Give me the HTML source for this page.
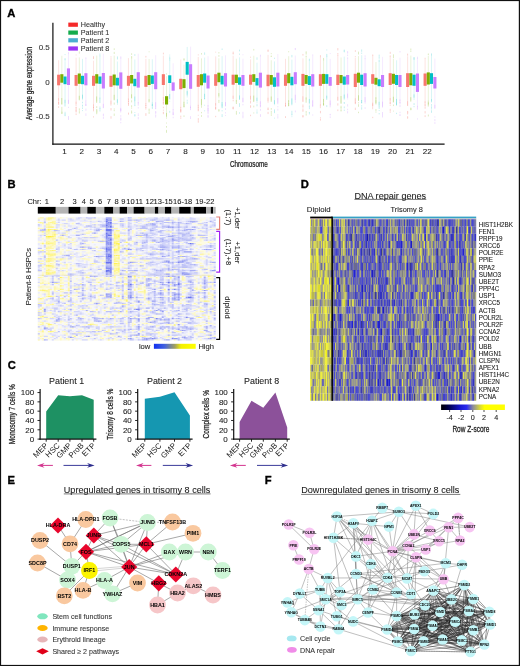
<!DOCTYPE html>
<html><head><meta charset="utf-8"><style>
html,body{margin:0;padding:0;background:#fff;}
body{width:520px;height:666px;overflow:hidden;}
svg{display:block;font-family:"Liberation Sans",sans-serif;will-change:transform;}
</style></head><body>
<svg width="520" height="666" viewBox="0 0 520 666">
<rect x="0" y="0" width="520" height="666" fill="#fff"/>
<text x="7.2" y="16.68" font-size="11.2" text-anchor="start" fill="#000" font-weight="bold" stroke="#000" stroke-width="0.35">A</text>
<rect x="68.3" y="22.6" width="9.6" height="4.2" fill="#f52a2a"/>
<text x="80.8" y="27.26" font-size="7.2" text-anchor="start" fill="#333" stroke="#333" stroke-width="0.08">Healthy</text>
<rect x="68.3" y="30.5" width="9.6" height="4.2" fill="#14ac4c"/>
<text x="80.8" y="35.16" font-size="7.2" text-anchor="start" fill="#333" stroke="#333" stroke-width="0.08">Patient 1</text>
<rect x="68.3" y="38.2" width="9.6" height="4.2" fill="#4aaed0"/>
<text x="80.8" y="42.86" font-size="7.2" text-anchor="start" fill="#333" stroke="#333" stroke-width="0.08">Patient 2</text>
<rect x="68.3" y="46.4" width="9.6" height="4.2" fill="#9a35f5"/>
<text x="80.8" y="51.06" font-size="7.2" text-anchor="start" fill="#333" stroke="#333" stroke-width="0.08">Patient 8</text>
<line x1="52.9" y1="22.8" x2="52.9" y2="144.7" stroke="#111" stroke-width="1.2"/>
<line x1="52.3" y1="144.1" x2="444.6" y2="144.1" stroke="#111" stroke-width="1.3"/>
<text x="49.8" y="49.54" font-size="8" text-anchor="end" fill="#333" stroke="#333" stroke-width="0.08">0.5</text>
<text x="49.8" y="85.04" font-size="8" text-anchor="end" fill="#333" stroke="#333" stroke-width="0.08">0</text>
<text x="49.8" y="119.24" font-size="8" text-anchor="end" fill="#333" stroke="#333" stroke-width="0.08">-0.5</text>
<text x="64.5" y="154.38" font-size="8.1" text-anchor="middle" fill="#222" stroke="#222" stroke-width="0.08">1</text>
<text x="81.77" y="154.38" font-size="8.1" text-anchor="middle" fill="#222" stroke="#222" stroke-width="0.08">2</text>
<text x="99.04" y="154.38" font-size="8.1" text-anchor="middle" fill="#222" stroke="#222" stroke-width="0.08">3</text>
<text x="116.31" y="154.38" font-size="8.1" text-anchor="middle" fill="#222" stroke="#222" stroke-width="0.08">4</text>
<text x="133.58" y="154.38" font-size="8.1" text-anchor="middle" fill="#222" stroke="#222" stroke-width="0.08">5</text>
<text x="150.85" y="154.38" font-size="8.1" text-anchor="middle" fill="#222" stroke="#222" stroke-width="0.08">6</text>
<text x="168.12" y="154.38" font-size="8.1" text-anchor="middle" fill="#222" stroke="#222" stroke-width="0.08">7</text>
<text x="185.39" y="154.38" font-size="8.1" text-anchor="middle" fill="#222" stroke="#222" stroke-width="0.08">8</text>
<text x="202.66" y="154.38" font-size="8.1" text-anchor="middle" fill="#222" stroke="#222" stroke-width="0.08">9</text>
<text x="219.93" y="154.38" font-size="8.1" text-anchor="middle" fill="#222" stroke="#222" stroke-width="0.08">10</text>
<text x="237.2" y="154.38" font-size="8.1" text-anchor="middle" fill="#222" stroke="#222" stroke-width="0.08">11</text>
<text x="254.47" y="154.38" font-size="8.1" text-anchor="middle" fill="#222" stroke="#222" stroke-width="0.08">12</text>
<text x="271.74" y="154.38" font-size="8.1" text-anchor="middle" fill="#222" stroke="#222" stroke-width="0.08">13</text>
<text x="289.01" y="154.38" font-size="8.1" text-anchor="middle" fill="#222" stroke="#222" stroke-width="0.08">14</text>
<text x="306.28" y="154.38" font-size="8.1" text-anchor="middle" fill="#222" stroke="#222" stroke-width="0.08">15</text>
<text x="323.55" y="154.38" font-size="8.1" text-anchor="middle" fill="#222" stroke="#222" stroke-width="0.08">16</text>
<text x="340.82" y="154.38" font-size="8.1" text-anchor="middle" fill="#222" stroke="#222" stroke-width="0.08">17</text>
<text x="358.09" y="154.38" font-size="8.1" text-anchor="middle" fill="#222" stroke="#222" stroke-width="0.08">18</text>
<text x="375.36" y="154.38" font-size="8.1" text-anchor="middle" fill="#222" stroke="#222" stroke-width="0.08">19</text>
<text x="392.63" y="154.38" font-size="8.1" text-anchor="middle" fill="#222" stroke="#222" stroke-width="0.08">20</text>
<text x="409.9" y="154.38" font-size="8.1" text-anchor="middle" fill="#222" stroke="#222" stroke-width="0.08">21</text>
<text x="427.17" y="154.38" font-size="8.1" text-anchor="middle" fill="#222" stroke="#222" stroke-width="0.08">22</text>
<text x="0" y="2.91" font-size="8.2" text-anchor="middle" fill="#222" transform="translate(248.8 163.8) scale(0.77 1)" stroke="#222" stroke-width="0.25">Chromosome</text>
<text x="0" y="2.91" font-size="8.2" text-anchor="middle" fill="#222" transform="translate(28.6 83.4) rotate(-90) scale(0.79 1)" stroke="#222" stroke-width="0.25">Average gene expression</text>
<g><line x1="58.65" y1="60.19" x2="58.65" y2="100.72" stroke="#fbd0cc" stroke-width="0.6"/><rect x="58.2" y="102.04" width="0.9" height="1.54" fill="#fbd0cc"/><rect x="58.2" y="102.96" width="0.9" height="2.05" fill="#fbd0cc"/><rect x="58.2" y="106.2" width="0.9" height="1.68" fill="#fbd0cc"/><rect x="58.15" y="98.14" width="0.9" height="5.35" fill="#f8766d" opacity="0.3"/><line x1="61.85" y1="55.77" x2="61.85" y2="102.44" stroke="#dcebbf" stroke-width="0.6"/><rect x="61.4" y="111.52" width="0.9" height="1.98" fill="#dcebbf"/><rect x="61.4" y="102.46" width="0.9" height="2.45" fill="#dcebbf"/><rect x="61.4" y="106.83" width="0.9" height="2.32" fill="#dcebbf"/><rect x="61.4" y="109.04" width="0.9" height="2.11" fill="#dcebbf"/><rect x="61.4" y="112.34" width="0.9" height="1.44" fill="#dcebbf"/><rect x="61.4" y="111.68" width="0.9" height="2.38" fill="#dcebbf"/><rect x="61.4" y="111.26" width="0.9" height="1.31" fill="#dcebbf"/><rect x="61.35" y="97.99" width="0.9" height="5.89" fill="#7cae00" opacity="0.3"/><line x1="65.05" y1="61.19" x2="65.05" y2="103.18" stroke="#c0eef0" stroke-width="0.6"/><rect x="64.6" y="114.66" width="0.9" height="1.53" fill="#c0eef0"/><rect x="64.6" y="54.16" width="0.9" height="0.97" fill="#c0eef0"/><rect x="64.6" y="58.04" width="0.9" height="1.62" fill="#c0eef0"/><rect x="64.6" y="112.96" width="0.9" height="1.3" fill="#c0eef0"/><rect x="64.6" y="58.98" width="0.9" height="1.76" fill="#c0eef0"/><rect x="64.6" y="111.76" width="0.9" height="1.13" fill="#c0eef0"/><rect x="64.6" y="113.64" width="0.9" height="2.08" fill="#c0eef0"/><rect x="64.55" y="99.78" width="0.9" height="6.68" fill="#00bfc4" opacity="0.3"/><line x1="68.45" y1="53.17" x2="68.45" y2="104.11" stroke="#eedcff" stroke-width="0.6"/><rect x="68" y="117.61" width="0.9" height="1.86" fill="#eedcff"/><rect x="68" y="117.69" width="0.9" height="2.14" fill="#eedcff"/><rect x="68" y="52.73" width="0.9" height="1.43" fill="#eedcff"/><rect x="68" y="106.81" width="0.9" height="1.16" fill="#eedcff"/><rect x="68" y="52.15" width="0.9" height="1.3" fill="#eedcff"/><rect x="68" y="116" width="0.9" height="2.44" fill="#eedcff"/><rect x="67.95" y="99.86" width="0.9" height="3.85" fill="#c77cff" opacity="0.3"/><line x1="76.1" y1="57.73" x2="76.1" y2="104.04" stroke="#fbd0cc" stroke-width="0.6"/><rect x="75.65" y="109.19" width="0.9" height="1.8" fill="#fbd0cc"/><rect x="75.65" y="113.4" width="0.9" height="1.69" fill="#fbd0cc"/><rect x="75.65" y="106.81" width="0.9" height="1.64" fill="#fbd0cc"/><rect x="75.65" y="110.77" width="0.9" height="1.71" fill="#fbd0cc"/><rect x="75.65" y="54.58" width="0.9" height="0.83" fill="#fbd0cc"/><rect x="75.65" y="106.91" width="0.9" height="2.06" fill="#fbd0cc"/><rect x="75.65" y="109.36" width="0.9" height="2.35" fill="#fbd0cc"/><rect x="75.6" y="101.68" width="0.9" height="4.4" fill="#f8766d" opacity="0.3"/><line x1="79.3" y1="57.41" x2="79.3" y2="100.68" stroke="#dcebbf" stroke-width="0.6"/><rect x="78.85" y="108.34" width="0.9" height="2.37" fill="#dcebbf"/><rect x="78.85" y="111.1" width="0.9" height="2.41" fill="#dcebbf"/><rect x="78.85" y="51.46" width="0.9" height="2.18" fill="#dcebbf"/><rect x="78.8" y="95.76" width="0.9" height="4.02" fill="#7cae00" opacity="0.3"/><line x1="82.5" y1="58.91" x2="82.5" y2="100.26" stroke="#c0eef0" stroke-width="0.6"/><rect x="82.05" y="104.71" width="0.9" height="1.85" fill="#c0eef0"/><rect x="82.05" y="101.72" width="0.9" height="1.55" fill="#c0eef0"/><rect x="82.05" y="110.15" width="0.9" height="0.95" fill="#c0eef0"/><rect x="82.05" y="107.43" width="0.9" height="1.49" fill="#c0eef0"/><rect x="82.05" y="104.92" width="0.9" height="1.14" fill="#c0eef0"/><rect x="82" y="94.67" width="0.9" height="3.98" fill="#00bfc4" opacity="0.3"/><line x1="85.9" y1="58.32" x2="85.9" y2="100.98" stroke="#eedcff" stroke-width="0.6"/><rect x="85.45" y="104.13" width="0.9" height="1.71" fill="#eedcff"/><rect x="85.45" y="57.31" width="0.9" height="1.51" fill="#eedcff"/><rect x="85.45" y="113.37" width="0.9" height="2.5" fill="#eedcff"/><rect x="85.45" y="108.5" width="0.9" height="2.3" fill="#eedcff"/><rect x="85.4" y="100.66" width="0.9" height="5.35" fill="#c77cff" opacity="0.3"/><line x1="93.55" y1="60.76" x2="93.55" y2="104.41" stroke="#fbd0cc" stroke-width="0.6"/><rect x="93.1" y="104.53" width="0.9" height="0.91" fill="#fbd0cc"/><rect x="93.1" y="116.27" width="0.9" height="1.2" fill="#fbd0cc"/><rect x="93.1" y="110.08" width="0.9" height="1.25" fill="#fbd0cc"/><rect x="93.1" y="108.72" width="0.9" height="1.43" fill="#fbd0cc"/><rect x="93.1" y="56.79" width="0.9" height="2.13" fill="#fbd0cc"/><rect x="93.1" y="106.65" width="0.9" height="1.55" fill="#fbd0cc"/><rect x="93.1" y="56.24" width="0.9" height="2.44" fill="#fbd0cc"/><rect x="93.05" y="104.4" width="0.9" height="4.36" fill="#f8766d" opacity="0.3"/><line x1="96.75" y1="55.59" x2="96.75" y2="101.62" stroke="#dcebbf" stroke-width="0.6"/><rect x="96.3" y="110.91" width="0.9" height="2.29" fill="#dcebbf"/><rect x="96.3" y="109.28" width="0.9" height="1.76" fill="#dcebbf"/><rect x="96.3" y="106.15" width="0.9" height="1.94" fill="#dcebbf"/><rect x="96.3" y="112.62" width="0.9" height="1.62" fill="#dcebbf"/><rect x="96.3" y="109.13" width="0.9" height="2.26" fill="#dcebbf"/><rect x="96.3" y="110.63" width="0.9" height="1.46" fill="#dcebbf"/><rect x="96.3" y="111.68" width="0.9" height="0.93" fill="#dcebbf"/><rect x="96.25" y="96.42" width="0.9" height="6.51" fill="#7cae00" opacity="0.3"/><line x1="99.95" y1="56.73" x2="99.95" y2="98.61" stroke="#c0eef0" stroke-width="0.6"/><rect x="99.5" y="53.52" width="0.9" height="1.26" fill="#c0eef0"/><rect x="99.5" y="107.85" width="0.9" height="1.07" fill="#c0eef0"/><rect x="99.5" y="107.85" width="0.9" height="2.03" fill="#c0eef0"/><rect x="99.5" y="109.97" width="0.9" height="1.54" fill="#c0eef0"/><rect x="99.5" y="106.49" width="0.9" height="1.28" fill="#c0eef0"/><rect x="99.5" y="55.03" width="0.9" height="1.72" fill="#c0eef0"/><rect x="99.45" y="97.61" width="0.9" height="5.46" fill="#00bfc4" opacity="0.3"/><line x1="103.35" y1="53.59" x2="103.35" y2="107.8" stroke="#eedcff" stroke-width="0.6"/><rect x="102.9" y="116.54" width="0.9" height="2.32" fill="#eedcff"/><rect x="102.9" y="113.6" width="0.9" height="2.01" fill="#eedcff"/><rect x="102.9" y="114.11" width="0.9" height="1.89" fill="#eedcff"/><rect x="102.85" y="103.78" width="0.9" height="4.41" fill="#c77cff" opacity="0.3"/><line x1="111" y1="57.89" x2="111" y2="104.26" stroke="#fbd0cc" stroke-width="0.6"/><rect x="110.55" y="108.97" width="0.9" height="1.54" fill="#fbd0cc"/><rect x="110.55" y="56.39" width="0.9" height="1.05" fill="#fbd0cc"/><rect x="110.55" y="116.19" width="0.9" height="2.48" fill="#fbd0cc"/><rect x="110.55" y="107.99" width="0.9" height="1.14" fill="#fbd0cc"/><rect x="110.5" y="100.66" width="0.9" height="4.94" fill="#f8766d" opacity="0.3"/><line x1="114.2" y1="55.58" x2="114.2" y2="100.56" stroke="#dcebbf" stroke-width="0.6"/><rect x="113.75" y="51.86" width="0.9" height="2.17" fill="#dcebbf"/><rect x="113.75" y="48.29" width="0.9" height="1.65" fill="#dcebbf"/><rect x="113.75" y="108.41" width="0.9" height="1.12" fill="#dcebbf"/><rect x="113.75" y="113.53" width="0.9" height="2.35" fill="#dcebbf"/><rect x="113.75" y="109.85" width="0.9" height="1.36" fill="#dcebbf"/><rect x="113.75" y="102.51" width="0.9" height="2.15" fill="#dcebbf"/><rect x="113.7" y="94.8" width="0.9" height="5.08" fill="#7cae00" opacity="0.3"/><line x1="117.4" y1="61.5" x2="117.4" y2="102.56" stroke="#c0eef0" stroke-width="0.6"/><rect x="116.95" y="103.46" width="0.9" height="1.16" fill="#c0eef0"/><rect x="116.95" y="57.55" width="0.9" height="1.92" fill="#c0eef0"/><rect x="116.95" y="56.41" width="0.9" height="2.05" fill="#c0eef0"/><rect x="116.9" y="99.29" width="0.9" height="3.92" fill="#00bfc4" opacity="0.3"/><line x1="120.8" y1="57.28" x2="120.8" y2="108.76" stroke="#eedcff" stroke-width="0.6"/><rect x="120.35" y="118.43" width="0.9" height="2.3" fill="#eedcff"/><rect x="120.35" y="109.44" width="0.9" height="1.48" fill="#eedcff"/><rect x="120.35" y="115.22" width="0.9" height="1.53" fill="#eedcff"/><rect x="120.35" y="56.32" width="0.9" height="2.4" fill="#eedcff"/><rect x="120.35" y="121.9" width="0.9" height="1.37" fill="#eedcff"/><rect x="120.35" y="108.8" width="0.9" height="1.56" fill="#eedcff"/><rect x="120.35" y="117.56" width="0.9" height="2.17" fill="#eedcff"/><rect x="120.3" y="107.84" width="0.9" height="4.6" fill="#c77cff" opacity="0.3"/><line x1="128.45" y1="58.12" x2="128.45" y2="99.97" stroke="#fbd0cc" stroke-width="0.6"/><rect x="128" y="103.42" width="0.9" height="1.18" fill="#fbd0cc"/><rect x="128" y="100.64" width="0.9" height="1.22" fill="#fbd0cc"/><rect x="128" y="103.59" width="0.9" height="2.04" fill="#fbd0cc"/><rect x="128" y="112.63" width="0.9" height="1.99" fill="#fbd0cc"/><rect x="128" y="104.51" width="0.9" height="1.01" fill="#fbd0cc"/><rect x="127.95" y="98.52" width="0.9" height="5.42" fill="#f8766d" opacity="0.3"/><line x1="131.65" y1="56.61" x2="131.65" y2="99.28" stroke="#dcebbf" stroke-width="0.6"/><rect x="131.2" y="110.52" width="0.9" height="2.43" fill="#dcebbf"/><rect x="131.2" y="100.27" width="0.9" height="2.09" fill="#dcebbf"/><rect x="131.2" y="105.23" width="0.9" height="1.88" fill="#dcebbf"/><rect x="131.2" y="56.06" width="0.9" height="2.44" fill="#dcebbf"/><rect x="131.2" y="53.28" width="0.9" height="1.6" fill="#dcebbf"/><rect x="131.2" y="107.5" width="0.9" height="1.15" fill="#dcebbf"/><rect x="131.2" y="111.94" width="0.9" height="1.66" fill="#dcebbf"/><rect x="131.15" y="94.31" width="0.9" height="3.72" fill="#7cae00" opacity="0.3"/><line x1="134.85" y1="59.5" x2="134.85" y2="100.94" stroke="#c0eef0" stroke-width="0.6"/><rect x="134.4" y="105.17" width="0.9" height="1" fill="#c0eef0"/><rect x="134.4" y="112.05" width="0.9" height="0.83" fill="#c0eef0"/><rect x="134.4" y="114.18" width="0.9" height="2.13" fill="#c0eef0"/><rect x="134.4" y="103.63" width="0.9" height="2.27" fill="#c0eef0"/><rect x="134.4" y="54.15" width="0.9" height="1.7" fill="#c0eef0"/><rect x="134.4" y="114.63" width="0.9" height="1.69" fill="#c0eef0"/><rect x="134.4" y="101.99" width="0.9" height="1.81" fill="#c0eef0"/><rect x="134.35" y="96.54" width="0.9" height="5.51" fill="#00bfc4" opacity="0.3"/><line x1="138.25" y1="53.74" x2="138.25" y2="103.37" stroke="#eedcff" stroke-width="0.6"/><rect x="137.8" y="107.08" width="0.9" height="1.43" fill="#eedcff"/><rect x="137.8" y="115.04" width="0.9" height="1.05" fill="#eedcff"/><rect x="137.8" y="113.36" width="0.9" height="1.48" fill="#eedcff"/><rect x="137.8" y="117.01" width="0.9" height="2.32" fill="#eedcff"/><rect x="137.75" y="102.05" width="0.9" height="3.62" fill="#c77cff" opacity="0.3"/><line x1="145.9" y1="58.85" x2="145.9" y2="104.24" stroke="#fbd0cc" stroke-width="0.6"/><rect x="145.45" y="113.74" width="0.9" height="2.18" fill="#fbd0cc"/><rect x="145.45" y="113.28" width="0.9" height="0.9" fill="#fbd0cc"/><rect x="145.45" y="105.02" width="0.9" height="1" fill="#fbd0cc"/><rect x="145.45" y="55.88" width="0.9" height="1.64" fill="#fbd0cc"/><rect x="145.45" y="107.14" width="0.9" height="0.88" fill="#fbd0cc"/><rect x="145.4" y="103.15" width="0.9" height="6.43" fill="#f8766d" opacity="0.3"/><line x1="149.1" y1="58.97" x2="149.1" y2="101.52" stroke="#dcebbf" stroke-width="0.6"/><rect x="148.65" y="111.9" width="0.9" height="1.99" fill="#dcebbf"/><rect x="148.65" y="108.61" width="0.9" height="1.47" fill="#dcebbf"/><rect x="148.65" y="109.83" width="0.9" height="1.78" fill="#dcebbf"/><rect x="148.65" y="51.37" width="0.9" height="0.89" fill="#dcebbf"/><rect x="148.6" y="99.24" width="0.9" height="3.16" fill="#7cae00" opacity="0.3"/><line x1="152.3" y1="59.25" x2="152.3" y2="102.72" stroke="#c0eef0" stroke-width="0.6"/><rect x="151.85" y="103.93" width="0.9" height="2.18" fill="#c0eef0"/><rect x="151.85" y="106.96" width="0.9" height="2.14" fill="#c0eef0"/><rect x="151.85" y="105.34" width="0.9" height="2.14" fill="#c0eef0"/><rect x="151.8" y="102.44" width="0.9" height="3.53" fill="#00bfc4" opacity="0.3"/><line x1="155.7" y1="55.19" x2="155.7" y2="107.46" stroke="#eedcff" stroke-width="0.6"/><rect x="155.25" y="107.98" width="0.9" height="1.27" fill="#eedcff"/><rect x="155.25" y="112.34" width="0.9" height="1.13" fill="#eedcff"/><rect x="155.25" y="111.14" width="0.9" height="2.38" fill="#eedcff"/><rect x="155.25" y="115.2" width="0.9" height="2.35" fill="#eedcff"/><rect x="155.25" y="111.39" width="0.9" height="1.9" fill="#eedcff"/><rect x="155.25" y="114.45" width="0.9" height="1.25" fill="#eedcff"/><rect x="155.2" y="102.21" width="0.9" height="6.46" fill="#c77cff" opacity="0.3"/><line x1="163.35" y1="55.63" x2="163.35" y2="101.25" stroke="#fbd0cc" stroke-width="0.6"/><rect x="162.9" y="52.67" width="0.9" height="1.69" fill="#fbd0cc"/><rect x="162.9" y="102.77" width="0.9" height="2.02" fill="#fbd0cc"/><rect x="162.9" y="109.67" width="0.9" height="0.99" fill="#fbd0cc"/><rect x="162.9" y="111.8" width="0.9" height="2.4" fill="#fbd0cc"/><rect x="162.9" y="106.71" width="0.9" height="1.48" fill="#fbd0cc"/><rect x="162.9" y="112.28" width="0.9" height="1" fill="#fbd0cc"/><rect x="162.9" y="102.03" width="0.9" height="1.2" fill="#fbd0cc"/><rect x="162.85" y="96.85" width="0.9" height="6.75" fill="#f8766d" opacity="0.3"/><line x1="166.55" y1="76.32" x2="166.55" y2="118.91" stroke="#dcebbf" stroke-width="0.6"/><rect x="166.1" y="131.12" width="0.9" height="1.66" fill="#dcebbf"/><rect x="166.1" y="129.86" width="0.9" height="2.27" fill="#dcebbf"/><rect x="166.1" y="126.15" width="0.9" height="1.05" fill="#dcebbf"/><rect x="166.1" y="126.34" width="0.9" height="1.23" fill="#dcebbf"/><rect x="166.1" y="73.39" width="0.9" height="1.11" fill="#dcebbf"/><rect x="166.1" y="122.58" width="0.9" height="0.91" fill="#dcebbf"/><rect x="166.05" y="112.91" width="0.9" height="3.74" fill="#7cae00" opacity="0.3"/><line x1="169.75" y1="60.51" x2="169.75" y2="99.88" stroke="#c0eef0" stroke-width="0.6"/><rect x="169.3" y="59.91" width="0.9" height="0.87" fill="#c0eef0"/><rect x="169.3" y="56.38" width="0.9" height="2.38" fill="#c0eef0"/><rect x="169.3" y="54.64" width="0.9" height="0.85" fill="#c0eef0"/><rect x="169.3" y="100.79" width="0.9" height="0.82" fill="#c0eef0"/><rect x="169.3" y="58.06" width="0.9" height="2.07" fill="#c0eef0"/><rect x="169.3" y="110.86" width="0.9" height="1.89" fill="#c0eef0"/><rect x="169.25" y="94.05" width="0.9" height="4.9" fill="#00bfc4" opacity="0.3"/><line x1="173.15" y1="63.28" x2="173.15" y2="109.63" stroke="#eedcff" stroke-width="0.6"/><rect x="172.7" y="116.72" width="0.9" height="1.53" fill="#eedcff"/><rect x="172.7" y="112.37" width="0.9" height="1.55" fill="#eedcff"/><rect x="172.7" y="113.93" width="0.9" height="1.17" fill="#eedcff"/><rect x="172.65" y="108.99" width="0.9" height="6.22" fill="#c77cff" opacity="0.3"/><line x1="180.8" y1="59.55" x2="180.8" y2="108.2" stroke="#fbd0cc" stroke-width="0.6"/><rect x="180.35" y="109.01" width="0.9" height="2.3" fill="#fbd0cc"/><rect x="180.35" y="117.82" width="0.9" height="1.01" fill="#fbd0cc"/><rect x="180.35" y="110.26" width="0.9" height="2.43" fill="#fbd0cc"/><rect x="180.35" y="115.63" width="0.9" height="1.91" fill="#fbd0cc"/><rect x="180.3" y="106.83" width="0.9" height="5" fill="#f8766d" opacity="0.3"/><line x1="184" y1="64.68" x2="184" y2="103.78" stroke="#dcebbf" stroke-width="0.6"/><rect x="183.55" y="106.09" width="0.9" height="1.51" fill="#dcebbf"/><rect x="183.55" y="104.14" width="0.9" height="1.37" fill="#dcebbf"/><rect x="183.55" y="58.87" width="0.9" height="1.53" fill="#dcebbf"/><rect x="183.55" y="105.48" width="0.9" height="1.51" fill="#dcebbf"/><rect x="183.55" y="115.34" width="0.9" height="1.59" fill="#dcebbf"/><rect x="183.55" y="58.19" width="0.9" height="2.24" fill="#dcebbf"/><rect x="183.5" y="101.79" width="0.9" height="4.87" fill="#7cae00" opacity="0.3"/><line x1="187.2" y1="46.94" x2="187.2" y2="92.21" stroke="#c0eef0" stroke-width="0.6"/><rect x="186.75" y="94.5" width="0.9" height="1.61" fill="#c0eef0"/><rect x="186.75" y="92.23" width="0.9" height="1.52" fill="#c0eef0"/><rect x="186.75" y="99.78" width="0.9" height="1.01" fill="#c0eef0"/><rect x="186.75" y="96.4" width="0.9" height="0.94" fill="#c0eef0"/><rect x="186.75" y="101.54" width="0.9" height="1.31" fill="#c0eef0"/><rect x="186.75" y="103.25" width="0.9" height="0.82" fill="#c0eef0"/><rect x="186.7" y="90.91" width="0.9" height="4.13" fill="#00bfc4" opacity="0.3"/><line x1="190.6" y1="46.65" x2="190.6" y2="105.72" stroke="#eedcff" stroke-width="0.6"/><rect x="190.15" y="106.75" width="0.9" height="1.29" fill="#eedcff"/><rect x="190.15" y="116.17" width="0.9" height="1.96" fill="#eedcff"/><rect x="190.15" y="117.99" width="0.9" height="1.03" fill="#eedcff"/><rect x="190.1" y="105.61" width="0.9" height="4.49" fill="#c77cff" opacity="0.3"/><line x1="198.25" y1="56.99" x2="198.25" y2="106.48" stroke="#fbd0cc" stroke-width="0.6"/><rect x="197.8" y="114.84" width="0.9" height="0.83" fill="#fbd0cc"/><rect x="197.8" y="54.41" width="0.9" height="0.97" fill="#fbd0cc"/><rect x="197.8" y="118.08" width="0.9" height="2.34" fill="#fbd0cc"/><rect x="197.8" y="120.45" width="0.9" height="2.26" fill="#fbd0cc"/><rect x="197.8" y="107.19" width="0.9" height="1.06" fill="#fbd0cc"/><rect x="197.8" y="109.35" width="0.9" height="1.11" fill="#fbd0cc"/><rect x="197.75" y="104.84" width="0.9" height="6.51" fill="#f8766d" opacity="0.3"/><line x1="201.45" y1="59.98" x2="201.45" y2="104.83" stroke="#dcebbf" stroke-width="0.6"/><rect x="201" y="115.17" width="0.9" height="1.67" fill="#dcebbf"/><rect x="201" y="58.53" width="0.9" height="1.23" fill="#dcebbf"/><rect x="201" y="111.94" width="0.9" height="1.36" fill="#dcebbf"/><rect x="201" y="106.08" width="0.9" height="1.65" fill="#dcebbf"/><rect x="201" y="53.05" width="0.9" height="1.5" fill="#dcebbf"/><rect x="200.95" y="98.96" width="0.9" height="6.87" fill="#7cae00" opacity="0.3"/><line x1="204.65" y1="57.58" x2="204.65" y2="97.4" stroke="#c0eef0" stroke-width="0.6"/><rect x="204.2" y="52.39" width="0.9" height="2.44" fill="#c0eef0"/><rect x="204.2" y="104.73" width="0.9" height="0.93" fill="#c0eef0"/><rect x="204.2" y="110.34" width="0.9" height="0.98" fill="#c0eef0"/><rect x="204.2" y="97.86" width="0.9" height="1.64" fill="#c0eef0"/><rect x="204.15" y="93.78" width="0.9" height="5.13" fill="#00bfc4" opacity="0.3"/><line x1="208.05" y1="56.23" x2="208.05" y2="106.58" stroke="#eedcff" stroke-width="0.6"/><rect x="207.6" y="115.02" width="0.9" height="1.66" fill="#eedcff"/><rect x="207.6" y="107.95" width="0.9" height="1.89" fill="#eedcff"/><rect x="207.6" y="112.4" width="0.9" height="1.9" fill="#eedcff"/><rect x="207.6" y="110" width="0.9" height="1.25" fill="#eedcff"/><rect x="207.6" y="115.86" width="0.9" height="2.02" fill="#eedcff"/><rect x="207.6" y="110.37" width="0.9" height="1.05" fill="#eedcff"/><rect x="207.6" y="110.73" width="0.9" height="2.28" fill="#eedcff"/><rect x="207.55" y="104.99" width="0.9" height="5.58" fill="#c77cff" opacity="0.3"/><line x1="215.7" y1="56.38" x2="215.7" y2="105.45" stroke="#fbd0cc" stroke-width="0.6"/><rect x="215.25" y="51.71" width="0.9" height="0.81" fill="#fbd0cc"/><rect x="215.25" y="115.82" width="0.9" height="1.38" fill="#fbd0cc"/><rect x="215.25" y="107.1" width="0.9" height="1.9" fill="#fbd0cc"/><rect x="215.2" y="103.14" width="0.9" height="6.78" fill="#f8766d" opacity="0.3"/><line x1="218.9" y1="58.27" x2="218.9" y2="98.36" stroke="#dcebbf" stroke-width="0.6"/><rect x="218.45" y="55.13" width="0.9" height="1.59" fill="#dcebbf"/><rect x="218.45" y="99.73" width="0.9" height="1.34" fill="#dcebbf"/><rect x="218.45" y="52.13" width="0.9" height="1.33" fill="#dcebbf"/><rect x="218.45" y="109.48" width="0.9" height="2.15" fill="#dcebbf"/><rect x="218.45" y="100.66" width="0.9" height="2.43" fill="#dcebbf"/><rect x="218.45" y="109.26" width="0.9" height="1.87" fill="#dcebbf"/><rect x="218.4" y="93.13" width="0.9" height="3.31" fill="#7cae00" opacity="0.3"/><line x1="222.1" y1="56.2" x2="222.1" y2="103.76" stroke="#c0eef0" stroke-width="0.6"/><rect x="221.65" y="103.84" width="0.9" height="2.27" fill="#c0eef0"/><rect x="221.65" y="114.12" width="0.9" height="2.15" fill="#c0eef0"/><rect x="221.65" y="116.11" width="0.9" height="0.98" fill="#c0eef0"/><rect x="221.65" y="110.14" width="0.9" height="1.23" fill="#c0eef0"/><rect x="221.65" y="106.42" width="0.9" height="1.86" fill="#c0eef0"/><rect x="221.65" y="48.49" width="0.9" height="1.48" fill="#c0eef0"/><rect x="221.6" y="102.04" width="0.9" height="5.31" fill="#00bfc4" opacity="0.3"/><line x1="225.5" y1="55.29" x2="225.5" y2="106.04" stroke="#eedcff" stroke-width="0.6"/><rect x="225.05" y="112.18" width="0.9" height="1.31" fill="#eedcff"/><rect x="225.05" y="114.96" width="0.9" height="0.92" fill="#eedcff"/><rect x="225.05" y="108.38" width="0.9" height="1.64" fill="#eedcff"/><rect x="225.05" y="108.26" width="0.9" height="1.7" fill="#eedcff"/><rect x="225" y="102.08" width="0.9" height="4.36" fill="#c77cff" opacity="0.3"/><line x1="233.15" y1="55.69" x2="233.15" y2="99.31" stroke="#fbd0cc" stroke-width="0.6"/><rect x="232.7" y="107.19" width="0.9" height="2.08" fill="#fbd0cc"/><rect x="232.7" y="51.61" width="0.9" height="2.19" fill="#fbd0cc"/><rect x="232.7" y="106.51" width="0.9" height="1.66" fill="#fbd0cc"/><rect x="232.7" y="52.93" width="0.9" height="1.52" fill="#fbd0cc"/><rect x="232.7" y="108.27" width="0.9" height="0.9" fill="#fbd0cc"/><rect x="232.7" y="99.85" width="0.9" height="1.45" fill="#fbd0cc"/><rect x="232.7" y="107.23" width="0.9" height="1.77" fill="#fbd0cc"/><rect x="232.65" y="95.69" width="0.9" height="3.1" fill="#f8766d" opacity="0.3"/><line x1="236.35" y1="58.73" x2="236.35" y2="101.43" stroke="#dcebbf" stroke-width="0.6"/><rect x="235.9" y="113" width="0.9" height="1.72" fill="#dcebbf"/><rect x="235.9" y="110.9" width="0.9" height="2.47" fill="#dcebbf"/><rect x="235.9" y="103.09" width="0.9" height="0.95" fill="#dcebbf"/><rect x="235.85" y="100.19" width="0.9" height="3.08" fill="#7cae00" opacity="0.3"/><line x1="239.55" y1="57.37" x2="239.55" y2="99.6" stroke="#c0eef0" stroke-width="0.6"/><rect x="239.1" y="53.58" width="0.9" height="1.22" fill="#c0eef0"/><rect x="239.1" y="105.51" width="0.9" height="1.32" fill="#c0eef0"/><rect x="239.1" y="105.39" width="0.9" height="0.94" fill="#c0eef0"/><rect x="239.1" y="49.62" width="0.9" height="1.76" fill="#c0eef0"/><rect x="239.1" y="112.32" width="0.9" height="1.42" fill="#c0eef0"/><rect x="239.1" y="103.18" width="0.9" height="2.38" fill="#c0eef0"/><rect x="239.05" y="95.45" width="0.9" height="4.2" fill="#00bfc4" opacity="0.3"/><line x1="242.95" y1="58.78" x2="242.95" y2="102.34" stroke="#eedcff" stroke-width="0.6"/><rect x="242.5" y="111.75" width="0.9" height="2.41" fill="#eedcff"/><rect x="242.5" y="114.21" width="0.9" height="2.24" fill="#eedcff"/><rect x="242.5" y="116.03" width="0.9" height="2.29" fill="#eedcff"/><rect x="242.5" y="103.83" width="0.9" height="1.56" fill="#eedcff"/><rect x="242.5" y="54.35" width="0.9" height="0.9" fill="#eedcff"/><rect x="242.45" y="97.75" width="0.9" height="4.64" fill="#c77cff" opacity="0.3"/><line x1="250.6" y1="59.38" x2="250.6" y2="100.79" stroke="#fbd0cc" stroke-width="0.6"/><rect x="250.15" y="101" width="0.9" height="2.5" fill="#fbd0cc"/><rect x="250.15" y="105.53" width="0.9" height="1.31" fill="#fbd0cc"/><rect x="250.15" y="105.53" width="0.9" height="2.31" fill="#fbd0cc"/><rect x="250.15" y="114.74" width="0.9" height="1.47" fill="#fbd0cc"/><rect x="250.15" y="56.7" width="0.9" height="0.94" fill="#fbd0cc"/><rect x="250.1" y="95.79" width="0.9" height="3.63" fill="#f8766d" opacity="0.3"/><line x1="253.8" y1="55.74" x2="253.8" y2="101.18" stroke="#dcebbf" stroke-width="0.6"/><rect x="253.35" y="105.63" width="0.9" height="1.76" fill="#dcebbf"/><rect x="253.35" y="48.9" width="0.9" height="1.63" fill="#dcebbf"/><rect x="253.35" y="112.43" width="0.9" height="1.06" fill="#dcebbf"/><rect x="253.3" y="95.59" width="0.9" height="6.46" fill="#7cae00" opacity="0.3"/><line x1="257" y1="62.7" x2="257" y2="103.27" stroke="#c0eef0" stroke-width="0.6"/><rect x="256.55" y="104.28" width="0.9" height="0.91" fill="#c0eef0"/><rect x="256.55" y="104.74" width="0.9" height="1.62" fill="#c0eef0"/><rect x="256.55" y="111.34" width="0.9" height="2.34" fill="#c0eef0"/><rect x="256.55" y="109.56" width="0.9" height="1.02" fill="#c0eef0"/><rect x="256.55" y="57.32" width="0.9" height="2.47" fill="#c0eef0"/><rect x="256.5" y="97.67" width="0.9" height="3.34" fill="#00bfc4" opacity="0.3"/><line x1="260.4" y1="55.08" x2="260.4" y2="104.52" stroke="#eedcff" stroke-width="0.6"/><rect x="259.95" y="54.72" width="0.9" height="1.92" fill="#eedcff"/><rect x="259.95" y="109.75" width="0.9" height="1.01" fill="#eedcff"/><rect x="259.95" y="105.2" width="0.9" height="1.37" fill="#eedcff"/><rect x="259.95" y="108.83" width="0.9" height="1.22" fill="#eedcff"/><rect x="259.95" y="114.1" width="0.9" height="2" fill="#eedcff"/><rect x="259.95" y="115.08" width="0.9" height="1.92" fill="#eedcff"/><rect x="259.9" y="101.32" width="0.9" height="6.12" fill="#c77cff" opacity="0.3"/><line x1="268.05" y1="54.87" x2="268.05" y2="103.08" stroke="#fbd0cc" stroke-width="0.6"/><rect x="267.6" y="108.5" width="0.9" height="1.61" fill="#fbd0cc"/><rect x="267.6" y="107.5" width="0.9" height="2.37" fill="#fbd0cc"/><rect x="267.6" y="111.83" width="0.9" height="2.26" fill="#fbd0cc"/><rect x="267.6" y="49.48" width="0.9" height="2.01" fill="#fbd0cc"/><rect x="267.6" y="50.17" width="0.9" height="1.54" fill="#fbd0cc"/><rect x="267.55" y="97.69" width="0.9" height="3.64" fill="#f8766d" opacity="0.3"/><line x1="271.25" y1="60.23" x2="271.25" y2="100.58" stroke="#dcebbf" stroke-width="0.6"/><rect x="270.8" y="114.21" width="0.9" height="1.7" fill="#dcebbf"/><rect x="270.8" y="55.81" width="0.9" height="1.17" fill="#dcebbf"/><rect x="270.8" y="53.17" width="0.9" height="1.01" fill="#dcebbf"/><rect x="270.8" y="55.68" width="0.9" height="1.1" fill="#dcebbf"/><rect x="270.8" y="110.85" width="0.9" height="1.12" fill="#dcebbf"/><rect x="270.8" y="108.04" width="0.9" height="1.7" fill="#dcebbf"/><rect x="270.8" y="112.13" width="0.9" height="1.72" fill="#dcebbf"/><rect x="270.75" y="96.44" width="0.9" height="5.51" fill="#7cae00" opacity="0.3"/><line x1="274.45" y1="61.38" x2="274.45" y2="105.22" stroke="#c0eef0" stroke-width="0.6"/><rect x="274" y="57.72" width="0.9" height="1.13" fill="#c0eef0"/><rect x="274" y="110.74" width="0.9" height="2.42" fill="#c0eef0"/><rect x="274" y="117.68" width="0.9" height="0.84" fill="#c0eef0"/><rect x="274" y="109.35" width="0.9" height="2.06" fill="#c0eef0"/><rect x="274" y="111.05" width="0.9" height="1.5" fill="#c0eef0"/><rect x="273.95" y="100.17" width="0.9" height="3.87" fill="#00bfc4" opacity="0.3"/><line x1="277.85" y1="53.97" x2="277.85" y2="102.74" stroke="#eedcff" stroke-width="0.6"/><rect x="277.4" y="114.17" width="0.9" height="1.53" fill="#eedcff"/><rect x="277.4" y="106.11" width="0.9" height="1.22" fill="#eedcff"/><rect x="277.4" y="108.72" width="0.9" height="1.9" fill="#eedcff"/><rect x="277.4" y="116.13" width="0.9" height="2.4" fill="#eedcff"/><rect x="277.35" y="98.08" width="0.9" height="6.17" fill="#c77cff" opacity="0.3"/><line x1="285.5" y1="58.82" x2="285.5" y2="104.35" stroke="#fbd0cc" stroke-width="0.6"/><rect x="285.05" y="105.3" width="0.9" height="1.34" fill="#fbd0cc"/><rect x="285.05" y="104.79" width="0.9" height="1.45" fill="#fbd0cc"/><rect x="285.05" y="116.2" width="0.9" height="1.76" fill="#fbd0cc"/><rect x="285" y="102.88" width="0.9" height="3.35" fill="#f8766d" opacity="0.3"/><line x1="288.7" y1="56.16" x2="288.7" y2="102.04" stroke="#dcebbf" stroke-width="0.6"/><rect x="288.25" y="51.2" width="0.9" height="1.11" fill="#dcebbf"/><rect x="288.25" y="102.71" width="0.9" height="1.26" fill="#dcebbf"/><rect x="288.25" y="104.13" width="0.9" height="1.85" fill="#dcebbf"/><rect x="288.2" y="100.15" width="0.9" height="6.16" fill="#7cae00" opacity="0.3"/><line x1="291.9" y1="59.62" x2="291.9" y2="103.9" stroke="#c0eef0" stroke-width="0.6"/><rect x="291.45" y="116.32" width="0.9" height="0.83" fill="#c0eef0"/><rect x="291.45" y="54.89" width="0.9" height="2.5" fill="#c0eef0"/><rect x="291.45" y="110.76" width="0.9" height="1.96" fill="#c0eef0"/><rect x="291.45" y="112.6" width="0.9" height="2.27" fill="#c0eef0"/><rect x="291.45" y="113.95" width="0.9" height="1.56" fill="#c0eef0"/><rect x="291.4" y="98.43" width="0.9" height="6.79" fill="#00bfc4" opacity="0.3"/><line x1="295.3" y1="55.53" x2="295.3" y2="100.35" stroke="#eedcff" stroke-width="0.6"/><rect x="294.85" y="48" width="0.9" height="2.11" fill="#eedcff"/><rect x="294.85" y="47.95" width="0.9" height="1.62" fill="#eedcff"/><rect x="294.85" y="101.15" width="0.9" height="1.55" fill="#eedcff"/><rect x="294.85" y="110.5" width="0.9" height="1.84" fill="#eedcff"/><rect x="294.8" y="94.73" width="0.9" height="5.76" fill="#c77cff" opacity="0.3"/><line x1="302.95" y1="58.4" x2="302.95" y2="102.05" stroke="#fbd0cc" stroke-width="0.6"/><rect x="302.5" y="115.22" width="0.9" height="1.88" fill="#fbd0cc"/><rect x="302.5" y="105.9" width="0.9" height="1.78" fill="#fbd0cc"/><rect x="302.5" y="108.46" width="0.9" height="2.32" fill="#fbd0cc"/><rect x="302.5" y="53.91" width="0.9" height="1.73" fill="#fbd0cc"/><rect x="302.5" y="110.29" width="0.9" height="1.58" fill="#fbd0cc"/><rect x="302.5" y="115.39" width="0.9" height="2.08" fill="#fbd0cc"/><rect x="302.5" y="104.46" width="0.9" height="1.97" fill="#fbd0cc"/><rect x="302.45" y="96.2" width="0.9" height="5.39" fill="#f8766d" opacity="0.3"/><line x1="306.15" y1="55.97" x2="306.15" y2="99.57" stroke="#dcebbf" stroke-width="0.6"/><rect x="305.7" y="113.33" width="0.9" height="2.29" fill="#dcebbf"/><rect x="305.7" y="111" width="0.9" height="1.89" fill="#dcebbf"/><rect x="305.7" y="51.26" width="0.9" height="1.96" fill="#dcebbf"/><rect x="305.7" y="52.53" width="0.9" height="2.05" fill="#dcebbf"/><rect x="305.7" y="55.65" width="0.9" height="1.23" fill="#dcebbf"/><rect x="305.65" y="97.42" width="0.9" height="5.3" fill="#7cae00" opacity="0.3"/><line x1="309.35" y1="59.37" x2="309.35" y2="104.66" stroke="#c0eef0" stroke-width="0.6"/><rect x="308.9" y="105.73" width="0.9" height="1.1" fill="#c0eef0"/><rect x="308.9" y="105.38" width="0.9" height="2.4" fill="#c0eef0"/><rect x="308.9" y="58.69" width="0.9" height="2.14" fill="#c0eef0"/><rect x="308.9" y="111.89" width="0.9" height="1.16" fill="#c0eef0"/><rect x="308.9" y="112.12" width="0.9" height="2.3" fill="#c0eef0"/><rect x="308.9" y="107.57" width="0.9" height="1.63" fill="#c0eef0"/><rect x="308.85" y="98.92" width="0.9" height="4.45" fill="#00bfc4" opacity="0.3"/><line x1="312.75" y1="54.98" x2="312.75" y2="103.75" stroke="#eedcff" stroke-width="0.6"/><rect x="312.3" y="114.43" width="0.9" height="1.13" fill="#eedcff"/><rect x="312.3" y="104.23" width="0.9" height="1.69" fill="#eedcff"/><rect x="312.3" y="54.41" width="0.9" height="0.97" fill="#eedcff"/><rect x="312.25" y="100.31" width="0.9" height="6.73" fill="#c77cff" opacity="0.3"/><line x1="320.4" y1="56.86" x2="320.4" y2="105.57" stroke="#fbd0cc" stroke-width="0.6"/><rect x="319.95" y="55.17" width="0.9" height="2.11" fill="#fbd0cc"/><rect x="319.95" y="117.26" width="0.9" height="0.86" fill="#fbd0cc"/><rect x="319.95" y="118.51" width="0.9" height="2.11" fill="#fbd0cc"/><rect x="319.95" y="110.86" width="0.9" height="2.41" fill="#fbd0cc"/><rect x="319.9" y="104.4" width="0.9" height="3.76" fill="#f8766d" opacity="0.3"/><line x1="323.6" y1="59.53" x2="323.6" y2="101.92" stroke="#dcebbf" stroke-width="0.6"/><rect x="323.15" y="58.49" width="0.9" height="2.1" fill="#dcebbf"/><rect x="323.15" y="57.9" width="0.9" height="1.68" fill="#dcebbf"/><rect x="323.15" y="102.7" width="0.9" height="2.41" fill="#dcebbf"/><rect x="323.15" y="104.01" width="0.9" height="2" fill="#dcebbf"/><rect x="323.1" y="98.91" width="0.9" height="6.14" fill="#7cae00" opacity="0.3"/><line x1="326.8" y1="56.33" x2="326.8" y2="98.37" stroke="#c0eef0" stroke-width="0.6"/><rect x="326.35" y="53.88" width="0.9" height="1.11" fill="#c0eef0"/><rect x="326.35" y="55.66" width="0.9" height="1.49" fill="#c0eef0"/><rect x="326.35" y="49.45" width="0.9" height="1.03" fill="#c0eef0"/><rect x="326.35" y="105.13" width="0.9" height="1.96" fill="#c0eef0"/><rect x="326.35" y="54.74" width="0.9" height="1.52" fill="#c0eef0"/><rect x="326.3" y="95.66" width="0.9" height="4.22" fill="#00bfc4" opacity="0.3"/><line x1="330.2" y1="58.92" x2="330.2" y2="103.03" stroke="#eedcff" stroke-width="0.6"/><rect x="329.75" y="113.83" width="0.9" height="1.31" fill="#eedcff"/><rect x="329.75" y="113.98" width="0.9" height="1.38" fill="#eedcff"/><rect x="329.75" y="103.06" width="0.9" height="2.14" fill="#eedcff"/><rect x="329.75" y="53.21" width="0.9" height="0.84" fill="#eedcff"/><rect x="329.75" y="116.32" width="0.9" height="1.75" fill="#eedcff"/><rect x="329.7" y="100.45" width="0.9" height="6.89" fill="#c77cff" opacity="0.3"/><line x1="337.85" y1="54.89" x2="337.85" y2="100.5" stroke="#fbd0cc" stroke-width="0.6"/><rect x="337.4" y="48.07" width="0.9" height="2.35" fill="#fbd0cc"/><rect x="337.4" y="54.34" width="0.9" height="1.32" fill="#fbd0cc"/><rect x="337.4" y="109.42" width="0.9" height="1.73" fill="#fbd0cc"/><rect x="337.4" y="52.98" width="0.9" height="1.01" fill="#fbd0cc"/><rect x="337.4" y="103.3" width="0.9" height="2.32" fill="#fbd0cc"/><rect x="337.35" y="96.81" width="0.9" height="3.99" fill="#f8766d" opacity="0.3"/><line x1="341.05" y1="57.54" x2="341.05" y2="101.09" stroke="#dcebbf" stroke-width="0.6"/><rect x="340.6" y="101.36" width="0.9" height="1.99" fill="#dcebbf"/><rect x="340.6" y="102.23" width="0.9" height="1.65" fill="#dcebbf"/><rect x="340.6" y="106.88" width="0.9" height="2.05" fill="#dcebbf"/><rect x="340.6" y="105.72" width="0.9" height="2.1" fill="#dcebbf"/><rect x="340.6" y="110.21" width="0.9" height="1.3" fill="#dcebbf"/><rect x="340.6" y="109.14" width="0.9" height="1.82" fill="#dcebbf"/><rect x="340.55" y="96.02" width="0.9" height="6.25" fill="#7cae00" opacity="0.3"/><line x1="344.25" y1="56.62" x2="344.25" y2="100.06" stroke="#c0eef0" stroke-width="0.6"/><rect x="343.8" y="102.14" width="0.9" height="0.8" fill="#c0eef0"/><rect x="343.8" y="106.4" width="0.9" height="1.88" fill="#c0eef0"/><rect x="343.8" y="49.91" width="0.9" height="2.36" fill="#c0eef0"/><rect x="343.8" y="49.65" width="0.9" height="2.47" fill="#c0eef0"/><rect x="343.8" y="102.2" width="0.9" height="1.78" fill="#c0eef0"/><rect x="343.8" y="109.6" width="0.9" height="1.29" fill="#c0eef0"/><rect x="343.75" y="94.51" width="0.9" height="4.13" fill="#00bfc4" opacity="0.3"/><line x1="347.65" y1="58.25" x2="347.65" y2="99.53" stroke="#eedcff" stroke-width="0.6"/><rect x="347.2" y="51.07" width="0.9" height="2.41" fill="#eedcff"/><rect x="347.2" y="104.2" width="0.9" height="2.35" fill="#eedcff"/><rect x="347.2" y="57.34" width="0.9" height="1.59" fill="#eedcff"/><rect x="347.2" y="111.14" width="0.9" height="2.23" fill="#eedcff"/><rect x="347.2" y="51.75" width="0.9" height="1.52" fill="#eedcff"/><rect x="347.2" y="108.75" width="0.9" height="1.52" fill="#eedcff"/><rect x="347.2" y="54.52" width="0.9" height="1.58" fill="#eedcff"/><rect x="347.15" y="93.68" width="0.9" height="4.04" fill="#c77cff" opacity="0.3"/><line x1="355.3" y1="57.83" x2="355.3" y2="101.46" stroke="#fbd0cc" stroke-width="0.6"/><rect x="354.85" y="107.69" width="0.9" height="2.32" fill="#fbd0cc"/><rect x="354.85" y="56.17" width="0.9" height="1.01" fill="#fbd0cc"/><rect x="354.85" y="50.18" width="0.9" height="1.72" fill="#fbd0cc"/><rect x="354.85" y="101.73" width="0.9" height="1.63" fill="#fbd0cc"/><rect x="354.85" y="103.3" width="0.9" height="0.89" fill="#fbd0cc"/><rect x="354.8" y="98.24" width="0.9" height="5.3" fill="#f8766d" opacity="0.3"/><line x1="358.5" y1="56.12" x2="358.5" y2="100.99" stroke="#dcebbf" stroke-width="0.6"/><rect x="358.05" y="104.25" width="0.9" height="1.1" fill="#dcebbf"/><rect x="358.05" y="112.06" width="0.9" height="1.1" fill="#dcebbf"/><rect x="358.05" y="53.32" width="0.9" height="1.14" fill="#dcebbf"/><rect x="358.05" y="111.74" width="0.9" height="0.81" fill="#dcebbf"/><rect x="358.05" y="105.06" width="0.9" height="1.7" fill="#dcebbf"/><rect x="358.05" y="102.29" width="0.9" height="1.06" fill="#dcebbf"/><rect x="358.05" y="51.61" width="0.9" height="2.36" fill="#dcebbf"/><rect x="358" y="95.27" width="0.9" height="5.41" fill="#7cae00" opacity="0.3"/><line x1="361.7" y1="55.22" x2="361.7" y2="101.52" stroke="#c0eef0" stroke-width="0.6"/><rect x="361.25" y="52.59" width="0.9" height="1.25" fill="#c0eef0"/><rect x="361.25" y="107.2" width="0.9" height="2.43" fill="#c0eef0"/><rect x="361.25" y="49.43" width="0.9" height="2.32" fill="#c0eef0"/><rect x="361.25" y="105.19" width="0.9" height="1.39" fill="#c0eef0"/><rect x="361.25" y="101.86" width="0.9" height="0.97" fill="#c0eef0"/><rect x="361.2" y="100.01" width="0.9" height="3.39" fill="#00bfc4" opacity="0.3"/><line x1="365.1" y1="57.69" x2="365.1" y2="101.11" stroke="#eedcff" stroke-width="0.6"/><rect x="364.65" y="107.21" width="0.9" height="1.73" fill="#eedcff"/><rect x="364.65" y="55.37" width="0.9" height="1.45" fill="#eedcff"/><rect x="364.65" y="57.54" width="0.9" height="1.67" fill="#eedcff"/><rect x="364.65" y="101.3" width="0.9" height="2.31" fill="#eedcff"/><rect x="364.6" y="97.12" width="0.9" height="4.86" fill="#c77cff" opacity="0.3"/><line x1="372.75" y1="55.34" x2="372.75" y2="103.54" stroke="#fbd0cc" stroke-width="0.6"/><rect x="372.3" y="103.55" width="0.9" height="2.41" fill="#fbd0cc"/><rect x="372.3" y="54.49" width="0.9" height="1.56" fill="#fbd0cc"/><rect x="372.3" y="116.8" width="0.9" height="1.32" fill="#fbd0cc"/><rect x="372.25" y="102.68" width="0.9" height="6.59" fill="#f8766d" opacity="0.3"/><line x1="375.95" y1="61.98" x2="375.95" y2="99.48" stroke="#dcebbf" stroke-width="0.6"/><rect x="375.5" y="101.76" width="0.9" height="1.54" fill="#dcebbf"/><rect x="375.5" y="108.94" width="0.9" height="2.31" fill="#dcebbf"/><rect x="375.5" y="100.01" width="0.9" height="2.09" fill="#dcebbf"/><rect x="375.5" y="111.63" width="0.9" height="1" fill="#dcebbf"/><rect x="375.5" y="103.43" width="0.9" height="1.12" fill="#dcebbf"/><rect x="375.45" y="97.2" width="0.9" height="6.4" fill="#7cae00" opacity="0.3"/><line x1="379.15" y1="60.4" x2="379.15" y2="105.24" stroke="#c0eef0" stroke-width="0.6"/><rect x="378.7" y="107.7" width="0.9" height="1.18" fill="#c0eef0"/><rect x="378.7" y="59.54" width="0.9" height="2.36" fill="#c0eef0"/><rect x="378.7" y="56.89" width="0.9" height="1.82" fill="#c0eef0"/><rect x="378.7" y="54.63" width="0.9" height="2.14" fill="#c0eef0"/><rect x="378.7" y="106.02" width="0.9" height="2.13" fill="#c0eef0"/><rect x="378.7" y="109.99" width="0.9" height="0.87" fill="#c0eef0"/><rect x="378.7" y="112.98" width="0.9" height="1.41" fill="#c0eef0"/><rect x="378.65" y="101.75" width="0.9" height="4.59" fill="#00bfc4" opacity="0.3"/><line x1="382.55" y1="56.83" x2="382.55" y2="106.62" stroke="#eedcff" stroke-width="0.6"/><rect x="382.1" y="115.28" width="0.9" height="2.18" fill="#eedcff"/><rect x="382.1" y="113.04" width="0.9" height="2.17" fill="#eedcff"/><rect x="382.1" y="111.98" width="0.9" height="1.38" fill="#eedcff"/><rect x="382.1" y="113.62" width="0.9" height="2.19" fill="#eedcff"/><rect x="382.05" y="101.67" width="0.9" height="5.85" fill="#c77cff" opacity="0.3"/><line x1="390.2" y1="56.23" x2="390.2" y2="100.48" stroke="#fbd0cc" stroke-width="0.6"/><rect x="389.75" y="105.09" width="0.9" height="0.81" fill="#fbd0cc"/><rect x="389.75" y="111.43" width="0.9" height="1.36" fill="#fbd0cc"/><rect x="389.75" y="51.78" width="0.9" height="2.13" fill="#fbd0cc"/><rect x="389.75" y="55.39" width="0.9" height="1.49" fill="#fbd0cc"/><rect x="389.75" y="102.36" width="0.9" height="2.02" fill="#fbd0cc"/><rect x="389.75" y="108.79" width="0.9" height="2.36" fill="#fbd0cc"/><rect x="389.7" y="97.95" width="0.9" height="5.75" fill="#f8766d" opacity="0.3"/><line x1="393.4" y1="59.01" x2="393.4" y2="102.32" stroke="#dcebbf" stroke-width="0.6"/><rect x="392.95" y="54.32" width="0.9" height="2.36" fill="#dcebbf"/><rect x="392.95" y="110.66" width="0.9" height="0.83" fill="#dcebbf"/><rect x="392.95" y="56.26" width="0.9" height="1.98" fill="#dcebbf"/><rect x="392.95" y="104.49" width="0.9" height="1.61" fill="#dcebbf"/><rect x="392.9" y="96.73" width="0.9" height="5.62" fill="#7cae00" opacity="0.3"/><line x1="396.6" y1="60.32" x2="396.6" y2="102.24" stroke="#c0eef0" stroke-width="0.6"/><rect x="396.15" y="102.26" width="0.9" height="2.19" fill="#c0eef0"/><rect x="396.15" y="112.76" width="0.9" height="1.35" fill="#c0eef0"/><rect x="396.15" y="104.33" width="0.9" height="1" fill="#c0eef0"/><rect x="396.1" y="98.92" width="0.9" height="6.4" fill="#00bfc4" opacity="0.3"/><line x1="400" y1="57.74" x2="400" y2="101.1" stroke="#eedcff" stroke-width="0.6"/><rect x="399.55" y="111.75" width="0.9" height="1.42" fill="#eedcff"/><rect x="399.55" y="104.72" width="0.9" height="2.37" fill="#eedcff"/><rect x="399.55" y="103.03" width="0.9" height="1.11" fill="#eedcff"/><rect x="399.55" y="114.36" width="0.9" height="1.58" fill="#eedcff"/><rect x="399.55" y="101.92" width="0.9" height="1.27" fill="#eedcff"/><rect x="399.55" y="50.99" width="0.9" height="1.56" fill="#eedcff"/><rect x="399.55" y="114.51" width="0.9" height="1.35" fill="#eedcff"/><rect x="399.5" y="99.46" width="0.9" height="3.57" fill="#c77cff" opacity="0.3"/><line x1="407.65" y1="56.25" x2="407.65" y2="106.04" stroke="#fbd0cc" stroke-width="0.6"/><rect x="407.2" y="53.66" width="0.9" height="1.97" fill="#fbd0cc"/><rect x="407.2" y="112.46" width="0.9" height="1.32" fill="#fbd0cc"/><rect x="407.2" y="116.67" width="0.9" height="1.17" fill="#fbd0cc"/><rect x="407.2" y="111.13" width="0.9" height="2.3" fill="#fbd0cc"/><rect x="407.2" y="110.92" width="0.9" height="2.01" fill="#fbd0cc"/><rect x="407.2" y="116.3" width="0.9" height="2.47" fill="#fbd0cc"/><rect x="407.2" y="113.56" width="0.9" height="0.84" fill="#fbd0cc"/><rect x="407.15" y="101.24" width="0.9" height="4.5" fill="#f8766d" opacity="0.3"/><line x1="410.85" y1="55.54" x2="410.85" y2="100.53" stroke="#dcebbf" stroke-width="0.6"/><rect x="410.4" y="107.51" width="0.9" height="2.49" fill="#dcebbf"/><rect x="410.4" y="50.98" width="0.9" height="1.09" fill="#dcebbf"/><rect x="410.4" y="108.13" width="0.9" height="2.16" fill="#dcebbf"/><rect x="410.4" y="48.51" width="0.9" height="2.12" fill="#dcebbf"/><rect x="410.4" y="108.54" width="0.9" height="1.24" fill="#dcebbf"/><rect x="410.35" y="97.19" width="0.9" height="4.5" fill="#7cae00" opacity="0.3"/><line x1="414.05" y1="57.39" x2="414.05" y2="100.02" stroke="#c0eef0" stroke-width="0.6"/><rect x="413.6" y="106.02" width="0.9" height="1.18" fill="#c0eef0"/><rect x="413.6" y="57.24" width="0.9" height="2.4" fill="#c0eef0"/><rect x="413.6" y="57.38" width="0.9" height="2.29" fill="#c0eef0"/><rect x="413.6" y="103.1" width="0.9" height="1.97" fill="#c0eef0"/><rect x="413.55" y="94.4" width="0.9" height="3.26" fill="#00bfc4" opacity="0.3"/><line x1="417.45" y1="57.71" x2="417.45" y2="106.67" stroke="#eedcff" stroke-width="0.6"/><rect x="417" y="56.71" width="0.9" height="0.97" fill="#eedcff"/><rect x="417" y="118.38" width="0.9" height="1.14" fill="#eedcff"/><rect x="417" y="57.43" width="0.9" height="1.58" fill="#eedcff"/><rect x="416.95" y="105.88" width="0.9" height="3.73" fill="#c77cff" opacity="0.3"/><line x1="425.1" y1="58.41" x2="425.1" y2="103.16" stroke="#fbd0cc" stroke-width="0.6"/><rect x="424.65" y="115.24" width="0.9" height="1.83" fill="#fbd0cc"/><rect x="424.65" y="106.88" width="0.9" height="1.84" fill="#fbd0cc"/><rect x="424.65" y="104.45" width="0.9" height="0.97" fill="#fbd0cc"/><rect x="424.65" y="111.84" width="0.9" height="1.6" fill="#fbd0cc"/><rect x="424.65" y="105.31" width="0.9" height="1.32" fill="#fbd0cc"/><rect x="424.65" y="57.77" width="0.9" height="0.92" fill="#fbd0cc"/><rect x="424.65" y="110.95" width="0.9" height="0.84" fill="#fbd0cc"/><rect x="424.6" y="101.33" width="0.9" height="4.21" fill="#f8766d" opacity="0.3"/><line x1="428.3" y1="55.86" x2="428.3" y2="101.09" stroke="#dcebbf" stroke-width="0.6"/><rect x="427.85" y="53.45" width="0.9" height="1.08" fill="#dcebbf"/><rect x="427.85" y="54.08" width="0.9" height="1.04" fill="#dcebbf"/><rect x="427.85" y="114.51" width="0.9" height="1.93" fill="#dcebbf"/><rect x="427.85" y="102.35" width="0.9" height="2.22" fill="#dcebbf"/><rect x="427.8" y="100.73" width="0.9" height="5.78" fill="#7cae00" opacity="0.3"/><line x1="431.5" y1="54.22" x2="431.5" y2="100.67" stroke="#c0eef0" stroke-width="0.6"/><rect x="431.05" y="53.87" width="0.9" height="1.26" fill="#c0eef0"/><rect x="431.05" y="109.53" width="0.9" height="1.12" fill="#c0eef0"/><rect x="431.05" y="106.31" width="0.9" height="2.46" fill="#c0eef0"/><rect x="431.05" y="53.42" width="0.9" height="2.25" fill="#c0eef0"/><rect x="431.05" y="104.18" width="0.9" height="1.54" fill="#c0eef0"/><rect x="431.05" y="110.83" width="0.9" height="1.99" fill="#c0eef0"/><rect x="431" y="99.19" width="0.9" height="3.13" fill="#00bfc4" opacity="0.3"/><line x1="434.9" y1="58.54" x2="434.9" y2="108.37" stroke="#eedcff" stroke-width="0.6"/><rect x="434.45" y="122.14" width="0.9" height="1.74" fill="#eedcff"/><rect x="434.45" y="119.08" width="0.9" height="2.1" fill="#eedcff"/><rect x="434.45" y="116.39" width="0.9" height="1.17" fill="#eedcff"/><rect x="434.4" y="104.84" width="0.9" height="3.79" fill="#c77cff" opacity="0.3"/></g>
<g><rect x="57.1" y="74.7" width="3.1" height="10.6" fill="#f8766d"/><rect x="60.3" y="74.2" width="3.1" height="8.5" fill="#7cae00"/><rect x="63.5" y="76.5" width="3.1" height="7.7" fill="#00bfc4"/><rect x="66.9" y="68.4" width="3.1" height="16.6" fill="#c77cff"/><rect x="74.55" y="75" width="3.1" height="10.8" fill="#f8766d"/><rect x="77.75" y="73.5" width="3.1" height="10.3" fill="#7cae00"/><rect x="80.95" y="75.8" width="3.1" height="8.4" fill="#00bfc4"/><rect x="84.35" y="73.2" width="3.1" height="12.1" fill="#c77cff"/><rect x="92" y="75.8" width="3.1" height="10" fill="#f8766d"/><rect x="95.2" y="74.2" width="3.1" height="9.3" fill="#7cae00"/><rect x="98.4" y="76.5" width="3.1" height="7.3" fill="#00bfc4"/><rect x="101.8" y="73" width="3.1" height="15.5" fill="#c77cff"/><rect x="109.45" y="75.8" width="3.1" height="11" fill="#f8766d"/><rect x="112.65" y="74.5" width="3.1" height="10.8" fill="#7cae00"/><rect x="115.85" y="77.8" width="3.1" height="7.7" fill="#00bfc4"/><rect x="119.25" y="72.4" width="3.1" height="16.4" fill="#c77cff"/><rect x="126.9" y="75.8" width="3.1" height="10" fill="#f8766d"/><rect x="130.1" y="75" width="3.1" height="8.5" fill="#7cae00"/><rect x="133.3" y="78.8" width="3.1" height="7.4" fill="#00bfc4"/><rect x="136.7" y="72.2" width="3.1" height="15.4" fill="#c77cff"/><rect x="144.35" y="75.8" width="3.1" height="11" fill="#f8766d"/><rect x="147.55" y="75" width="3.1" height="10" fill="#7cae00"/><rect x="150.75" y="75.5" width="3.1" height="8.4" fill="#00bfc4"/><rect x="154.15" y="72.2" width="3.1" height="17" fill="#c77cff"/><rect x="161.8" y="74.2" width="3.1" height="10.8" fill="#f8766d"/><rect x="165" y="96.2" width="3.1" height="8.3" fill="#7cae00"/><rect x="168.2" y="75.3" width="3.1" height="7.7" fill="#00bfc4"/><rect x="171.6" y="82.4" width="3.1" height="8.3" fill="#c77cff"/><rect x="179.25" y="78.8" width="3.1" height="10.4" fill="#f8766d"/><rect x="182.45" y="79.2" width="3.1" height="8.9" fill="#7cae00"/><rect x="185.65" y="61.9" width="3.1" height="12.8" fill="#00bfc4"/><rect x="189.05" y="64.2" width="3.1" height="24.6" fill="#c77cff"/><rect x="196.7" y="75" width="3.1" height="11.8" fill="#f8766d"/><rect x="199.9" y="74.2" width="3.1" height="11.1" fill="#7cae00"/><rect x="203.1" y="73.5" width="3.1" height="9.2" fill="#00bfc4"/><rect x="206.5" y="75.5" width="3.1" height="13" fill="#c77cff"/><rect x="214.15" y="74.2" width="3.1" height="11.6" fill="#f8766d"/><rect x="217.35" y="72.7" width="3.1" height="9.5" fill="#7cae00"/><rect x="220.55" y="75.8" width="3.1" height="8.7" fill="#00bfc4"/><rect x="223.95" y="73.2" width="3.1" height="13.3" fill="#c77cff"/><rect x="231.6" y="74.7" width="3.1" height="10" fill="#f8766d"/><rect x="234.8" y="74.7" width="3.1" height="8.3" fill="#7cae00"/><rect x="238" y="77.3" width="3.1" height="7.4" fill="#00bfc4"/><rect x="241.4" y="75" width="3.1" height="10.8" fill="#c77cff"/><rect x="249.05" y="74.7" width="3.1" height="10" fill="#f8766d"/><rect x="252.25" y="74.2" width="3.1" height="7.7" fill="#7cae00"/><rect x="255.45" y="78.1" width="3.1" height="7.4" fill="#00bfc4"/><rect x="258.85" y="72.7" width="3.1" height="14.9" fill="#c77cff"/><rect x="266.5" y="74.7" width="3.1" height="11.5" fill="#f8766d"/><rect x="269.7" y="75" width="3.1" height="9.7" fill="#7cae00"/><rect x="272.9" y="77.3" width="3.1" height="9.5" fill="#00bfc4"/><rect x="276.3" y="72.7" width="3.1" height="13.8" fill="#c77cff"/><rect x="283.95" y="74.7" width="3.1" height="11.1" fill="#f8766d"/><rect x="287.15" y="73.2" width="3.1" height="10" fill="#7cae00"/><rect x="290.35" y="76.8" width="3.1" height="8.5" fill="#00bfc4"/><rect x="293.75" y="72.2" width="3.1" height="12" fill="#c77cff"/><rect x="301.4" y="73.9" width="3.1" height="11.9" fill="#f8766d"/><rect x="304.6" y="75" width="3.1" height="8.9" fill="#7cae00"/><rect x="307.8" y="76.1" width="3.1" height="8.9" fill="#00bfc4"/><rect x="311.2" y="74.2" width="3.1" height="12.3" fill="#c77cff"/><rect x="318.85" y="74.2" width="3.1" height="11.6" fill="#f8766d"/><rect x="322.05" y="73.9" width="3.1" height="10" fill="#7cae00"/><rect x="325.25" y="74.2" width="3.1" height="9.6" fill="#00bfc4"/><rect x="328.65" y="77" width="3.1" height="8.8" fill="#c77cff"/><rect x="336.3" y="74.7" width="3.1" height="10.3" fill="#f8766d"/><rect x="339.5" y="75" width="3.1" height="8.2" fill="#7cae00"/><rect x="342.7" y="76.5" width="3.1" height="8.2" fill="#00bfc4"/><rect x="346.1" y="75" width="3.1" height="9.5" fill="#c77cff"/><rect x="353.75" y="73.8" width="3.1" height="13.2" fill="#f8766d"/><rect x="356.95" y="72.7" width="3.1" height="10" fill="#7cae00"/><rect x="360.15" y="74.7" width="3.1" height="10.3" fill="#00bfc4"/><rect x="363.55" y="73.2" width="3.1" height="13.3" fill="#c77cff"/><rect x="371.2" y="74.2" width="3.1" height="9.6" fill="#f8766d"/><rect x="374.4" y="77.8" width="3.1" height="6.9" fill="#7cae00"/><rect x="377.6" y="79.3" width="3.1" height="6.9" fill="#00bfc4"/><rect x="381" y="75" width="3.1" height="12" fill="#c77cff"/><rect x="388.65" y="73.2" width="3.1" height="11.8" fill="#f8766d"/><rect x="391.85" y="73.8" width="3.1" height="10" fill="#7cae00"/><rect x="395.05" y="75" width="3.1" height="10" fill="#00bfc4"/><rect x="398.45" y="75" width="3.1" height="12" fill="#c77cff"/><rect x="406.1" y="73.2" width="3.1" height="13.8" fill="#f8766d"/><rect x="409.3" y="73.2" width="3.1" height="12.1" fill="#7cae00"/><rect x="412.5" y="74.7" width="3.1" height="11.1" fill="#00bfc4"/><rect x="415.9" y="73.5" width="3.1" height="18.4" fill="#c77cff"/><rect x="423.55" y="73.5" width="3.1" height="12.3" fill="#f8766d"/><rect x="426.75" y="72.4" width="3.1" height="12.1" fill="#7cae00"/><rect x="429.95" y="73.2" width="3.1" height="10.7" fill="#00bfc4"/><rect x="433.35" y="77" width="3.1" height="11.5" fill="#c77cff"/></g>
<text x="7.6" y="188.08" font-size="11.2" text-anchor="start" fill="#000" font-weight="bold" stroke="#000" stroke-width="0.35">B</text>
<rect x="37.8" y="206.9" width="18" height="6.7" fill="#000"/>
<rect x="55.8" y="206.9" width="12.7" height="6.7" fill="#b4b4b4"/>
<rect x="68.5" y="206.9" width="12.1" height="6.7" fill="#000"/>
<rect x="80.6" y="206.9" width="6.7" height="6.7" fill="#b4b4b4"/>
<rect x="87.3" y="206.9" width="8.6" height="6.7" fill="#000"/>
<rect x="95.9" y="206.9" width="8.4" height="6.7" fill="#b4b4b4"/>
<rect x="104.3" y="206.9" width="9.1" height="6.7" fill="#000"/>
<rect x="113.4" y="206.9" width="6.2" height="6.7" fill="#b4b4b4"/>
<rect x="119.6" y="206.9" width="7.6" height="6.7" fill="#000"/>
<rect x="127.2" y="206.9" width="6.4" height="6.7" fill="#b4b4b4"/>
<rect x="133.6" y="206.9" width="11" height="6.7" fill="#000"/>
<rect x="144.6" y="206.9" width="10.3" height="6.7" fill="#b4b4b4"/>
<rect x="154.9" y="206.9" width="3.6" height="6.7" fill="#000"/>
<rect x="158.5" y="206.9" width="6.4" height="6.7" fill="#b4b4b4"/>
<rect x="164.9" y="206.9" width="6.6" height="6.7" fill="#000"/>
<rect x="171.5" y="206.9" width="7.7" height="6.7" fill="#b4b4b4"/>
<rect x="179.2" y="206.9" width="11.6" height="6.7" fill="#000"/>
<rect x="190.8" y="206.9" width="3" height="6.7" fill="#b4b4b4"/>
<rect x="193.8" y="206.9" width="12.4" height="6.7" fill="#000"/>
<rect x="206.2" y="206.9" width="4.6" height="6.7" fill="#b4b4b4"/>
<rect x="210.8" y="206.9" width="2.3" height="6.7" fill="#000"/>
<rect x="213.1" y="206.9" width="2.6" height="6.7" fill="#b4b4b4"/>
<text x="27.4" y="204.16" font-size="7.5" text-anchor="start" fill="#222" stroke="#222" stroke-width="0.08">Chr:</text>
<text x="46.8" y="204.16" font-size="7.5" text-anchor="middle" fill="#222" stroke="#222" stroke-width="0.08">1</text>
<text x="62.15" y="204.16" font-size="7.5" text-anchor="middle" fill="#222" stroke="#222" stroke-width="0.08">2</text>
<text x="74.55" y="204.16" font-size="7.5" text-anchor="middle" fill="#222" stroke="#222" stroke-width="0.08">3</text>
<text x="83.95" y="204.16" font-size="7.5" text-anchor="middle" fill="#222" stroke="#222" stroke-width="0.08">4</text>
<text x="91.6" y="204.16" font-size="7.5" text-anchor="middle" fill="#222" stroke="#222" stroke-width="0.08">5</text>
<text x="100.1" y="204.16" font-size="7.5" text-anchor="middle" fill="#222" stroke="#222" stroke-width="0.08">6</text>
<text x="108.85" y="204.16" font-size="7.5" text-anchor="middle" fill="#222" stroke="#222" stroke-width="0.08">7</text>
<text x="116.5" y="204.16" font-size="7.5" text-anchor="middle" fill="#222" stroke="#222" stroke-width="0.08">8</text>
<text x="123.4" y="204.16" font-size="7.5" text-anchor="middle" fill="#222" stroke="#222" stroke-width="0.08">9</text>
<text x="130.4" y="204.16" font-size="7.5" text-anchor="middle" fill="#222" stroke="#222" stroke-width="0.08">10</text>
<text x="139.1" y="204.16" font-size="7.5" text-anchor="middle" fill="#222" stroke="#222" stroke-width="0.08">11</text>
<text x="149.75" y="204.16" font-size="7.5" text-anchor="middle" fill="#222" stroke="#222" stroke-width="0.08">12</text>
<text x="163.2" y="204.16" font-size="7.5" text-anchor="middle" fill="#222" stroke="#222" stroke-width="0.08">13-15</text>
<text x="182.65" y="204.16" font-size="7.5" text-anchor="middle" fill="#222" stroke="#222" stroke-width="0.08">16-18</text>
<text x="204.75" y="204.16" font-size="7.5" text-anchor="middle" fill="#222" stroke="#222" stroke-width="0.08">19-22</text>
<defs><filter id="blB" x="0" y="0" width="1" height="1"><feGaussianBlur stdDeviation="0.55 0.45"/></filter></defs>
<g filter="url(#blB)"><rect x="37.8" y="217.2" width="177.9" height="123.2" fill="#f6f6fb"/><path d="M37.8 217.79h2M61.79 217.79h2M65.78 217.79h2M69.78 217.79h4M97.77 217.79h2M113.76 217.79h2M117.76 217.79h4M141.74 217.79h2M185.72 217.79h4M199.71 217.79h2M203.71 217.79h2M73.78 218.96h2M85.77 218.96h2M111.76 218.96h4M125.75 218.96h2M169.73 218.96h4M201.71 218.96h4M207.7 218.96h2M41.8 220.13h2M51.79 220.13h4M65.78 220.13h2M87.77 220.13h6M95.77 220.13h2M173.72 220.13h4M191.71 220.13h2M197.71 220.13h2M201.71 220.13h2M37.8 221.31h2M45.8 221.31h6M61.79 221.31h2M65.78 221.31h2M111.76 221.31h2M131.75 221.31h2M165.73 221.31h6M199.71 221.31h2M65.78 222.48h2M71.78 222.48h4M81.78 222.48h2M85.77 222.48h4M95.77 222.48h2M113.76 222.48h2M117.76 222.48h9.99M137.74 222.48h4M145.74 222.48h2M149.74 222.48h2M197.71 222.48h4M69.78 223.65h2M81.78 223.65h2M91.77 223.65h6M125.75 223.65h2M133.75 223.65h2M143.74 223.65h2M191.71 223.65h4M207.7 223.65h2M41.8 224.83h2M51.79 224.83h4M63.79 224.83h4M71.78 224.83h4M83.77 224.83h2M87.77 224.83h2M111.76 224.83h2M115.76 224.83h2M157.73 224.83h2M179.72 224.83h4M195.71 224.83h2M201.71 224.83h2M41.8 226h2M45.8 226h2M51.79 226h2M77.78 226h2M97.77 226h2M115.76 226h4M195.71 226h2M37.8 227.17h2M59.79 227.17h4M71.78 227.17h2M79.78 227.17h2M137.74 227.17h2M45.8 228.35h2M49.79 228.35h2M77.78 228.35h4M83.77 228.35h4M101.76 228.35h4M117.76 228.35h2M121.75 228.35h2M157.73 228.35h2M209.7 228.35h6M37.8 229.52h2M57.79 229.52h2M117.76 229.52h4M137.74 229.52h2M141.74 229.52h4M197.71 229.52h6M73.78 230.69h4M87.77 230.69h2M99.77 230.69h2M121.75 230.69h2M133.75 230.69h2M141.74 230.69h2M145.74 230.69h2M211.7 230.69h2M55.79 231.87h2M61.79 231.87h2M71.78 231.87h2M85.77 231.87h2M91.77 231.87h2M133.75 231.87h2M139.74 231.87h6M163.73 231.87h2M171.72 231.87h4M207.7 231.87h2M37.8 233.04h2M71.78 233.04h2M75.78 233.04h8M97.77 233.04h4M133.75 233.04h2M195.71 233.04h2M199.71 233.04h4M207.7 233.04h2M39.8 234.21h2M43.8 234.21h2M57.79 234.21h2M91.77 234.21h6M119.75 234.21h2M131.75 234.21h2M139.74 234.21h2M175.72 234.21h2M203.71 234.21h2M55.79 235.39h2M83.77 235.39h4M95.77 235.39h4M131.75 235.39h2M207.7 235.39h6M37.8 236.56h2M83.77 236.56h6M91.77 236.56h2M97.77 236.56h2M111.76 236.56h2M119.75 236.56h2M125.75 236.56h2M141.74 236.56h2M157.73 236.56h2M195.71 236.56h4M203.71 236.56h2M207.7 236.56h2M41.8 237.73h2M55.79 237.73h2M63.79 237.73h4M73.78 237.73h2M125.75 237.73h2M169.73 237.73h2M197.71 237.73h2M209.7 237.73h4M39.8 238.91h2M55.79 238.91h2M67.78 238.91h4M81.78 238.91h4M87.77 238.91h6M99.77 238.91h4M133.75 238.91h9.99M203.71 238.91h2M207.7 238.91h2M47.79 240.08h2M53.79 240.08h2M61.79 240.08h2M69.78 240.08h2M73.78 240.08h2M193.71 240.08h2M201.71 240.08h2M37.8 241.25h2M41.8 241.25h2M63.79 241.25h2M79.78 241.25h2M91.77 241.25h2M125.75 241.25h2M129.75 241.25h2M135.74 241.25h2M201.71 241.25h2M209.7 241.25h2M213.7 241.25h2M37.8 242.43h4M61.79 242.43h4M75.78 242.43h2M85.77 242.43h4M93.77 242.43h6M103.76 242.43h2M129.75 242.43h4M153.73 242.43h2M173.72 242.43h4M179.72 242.43h4M189.71 242.43h17.99M211.7 242.43h2M59.79 243.6h2M71.78 243.6h4M85.77 243.6h4M119.75 243.6h2M131.75 243.6h2M137.74 243.6h2M147.74 243.6h2M195.71 243.6h9.99M41.8 244.77h2M71.78 244.77h2M75.78 244.77h2M83.77 244.77h2M137.74 244.77h2M179.72 244.77h6M201.71 244.77h2M45.8 245.95h2M57.79 245.95h2M71.78 245.95h4M79.78 245.95h4M111.76 245.95h2M123.75 245.95h2M199.71 245.95h2M93.77 247.12h2M97.77 247.12h2M123.75 247.12h4M189.71 247.12h4M53.79 248.29h2M59.79 248.29h2M79.78 248.29h2M111.76 248.29h2M119.75 248.29h2M133.75 248.29h2M187.72 248.29h2M193.71 248.29h2M37.8 249.47h6M49.79 249.47h4M59.79 249.47h2M65.78 249.47h6M91.77 249.47h2M95.77 249.47h2M99.77 249.47h4M111.76 249.47h2M59.79 250.64h4M69.78 250.64h2M79.78 250.64h9.99M101.76 250.64h2M111.76 250.64h2M123.75 250.64h2M133.75 250.64h2M151.74 250.64h2M155.73 250.64h2M173.72 250.64h2M195.71 250.64h2M199.71 250.64h6M45.8 251.81h2M61.79 251.81h2M75.78 251.81h4M87.77 251.81h6M141.74 251.81h2M149.74 251.81h2M165.73 251.81h2M169.73 251.81h2M203.71 251.81h2M207.7 251.81h6M43.8 252.99h2M67.78 252.99h2M79.78 252.99h2M83.77 252.99h2M95.77 252.99h2M119.75 252.99h2M125.75 252.99h2M193.71 252.99h4M203.71 252.99h6M57.79 254.16h2M63.79 254.16h4M79.78 254.16h2M113.76 254.16h2M117.76 254.16h2M185.72 254.16h2M193.71 254.16h2M205.71 254.16h2M209.7 254.16h2M41.8 255.33h2M45.8 255.33h2M55.79 255.33h4M69.78 255.33h2M79.78 255.33h2M91.77 255.33h2M127.75 255.33h8M141.74 255.33h4M181.72 255.33h2M199.71 255.33h4M207.7 255.33h2M37.8 256.51h2M45.8 256.51h2M53.79 256.51h2M85.77 256.51h2M89.77 256.51h4M173.72 256.51h2M195.71 256.51h2M213.7 256.51h2M39.8 257.68h4M53.79 257.68h2M65.78 257.68h2M73.78 257.68h2M83.77 257.68h2M101.76 257.68h4M129.75 257.68h2M135.74 257.68h4M167.73 257.68h2M195.71 257.68h2M201.71 257.68h2M73.78 258.85h2M89.77 258.85h4M111.76 258.85h2M131.75 258.85h2M199.71 258.85h2M207.7 258.85h2M37.8 260.03h6M55.79 260.03h2M65.78 260.03h2M69.78 260.03h4M83.77 260.03h2M89.77 260.03h2M103.76 260.03h2M131.75 260.03h2M137.74 260.03h2M149.74 260.03h2M153.73 260.03h2M163.73 260.03h4M193.71 260.03h2M43.8 261.2h2M53.79 261.2h2M65.78 261.2h2M71.78 261.2h2M89.77 261.2h4M99.77 261.2h2M123.75 261.2h2M135.74 261.2h2M51.79 262.37h2M59.79 262.37h2M83.77 262.37h2M101.76 262.37h2M115.76 262.37h2M125.75 262.37h2M143.74 262.37h2M193.71 262.37h2M199.71 262.37h2M37.8 263.55h2M45.8 263.55h2M53.79 263.55h2M61.79 263.55h2M65.78 263.55h6M95.77 263.55h2M111.76 263.55h2M119.75 263.55h2M133.75 263.55h4M139.74 263.55h2M163.73 263.55h2M173.72 263.55h2M195.71 263.55h2M201.71 263.55h2M209.7 263.55h4M53.79 264.72h2M61.79 264.72h2M67.78 264.72h2M73.78 264.72h2M97.77 264.72h2M103.76 264.72h2M111.76 264.72h2M119.75 264.72h4M127.75 264.72h2M137.74 264.72h2M41.8 265.89h2M67.78 265.89h4M93.77 265.89h2M207.7 265.89h6M39.8 267.07h2M43.8 267.07h2M57.79 267.07h6M67.78 267.07h2M73.78 267.07h2M87.77 267.07h2M101.76 267.07h2M119.75 267.07h2M125.75 267.07h2M131.75 267.07h4M137.74 267.07h2M143.74 267.07h2M147.74 267.07h8M165.73 267.07h2M207.7 267.07h2M41.8 268.24h2M73.78 268.24h15.99M97.77 268.24h6M147.74 268.24h2M175.72 268.24h2M181.72 268.24h2M197.71 268.24h2M205.71 268.24h2M41.8 269.41h2M53.79 269.41h2M61.79 269.41h2M65.78 269.41h2M77.78 269.41h2M83.77 269.41h2M123.75 269.41h2M147.74 269.41h2M197.71 269.41h2M53.79 270.59h2M65.78 270.59h2M71.78 270.59h2M97.77 270.59h4M111.76 270.59h2M199.71 270.59h2M205.71 270.59h4M41.8 271.76h2M63.79 271.76h2M67.78 271.76h2M83.77 271.76h2M119.75 271.76h2M129.75 271.76h2M137.74 271.76h2M165.73 271.76h4M199.71 271.76h6M207.7 271.76h2M213.7 271.76h2M59.79 272.93h2M63.79 272.93h4M71.78 272.93h4M139.74 272.93h4M173.72 272.93h4M199.71 272.93h2M211.7 272.93h2M117.76 274.11h2M201.71 274.11h4M207.7 274.11h2M59.79 275.28h2M93.77 275.28h2M99.77 275.28h2M115.76 275.28h2M139.74 275.28h2M165.73 275.28h2M177.72 275.28h4M39.8 276.45h4M59.79 276.45h2M73.78 276.45h4M79.78 276.45h2M83.77 276.45h2M123.75 276.45h4M139.74 276.45h2M145.74 276.45h2M195.71 276.45h2M201.71 276.45h2M205.71 276.45h2M43.8 277.63h2M47.79 277.63h2M57.79 277.63h2M71.78 277.63h2M79.78 277.63h2M91.77 277.63h2M97.77 277.63h6M105.76 277.63h2M135.74 277.63h2M139.74 277.63h2M147.74 277.63h2M151.74 277.63h4M157.73 277.63h2M163.73 277.63h2M167.73 277.63h2M171.72 277.63h2M193.71 277.63h2M209.7 277.63h2M39.8 278.8h2M45.8 278.8h2M53.79 278.8h2M61.79 278.8h6M77.78 278.8h2M93.77 278.8h2M117.76 278.8h2M137.74 278.8h2M143.74 278.8h2M155.73 278.8h4M165.73 278.8h2M179.72 278.8h2M193.71 278.8h2M43.8 279.97h2M47.79 279.97h2M53.79 279.97h2M69.78 279.97h4M95.77 279.97h4M103.76 279.97h2M119.75 279.97h2M125.75 279.97h2M155.73 279.97h2M207.7 279.97h4M39.8 281.15h2M45.8 281.15h4M53.79 281.15h4M61.79 281.15h2M67.78 281.15h2M73.78 281.15h4M93.77 281.15h4M99.77 281.15h2M111.76 281.15h2M133.75 281.15h2M137.74 281.15h2M143.74 281.15h2M163.73 281.15h2M169.73 281.15h2M181.72 281.15h4M193.71 281.15h2M199.71 281.15h2M207.7 281.15h2M211.7 281.15h2M43.8 282.32h4M63.79 282.32h4M71.78 282.32h2M101.76 282.32h2M149.74 282.32h2M195.71 282.32h2M37.8 283.49h2M49.79 283.49h2M63.79 283.49h2M77.78 283.49h2M85.77 283.49h4M91.77 283.49h2M97.77 283.49h2M111.76 283.49h2M155.73 283.49h4M181.72 283.49h2M187.72 283.49h2M209.7 283.49h2M39.8 284.67h2M47.79 284.67h2M59.79 284.67h2M71.78 284.67h2M85.77 284.67h2M91.77 284.67h4M117.76 284.67h4M133.75 284.67h2M151.74 284.67h2M181.72 284.67h2M195.71 284.67h2M199.71 284.67h2M207.7 284.67h4M39.8 285.84h2M45.8 285.84h6M53.79 285.84h6M85.77 285.84h4M103.76 285.84h2M109.76 285.84h2M133.75 285.84h2M155.73 285.84h4M195.71 285.84h2M201.71 285.84h2M211.7 285.84h2M51.79 287.01h2M61.79 287.01h2M67.78 287.01h2M85.77 287.01h2M105.76 287.01h2M115.76 287.01h2M123.75 287.01h4M141.74 287.01h2M151.74 287.01h2M171.72 287.01h2M183.72 287.01h6M197.71 287.01h4M211.7 287.01h2M39.8 288.19h8M71.78 288.19h6M103.76 288.19h2M123.75 288.19h2M135.74 288.19h2M141.74 288.19h4M163.73 288.19h2M173.72 288.19h4M197.71 288.19h2M37.8 289.36h2M45.8 289.36h2M51.79 289.36h2M63.79 289.36h2M83.77 289.36h2M111.76 289.36h2M135.74 289.36h2M141.74 289.36h2M157.73 289.36h4M181.72 289.36h2M187.72 289.36h2M193.71 289.36h2M203.71 289.36h2M213.7 289.36h2M49.79 290.53h2M59.79 290.53h6M73.78 290.53h2M77.78 290.53h2M97.77 290.53h6M107.76 290.53h2M111.76 290.53h2M123.75 290.53h2M135.74 290.53h2M141.74 290.53h2M165.73 290.53h2M169.73 290.53h2M183.72 290.53h2M195.71 290.53h2M199.71 290.53h2M37.8 291.71h4M57.79 291.71h2M63.79 291.71h2M73.78 291.71h2M79.78 291.71h2M91.77 291.71h2M95.77 291.71h2M99.77 291.71h4M105.76 291.71h2M109.76 291.71h2M115.76 291.71h2M119.75 291.71h2M145.74 291.71h2M157.73 291.71h2M175.72 291.71h2M181.72 291.71h2M193.71 291.71h4M201.71 291.71h2M207.7 291.71h2M41.8 292.88h6M49.79 292.88h2M59.79 292.88h2M83.77 292.88h4M99.77 292.88h2M107.76 292.88h2M115.76 292.88h2M133.75 292.88h2M145.74 292.88h2M209.7 292.88h2M37.8 294.05h4M53.79 294.05h2M63.79 294.05h2M75.78 294.05h2M85.77 294.05h2M101.76 294.05h2M169.73 294.05h2M199.71 294.05h2M37.8 295.23h4M45.8 295.23h2M49.79 295.23h2M53.79 295.23h2M67.78 295.23h2M77.78 295.23h2M95.77 295.23h2M103.76 295.23h2M119.75 295.23h2M123.75 295.23h2M39.8 296.4h2M71.78 296.4h4M85.77 296.4h2M99.77 296.4h4M111.76 296.4h2M119.75 296.4h2M125.75 296.4h2M145.74 296.4h2M165.73 296.4h2M179.72 296.4h2M195.71 296.4h2M211.7 296.4h2M45.8 297.57h4M67.78 297.57h2M71.78 297.57h2M75.78 297.57h2M97.77 297.57h2M113.76 297.57h2M181.72 297.57h2M209.7 297.57h2M43.8 298.75h2M63.79 298.75h2M67.78 298.75h2M73.78 298.75h4M109.76 298.75h2M119.75 298.75h2M125.75 298.75h2M131.75 298.75h2M157.73 298.75h2M41.8 299.92h2M47.79 299.92h2M59.79 299.92h4M73.78 299.92h2M99.77 299.92h2M105.76 299.92h2M121.75 299.92h2M133.75 299.92h2M137.74 299.92h2M141.74 299.92h2M185.72 299.92h4M193.71 299.92h4M199.71 299.92h4M37.8 301.09h4M45.8 301.09h4M63.79 301.09h2M85.77 301.09h4M91.77 301.09h4M101.76 301.09h2M111.76 301.09h6M119.75 301.09h6M145.74 301.09h2M159.73 301.09h2M195.71 301.09h2M45.8 302.27h2M53.79 302.27h4M65.78 302.27h2M89.77 302.27h8M103.76 302.27h4M109.76 302.27h2M123.75 302.27h2M131.75 302.27h2M165.73 302.27h2M175.72 302.27h2M183.72 302.27h2M207.7 302.27h2M211.7 302.27h2M79.78 303.44h2M87.77 303.44h6M109.76 303.44h2M125.75 303.44h2M157.73 303.44h2M177.72 303.44h2M183.72 303.44h6M195.71 303.44h2M199.71 303.44h2M209.7 303.44h2M53.79 304.61h2M63.79 304.61h2M73.78 304.61h2M79.78 304.61h2M109.76 304.61h2M113.76 304.61h2M117.76 304.61h4M129.75 304.61h6M165.73 304.61h2M191.71 304.61h4M89.77 305.79h8M99.77 305.79h2M109.76 305.79h2M115.76 305.79h4M145.74 305.79h6M177.72 305.79h2M197.71 305.79h2M207.7 305.79h4M39.8 306.96h4M53.79 306.96h4M67.78 306.96h4M107.76 306.96h2M117.76 306.96h2M127.75 306.96h2M139.74 306.96h2M143.74 306.96h2M155.73 306.96h4M161.73 306.96h2M191.71 306.96h4M199.71 306.96h2M209.7 306.96h2M39.8 308.13h2M61.79 308.13h2M67.78 308.13h2M71.78 308.13h6M97.77 308.13h2M203.71 308.13h2M51.79 309.31h2M65.78 309.31h2M73.78 309.31h2M83.77 309.31h4M101.76 309.31h2M107.76 309.31h2M115.76 309.31h2M141.74 309.31h4M169.73 309.31h2M175.72 309.31h2M187.72 309.31h2M191.71 309.31h4M61.79 310.48h2M71.78 310.48h4M93.77 310.48h2M101.76 310.48h2M105.76 310.48h4M123.75 310.48h2M139.74 310.48h2M147.74 310.48h2M211.7 310.48h2M39.8 311.65h2M49.79 311.65h2M103.76 311.65h2M139.74 311.65h2M155.73 311.65h4M169.73 311.65h2M197.71 311.65h2M203.71 311.65h2M213.7 311.65h2M41.8 312.83h4M51.79 312.83h2M55.79 312.83h2M61.79 312.83h2M69.78 312.83h2M91.77 312.83h2M113.76 312.83h4M123.75 312.83h2M157.73 312.83h2M175.72 312.83h2M189.71 312.83h4M207.7 312.83h2M47.79 314h2M55.79 314h2M67.78 314h2M71.78 314h4M115.76 314h2M123.75 314h2M145.74 314h4M163.73 314h6M207.7 314h2M49.79 315.17h4M59.79 315.17h2M71.78 315.17h2M95.77 315.17h6M107.76 315.17h2M121.75 315.17h2M143.74 315.17h2M153.73 315.17h2M157.73 315.17h2M165.73 315.17h2M179.72 315.17h4M197.71 315.17h4M207.7 315.17h2M37.8 316.35h2M47.79 316.35h2M51.79 316.35h2M75.78 316.35h2M83.77 316.35h2M91.77 316.35h2M95.77 316.35h8M105.76 316.35h2M121.75 316.35h2M135.74 316.35h2M145.74 316.35h2M151.74 316.35h4M165.73 316.35h6M209.7 316.35h2M81.78 317.52h4M87.77 317.52h2M99.77 317.52h2M103.76 317.52h2M111.76 317.52h2M117.76 317.52h2M131.75 317.52h2M135.74 317.52h2M139.74 317.52h6M155.73 317.52h2M167.73 317.52h2M43.8 318.69h2M73.78 318.69h2M151.74 318.69h2M187.72 318.69h2M195.71 318.69h2M209.7 318.69h2M39.8 319.87h6M47.79 319.87h2M83.77 319.87h2M99.77 319.87h6M133.75 319.87h2M141.74 319.87h4M173.72 319.87h4M207.7 319.87h4M39.8 321.04h2M49.79 321.04h2M69.78 321.04h2M89.77 321.04h2M113.76 321.04h2M123.75 321.04h4M147.74 321.04h2M183.72 321.04h2M37.8 322.21h2M43.8 322.21h2M53.79 322.21h2M57.79 322.21h2M61.79 322.21h4M91.77 322.21h2M117.76 322.21h2M123.75 322.21h4M131.75 322.21h2M139.74 322.21h2M173.72 322.21h2M205.71 322.21h2M37.8 323.39h4M43.8 323.39h2M59.79 323.39h2M63.79 323.39h2M77.78 323.39h2M107.76 323.39h2M115.76 323.39h2M133.75 323.39h2M147.74 323.39h4M179.72 323.39h6M199.71 323.39h2M211.7 323.39h2M43.8 324.56h4M53.79 324.56h2M63.79 324.56h2M73.78 324.56h2M81.78 324.56h6M113.76 324.56h2M125.75 324.56h2M139.74 324.56h2M143.74 324.56h2M147.74 324.56h6M201.71 324.56h2M207.7 324.56h2M211.7 324.56h4M37.8 325.73h2M45.8 325.73h2M51.79 325.73h4M79.78 325.73h2M99.77 325.73h2M115.76 325.73h2M119.75 325.73h4M169.73 325.73h2M181.72 325.73h2M189.71 325.73h2M201.71 325.73h2M45.8 326.91h2M49.79 326.91h2M55.79 326.91h2M59.79 326.91h2M99.77 326.91h2M131.75 326.91h2M155.73 326.91h2M195.71 326.91h6M37.8 328.08h2M53.79 328.08h4M59.79 328.08h2M63.79 328.08h2M69.78 328.08h2M81.78 328.08h2M113.76 328.08h4M123.75 328.08h2M201.71 328.08h2M53.79 329.25h2M87.77 329.25h2M99.77 329.25h4M141.74 329.25h4M155.73 329.25h4M165.73 329.25h2M197.71 329.25h2M203.71 329.25h2M211.7 329.25h2M51.79 330.43h2M89.77 330.43h2M93.77 330.43h2M99.77 330.43h2M113.76 330.43h2M133.75 330.43h2M163.73 330.43h4M175.72 330.43h2M193.71 330.43h2M199.71 330.43h2M209.7 330.43h4M43.8 331.6h2M55.79 331.6h2M111.76 331.6h4M125.75 331.6h2M131.75 331.6h2M137.74 331.6h2M157.73 331.6h2M163.73 331.6h2M203.71 331.6h2M39.8 332.77h2M43.8 332.77h4M49.79 332.77h2M61.79 332.77h2M75.78 332.77h2M85.77 332.77h4M97.77 332.77h4M111.76 332.77h2M139.74 332.77h2M151.74 332.77h2M163.73 332.77h4M179.72 332.77h2M39.8 333.95h4M45.8 333.95h2M61.79 333.95h2M101.76 333.95h2M117.76 333.95h4M131.75 333.95h4M143.74 333.95h2M159.73 333.95h4M167.73 333.95h2M187.72 333.95h2M211.7 333.95h2M39.8 335.12h2M45.8 335.12h4M67.78 335.12h2M73.78 335.12h2M77.78 335.12h2M89.77 335.12h2M99.77 335.12h4M109.76 335.12h2M117.76 335.12h2M121.75 335.12h2M125.75 335.12h2M183.72 335.12h2M197.71 335.12h2M201.71 335.12h2M37.8 336.29h2M47.79 336.29h4M59.79 336.29h2M71.78 336.29h2M75.78 336.29h2M95.77 336.29h2M103.76 336.29h4M109.76 336.29h4M133.75 336.29h2M147.74 336.29h4M175.72 336.29h2M179.72 336.29h2M195.71 336.29h2M205.71 336.29h4M211.7 336.29h2M39.8 337.47h2M43.8 337.47h6M57.79 337.47h4M75.78 337.47h2M87.77 337.47h6M101.76 337.47h4M113.76 337.47h2M131.75 337.47h2M173.72 337.47h4M49.79 338.64h2M61.79 338.64h2M69.78 338.64h4M83.77 338.64h6M115.76 338.64h6M125.75 338.64h2M135.74 338.64h2M165.73 338.64h2M193.71 338.64h2M197.71 338.64h2M53.79 339.81h6M61.79 339.81h6M79.78 339.81h2M87.77 339.81h2M93.77 339.81h4M105.76 339.81h2M109.76 339.81h2M113.76 339.81h2M125.75 339.81h2M153.73 339.81h2M159.73 339.81h2M197.71 339.81h2M209.7 339.81h6" stroke="#fdfbe1" stroke-width="1.17" fill="none"/><path d="M39.8 217.79h4M37.8 218.96h2M173.72 218.96h2M47.79 220.13h2M113.76 220.13h2M51.79 221.31h4M37.8 222.48h2M41.8 222.48h2M47.79 222.48h2M53.79 222.48h2M41.8 223.65h2M47.79 223.65h2M51.79 223.65h2M199.71 224.83h2M47.79 226h4M37.8 228.35h2M113.76 228.35h4M125.75 228.35h2M45.8 229.52h2M55.79 229.52h2M45.8 230.69h2M143.74 230.69h2M49.79 231.87h4M89.77 231.87h2M113.76 231.87h6M165.73 231.87h4M47.79 233.04h2M51.79 233.04h4M85.77 233.04h4M113.76 233.04h2M41.8 234.21h2M47.79 234.21h2M55.79 234.21h2M61.79 234.21h6M115.76 234.21h2M51.79 235.39h2M123.75 235.39h2M51.79 237.73h2M57.79 237.73h2M45.8 238.91h4M59.79 238.91h4M65.78 238.91h2M117.76 238.91h2M51.79 240.08h2M71.78 240.08h2M101.76 240.08h2M117.76 240.08h2M45.8 241.25h2M131.75 241.25h2M47.79 242.43h8M65.78 242.43h4M123.75 242.43h2M151.74 242.43h2M207.7 242.43h2M53.79 243.6h2M45.8 244.77h4M51.79 244.77h4M113.76 244.77h2M197.71 244.77h4M49.79 245.95h4M115.76 245.95h2M45.8 247.12h2M49.79 247.12h2M95.77 247.12h2M119.75 247.12h2M47.79 248.29h6M113.76 248.29h4M37.8 250.64h2M45.8 250.64h4M47.79 251.81h2M115.76 251.81h2M125.75 251.81h2M157.73 251.81h2M41.8 252.99h2M47.79 252.99h6M59.79 252.99h2M117.76 252.99h2M121.75 252.99h2M97.77 254.16h2M207.7 254.16h2M47.79 255.33h2M53.79 255.33h2M125.75 255.33h2M137.74 255.33h4M179.72 255.33h2M47.79 256.51h4M113.76 256.51h2M117.76 256.51h2M113.76 257.68h4M131.75 257.68h4M53.79 258.85h2M63.79 258.85h2M81.78 258.85h4M51.79 260.03h4M87.77 260.03h2M123.75 260.03h4M141.74 260.03h2M157.73 260.03h2M173.72 260.03h2M211.7 260.03h2M37.8 261.2h6M51.79 261.2h2M103.76 261.2h2M117.76 262.37h2M39.8 263.55h4M49.79 263.55h2M93.77 263.55h2M47.79 264.72h2M63.79 264.72h2M115.76 264.72h2M123.75 264.72h2M199.71 265.89h4M41.8 267.07h2M47.79 267.07h4M53.79 267.07h2M117.76 267.07h2M121.75 267.07h2M61.79 268.24h6M173.72 268.24h2M199.71 268.24h6M113.76 269.41h2M49.79 270.59h2M45.8 271.76h4M51.79 271.76h2M59.79 271.76h2M65.78 271.76h2M131.75 271.76h2M113.76 272.93h2M117.76 272.93h2M125.75 272.93h2M51.79 274.11h2M61.79 274.11h2M113.76 274.11h2M63.79 275.28h4M117.76 275.28h2M133.75 275.28h2M137.74 275.28h2M201.71 275.28h4M207.7 275.28h2M67.78 276.45h2M113.76 276.45h2M181.72 276.45h2M199.71 276.45h2M209.7 276.45h2M37.8 277.63h4M61.79 277.63h2M67.78 277.63h2M87.77 277.63h2M113.76 277.63h2M123.75 277.63h4M133.75 277.63h2M137.74 277.63h2M155.73 277.63h2M181.72 277.63h2M199.71 277.63h2M67.78 278.8h2M95.77 278.8h2M119.75 278.8h2M125.75 278.8h2M133.75 278.8h2M169.73 278.8h2M181.72 278.8h2M207.7 278.8h4M41.8 279.97h2M113.76 279.97h2M183.72 279.97h2M211.7 279.97h2M117.76 281.15h4M139.74 281.15h2M41.8 282.32h2M67.78 282.32h2M39.8 283.49h4M47.79 283.49h2M53.79 283.49h2M59.79 283.49h2M79.78 283.49h2M123.75 283.49h4M67.78 284.67h2M123.75 284.67h2M169.73 284.67h2M61.79 285.84h2M67.78 285.84h2M137.74 285.84h4M199.71 285.84h2M37.8 287.01h2M41.8 287.01h2M45.8 287.01h4M73.78 287.01h2M155.73 287.01h2M53.79 288.19h4M67.78 288.19h2M99.77 288.19h2M139.74 288.19h2M169.73 288.19h2M193.71 288.19h4M207.7 288.19h2M41.8 289.36h2M47.79 289.36h4M53.79 289.36h2M67.78 289.36h2M119.75 289.36h2M133.75 289.36h2M137.74 289.36h2M195.71 289.36h2M201.71 289.36h2M205.71 289.36h4M211.7 289.36h2M47.79 290.53h2M125.75 290.53h2M133.75 290.53h2M43.8 291.71h2M55.79 291.71h2M59.79 291.71h4M113.76 291.71h2M125.75 291.71h2M137.74 291.71h2M47.79 292.88h2M91.77 292.88h4M123.75 292.88h4M181.72 292.88h2M207.7 292.88h2M111.76 294.05h2M123.75 294.05h2M143.74 294.05h2M195.71 294.05h2M207.7 294.05h2M75.78 295.23h2M115.76 295.23h2M45.8 296.4h2M51.79 296.4h2M169.73 296.4h2M125.75 297.57h2M111.76 298.75h2M199.71 298.75h2M207.7 298.75h2M67.78 299.92h2M97.77 299.92h2M119.75 299.92h2M143.74 299.92h2M181.72 299.92h2M117.76 301.09h2M147.74 301.09h2M173.72 301.09h2M199.71 301.09h4M107.76 302.27h2M147.74 302.27h2M37.8 303.44h6M71.78 303.44h2M169.73 303.44h2M179.72 303.44h2M193.71 303.44h2M49.79 304.61h2M65.78 304.61h2M121.75 304.61h6M129.75 305.79h4M85.77 306.96h4M65.78 308.13h2M133.75 308.13h2M81.78 309.31h2M113.76 309.31h2M65.78 310.48h2M103.76 310.48h2M117.76 310.48h2M125.75 310.48h2M149.74 310.48h2M37.8 311.65h2M199.71 311.65h2M211.7 311.65h2M49.79 312.83h2M59.79 312.83h2M37.8 314h2M87.77 314h2M109.76 314h2M191.71 314h2M213.7 314h2M169.73 315.17h2M193.71 315.17h4M39.8 316.35h2M113.76 316.35h2M125.75 316.35h2M207.7 316.35h2M39.8 317.52h2M51.79 317.52h2M113.76 317.52h2M207.7 318.69h2M153.73 319.87h2M59.79 321.04h2M39.8 322.21h4M41.8 323.39h2M45.8 323.39h4M145.74 323.39h2M39.8 324.56h4M93.77 324.56h2M109.76 324.56h2M133.75 324.56h2M95.77 325.73h2M113.76 325.73h2M131.75 325.73h2M155.73 325.73h4M195.71 325.73h2M47.79 326.91h2M201.71 329.25h2M41.8 330.43h2M95.77 330.43h2M141.74 330.43h2M63.79 331.6h2M175.72 331.6h4M81.78 332.77h4M167.73 332.77h2M199.71 332.77h4M65.78 333.95h2M97.77 333.95h2M203.71 333.95h2M79.78 335.12h2M39.8 336.29h2M51.79 336.29h2M139.74 336.29h4M167.73 336.29h2M41.8 338.64h2M65.78 338.64h2M101.76 338.64h2M37.8 339.81h2M111.76 339.81h2M173.72 339.81h2" stroke="#fef7aa" stroke-width="1.17" fill="none"/><path d="M45.8 217.79h2M53.79 217.79h2M59.79 217.79h2M111.76 217.79h2M137.74 217.79h4M143.74 217.79h2M39.8 218.96h2M51.79 218.96h4M81.78 218.96h4M91.77 218.96h4M131.75 218.96h4M175.72 218.96h2M45.8 220.13h2M49.79 220.13h2M115.76 220.13h2M143.74 220.13h2M199.71 220.13h2M125.75 221.31h2M133.75 221.31h2M151.74 221.31h2M83.77 222.48h2M147.74 222.48h2M39.8 223.65h2M45.8 223.65h2M49.79 223.65h2M55.79 223.65h2M71.78 223.65h2M49.79 224.83h2M59.79 224.83h4M113.76 224.83h2M137.74 224.83h2M197.71 224.83h2M93.77 226h4M53.79 227.17h2M65.78 227.17h2M39.8 228.35h4M47.79 228.35h2M59.79 228.35h2M111.76 228.35h2M123.75 228.35h2M59.79 229.52h4M139.74 229.52h2M49.79 230.69h2M101.76 230.69h2M113.76 230.69h2M123.75 230.69h2M131.75 230.69h2M37.8 231.87h4M43.8 231.87h2M63.79 231.87h2M67.78 231.87h2M87.77 231.87h2M131.75 231.87h2M45.8 233.04h2M49.79 233.04h2M73.78 233.04h2M83.77 233.04h2M115.76 233.04h4M131.75 233.04h2M191.71 233.04h4M49.79 234.21h2M59.79 234.21h2M111.76 234.21h2M137.74 234.21h2M173.72 234.21h2M45.8 235.39h6M65.78 235.39h2M119.75 235.39h4M125.75 235.39h2M59.79 236.56h4M93.77 236.56h4M137.74 236.56h2M199.71 236.56h4M53.79 237.73h2M61.79 237.73h2M195.71 237.73h2M41.8 238.91h2M49.79 238.91h2M63.79 238.91h2M71.78 238.91h4M123.75 238.91h4M199.71 238.91h4M45.8 240.08h2M49.79 240.08h2M59.79 240.08h2M103.76 240.08h2M113.76 240.08h4M199.71 240.08h2M49.79 241.25h4M55.79 241.25h2M65.78 241.25h2M133.75 241.25h2M199.71 241.25h2M207.7 241.25h2M211.7 241.25h2M41.8 242.43h2M69.78 242.43h6M83.77 242.43h2M91.77 242.43h2M99.77 242.43h4M117.76 242.43h2M127.75 242.43h2M149.74 242.43h2M209.7 242.43h2M39.8 243.6h2M43.8 243.6h2M65.78 243.6h2M49.79 244.77h2M73.78 244.77h2M139.74 244.77h2M195.71 244.77h2M47.79 245.95h2M53.79 245.95h2M59.79 245.95h2M83.77 245.95h6M135.74 245.95h4M51.79 247.12h4M113.76 247.12h4M121.75 247.12h2M81.78 248.29h4M131.75 248.29h2M195.71 248.29h2M45.8 249.47h4M61.79 249.47h2M173.72 249.47h4M39.8 250.64h2M65.78 250.64h4M97.77 250.64h4M127.75 250.64h2M153.73 250.64h2M211.7 250.64h4M49.79 251.81h2M59.79 251.81h2M117.76 251.81h2M131.75 251.81h4M147.74 251.81h2M159.73 251.81h2M199.71 251.81h4M53.79 252.99h2M57.79 252.99h2M69.78 252.99h4M85.77 252.99h4M123.75 252.99h2M41.8 254.16h2M55.79 254.16h2M59.79 254.16h4M95.77 254.16h2M99.77 254.16h2M191.71 254.16h2M203.71 254.16h2M71.78 255.33h2M123.75 255.33h2M135.74 255.33h2M51.79 256.51h2M87.77 256.51h2M115.76 256.51h2M125.75 256.51h2M157.73 256.51h2M191.71 256.51h4M211.7 256.51h2M47.79 257.68h6M169.73 257.68h2M179.72 257.68h4M197.71 257.68h4M55.79 258.85h4M65.78 258.85h2M79.78 258.85h2M85.77 258.85h4M201.71 258.85h4M211.7 258.85h2M45.8 260.03h2M57.79 260.03h2M61.79 260.03h2M67.78 260.03h2M85.77 260.03h2M97.77 260.03h6M115.76 260.03h2M121.75 260.03h2M139.74 260.03h2M145.74 260.03h4M155.73 260.03h2M175.72 260.03h2M195.71 260.03h2M209.7 260.03h2M101.76 261.2h2M125.75 261.2h2M129.75 261.2h6M137.74 261.2h2M143.74 261.2h6M45.8 262.37h4M53.79 262.37h2M113.76 262.37h2M195.71 262.37h4M47.79 263.55h2M51.79 263.55h2M59.79 263.55h2M89.77 263.55h2M101.76 263.55h4M131.75 263.55h2M137.74 263.55h2M199.71 263.55h2M45.8 264.72h2M49.79 264.72h4M95.77 264.72h2M139.74 264.72h6M43.8 265.89h2M53.79 265.89h2M65.78 265.89h2M71.78 265.89h4M89.77 265.89h4M45.8 267.07h2M55.79 267.07h2M65.78 267.07h2M113.76 267.07h4M123.75 267.07h2M139.74 267.07h4M163.73 267.07h2M45.8 268.24h8M59.79 268.24h2M95.77 268.24h2M183.72 268.24h2M207.7 268.24h6M45.8 269.41h2M49.79 269.41h2M59.79 269.41h2M73.78 269.41h4M103.76 269.41h2M125.75 269.41h2M143.74 269.41h4M51.79 270.59h2M37.8 271.76h2M49.79 271.76h2M61.79 271.76h2M115.76 271.76h2M123.75 271.76h2M133.75 271.76h2M169.73 271.76h2M173.72 271.76h2M195.71 271.76h2M41.8 272.93h4M61.79 272.93h2M87.77 272.93h4M137.74 272.93h2M143.74 272.93h2M165.73 272.93h6M41.8 274.11h2M53.79 274.11h2M59.79 274.11h2M63.79 274.11h2M83.77 274.11h6M115.76 274.11h2M39.8 275.28h2M43.8 275.28h2M61.79 275.28h2M101.76 275.28h2M119.75 275.28h8M131.75 275.28h2M135.74 275.28h2M175.72 275.28h2M191.71 275.28h9.99M205.71 275.28h2M209.7 275.28h4M85.77 276.45h2M119.75 276.45h2M131.75 276.45h2M141.74 276.45h2M211.7 276.45h2M41.8 277.63h2M103.76 277.63h2M107.76 277.63h2M111.76 277.63h2M143.74 277.63h2M149.74 277.63h2M165.73 277.63h2M183.72 277.63h2M207.7 277.63h2M211.7 277.63h2M47.79 278.8h2M75.78 278.8h2M91.77 278.8h2M97.77 278.8h2M103.76 278.8h6M113.76 278.8h2M123.75 278.8h2M131.75 278.8h2M183.72 278.8h2M195.71 278.8h2M211.7 278.8h2M39.8 279.97h2M55.79 279.97h4M61.79 279.97h2M85.77 279.97h2M107.76 279.97h2M123.75 279.97h2M143.74 279.97h2M41.8 281.15h4M59.79 281.15h2M79.78 281.15h2M91.77 281.15h2M101.76 281.15h4M113.76 281.15h2M125.75 281.15h2M141.74 281.15h2M175.72 281.15h2M195.71 281.15h2M39.8 282.32h2M47.79 282.32h2M59.79 282.32h4M95.77 282.32h2M99.77 282.32h2M131.75 282.32h2M43.8 283.49h4M57.79 283.49h2M61.79 283.49h2M113.76 283.49h2M119.75 283.49h2M133.75 283.49h2M183.72 283.49h4M207.7 283.49h2M211.7 283.49h2M95.77 284.67h2M143.74 284.67h2M211.7 284.67h2M41.8 285.84h4M107.76 285.84h2M43.8 287.01h2M49.79 287.01h2M55.79 287.01h2M59.79 287.01h2M71.78 287.01h2M83.77 287.01h2M91.77 287.01h2M107.76 287.01h2M113.76 287.01h2M145.74 287.01h2M153.73 287.01h2M169.73 287.01h2M195.71 287.01h2M57.79 288.19h4M85.77 288.19h4M97.77 288.19h2M101.76 288.19h2M125.75 288.19h2M133.75 288.19h2M171.72 288.19h2M181.72 288.19h4M199.71 288.19h2M209.7 288.19h4M39.8 289.36h2M43.8 289.36h2M55.79 289.36h4M85.77 289.36h2M99.77 289.36h4M113.76 289.36h2M117.76 289.36h2M139.74 289.36h2M143.74 289.36h2M161.73 289.36h2M183.72 289.36h4M197.71 289.36h2M37.8 290.53h2M53.79 290.53h2M65.78 290.53h2M75.78 290.53h2M103.76 290.53h2M113.76 290.53h2M163.73 290.53h2M181.72 290.53h2M41.8 291.71h2M53.79 291.71h2M67.78 291.71h2M77.78 291.71h2M97.77 291.71h2M103.76 291.71h2M107.76 291.71h2M111.76 291.71h2M123.75 291.71h2M163.73 291.71h4M169.73 291.71h2M183.72 291.71h4M199.71 291.71h2M97.77 292.88h2M113.76 292.88h2M117.76 292.88h4M137.74 292.88h6M183.72 292.88h2M45.8 294.05h2M65.78 294.05h2M91.77 294.05h2M193.71 294.05h2M209.7 294.05h4M47.79 295.23h2M57.79 295.23h2M71.78 295.23h4M125.75 295.23h2M133.75 295.23h2M143.74 295.23h2M213.7 295.23h2M53.79 296.4h2M59.79 296.4h2M83.77 296.4h2M97.77 296.4h2M103.76 296.4h2M115.76 296.4h2M133.75 296.4h2M143.74 296.4h2M163.73 296.4h2M183.72 296.4h2M207.7 296.4h4M41.8 297.57h4M123.75 297.57h2M143.74 297.57h2M211.7 297.57h2M97.77 298.75h2M107.76 298.75h2M133.75 298.75h2M143.74 298.75h2M201.71 298.75h2M209.7 298.75h4M37.8 299.92h4M63.79 299.92h4M75.78 299.92h2M85.77 299.92h2M95.77 299.92h2M101.76 299.92h4M107.76 299.92h2M139.74 299.92h2M183.72 299.92h2M211.7 299.92h2M41.8 301.09h2M61.79 301.09h2M83.77 301.09h2M99.77 301.09h2M127.75 301.09h2M175.72 301.09h2M179.72 301.09h2M97.77 302.27h4M133.75 302.27h2M145.74 302.27h2M149.74 302.27h2M51.79 303.44h2M73.78 303.44h2M81.78 303.44h4M107.76 303.44h2M139.74 303.44h2M147.74 303.44h2M173.72 303.44h4M211.7 303.44h2M45.8 304.61h4M67.78 304.61h2M75.78 304.61h4M97.77 304.61h4M135.74 304.61h2M143.74 304.61h2M175.72 304.61h2M195.71 304.61h2M45.8 305.79h4M73.78 305.79h2M139.74 305.79h2M71.78 306.96h2M101.76 306.96h2M125.75 306.96h2M141.74 306.96h2M207.7 306.96h2M59.79 308.13h2M89.77 308.13h2M105.76 308.13h4M123.75 308.13h4M197.71 308.13h2M201.71 308.13h2M37.8 309.31h2M49.79 309.31h2M79.78 309.31h2M195.71 309.31h2M41.8 310.48h2M63.79 310.48h2M67.78 310.48h2M91.77 310.48h2M95.77 310.48h2M199.71 310.48h2M207.7 310.48h2M41.8 311.65h2M85.77 311.65h2M165.73 311.65h2M195.71 311.65h2M45.8 312.83h4M71.78 312.83h2M93.77 312.83h4M119.75 312.83h2M125.75 312.83h2M143.74 312.83h2M193.71 312.83h2M59.79 314h2M89.77 314h2M107.76 314h2M111.76 314h2M117.76 314h2M121.75 314h2M125.75 314h2M139.74 314h2M143.74 314h2M193.71 314h2M211.7 314h2M205.71 315.17h2M43.8 316.35h4M77.78 316.35h2M81.78 316.35h2M103.76 316.35h2M107.76 316.35h2M123.75 316.35h2M133.75 316.35h2M147.74 316.35h2M37.8 317.52h2M41.8 317.52h2M49.79 317.52h2M53.79 317.52h2M101.76 317.52h2M107.76 317.52h2M153.73 317.52h2M195.71 317.52h2M201.71 317.52h2M207.7 317.52h2M41.8 318.69h2M45.8 318.69h4M45.8 319.87h2M113.76 319.87h2M117.76 319.87h2M149.74 319.87h2M185.72 319.87h2M61.79 321.04h2M87.77 321.04h2M133.75 321.04h2M163.73 321.04h2M55.79 322.21h2M59.79 322.21h2M65.78 322.21h2M175.72 322.21h2M201.71 322.21h4M207.7 322.21h2M71.78 323.39h2M89.77 323.39h4M113.76 323.39h2M125.75 323.39h2M131.75 323.39h2M141.74 323.39h4M175.72 323.39h2M207.7 323.39h4M37.8 324.56h2M51.79 324.56h2M65.78 324.56h2M95.77 324.56h2M101.76 324.56h6M131.75 324.56h2M165.73 324.56h6M181.72 324.56h2M197.71 324.56h2M203.71 324.56h2M47.79 325.73h2M55.79 325.73h2M83.77 325.73h2M107.76 325.73h2M171.72 325.73h2M193.71 325.73h2M197.71 325.73h2M193.71 326.91h2M39.8 328.08h2M65.78 328.08h2M71.78 328.08h2M117.76 328.08h6M141.74 328.08h2M77.78 329.25h4M103.76 329.25h2M107.76 329.25h4M113.76 329.25h2M199.71 329.25h2M53.79 330.43h2M97.77 330.43h2M107.76 330.43h2M131.75 330.43h2M139.74 330.43h2M143.74 330.43h2M173.72 330.43h2M37.8 331.6h4M53.79 331.6h2M61.79 331.6h2M103.76 331.6h2M107.76 331.6h2M139.74 331.6h2M165.73 331.6h2M173.72 331.6h2M179.72 331.6h2M199.71 331.6h4M41.8 332.77h2M65.78 332.77h2M73.78 332.77h2M113.76 332.77h2M149.74 332.77h2M153.73 332.77h4M159.73 332.77h4M169.73 332.77h2M197.71 332.77h2M63.79 333.95h2M83.77 333.95h2M93.77 333.95h2M99.77 333.95h2M125.75 333.95h2M157.73 333.95h2M193.71 333.95h4M207.7 333.95h4M37.8 335.12h2M41.8 335.12h2M65.78 335.12h2M71.78 335.12h2M81.78 335.12h2M87.77 335.12h2M107.76 335.12h2M111.76 335.12h6M195.71 335.12h2M41.8 336.29h2M107.76 336.29h2M123.75 336.29h4M135.74 336.29h2M145.74 336.29h2M157.73 336.29h2M165.73 336.29h2M169.73 336.29h2M213.7 336.29h2M99.77 337.47h2M125.75 337.47h2M163.73 337.47h4M169.73 337.47h2M199.71 337.47h2M207.7 337.47h2M39.8 338.64h2M47.79 338.64h2M59.79 338.64h2M67.78 338.64h2M99.77 338.64h2M113.76 338.64h2M41.8 339.81h2M59.79 339.81h2M67.78 339.81h2M75.78 339.81h2M115.76 339.81h2M155.73 339.81h4M199.71 339.81h2" stroke="#fef9c6" stroke-width="1.17" fill="none"/><path d="M47.79 217.79h6M45.8 218.96h2M49.79 218.96h2M39.8 222.48h2M49.79 222.48h4M53.79 223.65h2M45.8 224.83h4M45.8 227.17h2M51.79 229.52h2M115.76 230.69h4M45.8 231.87h4M53.79 231.87h2M65.78 231.87h2M169.73 231.87h2M45.8 234.21h2M51.79 234.21h2M117.76 234.21h2M53.79 235.39h2M113.76 235.39h4M53.79 236.56h2M113.76 236.56h4M139.74 236.56h2M45.8 237.73h2M49.79 237.73h2M59.79 237.73h2M113.76 237.73h6M51.79 238.91h4M113.76 238.91h4M47.79 241.25h2M53.79 241.25h2M113.76 241.25h2M45.8 242.43h2M115.76 242.43h2M45.8 243.6h2M49.79 243.6h4M117.76 245.95h2M125.75 245.95h2M47.79 247.12h2M45.8 248.29h2M117.76 249.47h2M41.8 250.64h2M49.79 250.64h2M53.79 250.64h2M117.76 250.64h2M113.76 251.81h2M45.8 252.99h2M115.76 252.99h2M45.8 254.16h2M49.79 254.16h4M199.71 254.16h4M49.79 255.33h4M117.76 257.68h2M45.8 258.85h2M51.79 258.85h2M59.79 258.85h4M113.76 258.85h4M47.79 260.03h4M113.76 260.03h2M143.74 260.03h2M49.79 261.2h2M117.76 261.2h2M91.77 263.55h2M65.78 264.72h2M113.76 264.72h2M117.76 264.72h2M125.75 264.72h2M51.79 265.89h2M113.76 265.89h6M51.79 267.07h2M113.76 268.24h2M47.79 269.41h2M115.76 269.41h2M45.8 270.59h4M113.76 270.59h6M53.79 271.76h2M113.76 271.76h2M117.76 271.76h2M125.75 271.76h2M49.79 272.93h2M53.79 272.93h2M115.76 272.93h2M49.79 274.11h2M143.74 276.45h2M85.77 277.63h2M169.73 277.63h2M59.79 279.97h2M67.78 279.97h2M181.72 279.97h2M97.77 282.32h2M133.75 282.32h2M55.79 283.49h2M67.78 283.49h2M125.75 284.67h2M39.8 287.01h2M53.79 287.01h2M75.78 287.01h6M143.74 287.01h2M137.74 288.19h2M61.79 289.36h2M163.73 289.36h2M199.71 289.36h2M39.8 290.53h2M45.8 290.53h2M67.78 290.53h2M143.74 290.53h2M45.8 291.71h4M75.78 291.71h2M139.74 291.71h4M95.77 292.88h2M143.74 292.88h2M47.79 294.05h2M67.78 294.05h2M125.75 294.05h2M61.79 295.23h2M117.76 295.23h2M211.7 295.23h2M67.78 296.4h2M113.76 296.4h2M181.72 296.4h2M37.8 298.75h2M41.8 298.75h2M59.79 298.75h2M113.76 298.75h2M123.75 299.92h2M207.7 301.09h2M51.79 304.61h2M41.8 308.13h2M199.71 308.13h2M39.8 309.31h2M95.77 309.31h2M125.75 311.65h2M201.71 311.65h2M117.76 312.83h2M63.79 314h4M141.74 314h2M201.71 315.17h4M197.71 317.52h4M87.77 324.56h2M91.77 324.56h2M107.76 324.56h2M173.72 324.56h2M173.72 325.73h2M199.71 325.73h2M41.8 331.6h2M47.79 331.6h2M51.79 331.6h2M105.76 331.6h2M77.78 332.77h4M157.73 332.77h2M95.77 333.95h2M73.78 336.29h2M143.74 336.29h2M107.76 339.81h2" stroke="#fef68f" stroke-width="1.17" fill="none"/><path d="M75.78 217.79h2M81.78 217.79h4M123.75 217.79h4M147.74 217.79h6M159.73 217.79h2M163.73 217.79h4M171.72 217.79h2M177.72 217.79h2M181.72 217.79h2M191.71 217.79h2M211.7 217.79h4M71.78 218.96h2M97.77 218.96h2M101.76 218.96h2M117.76 218.96h2M123.75 218.96h2M127.75 218.96h2M159.73 218.96h6M179.72 218.96h9.99M195.71 218.96h4M209.7 218.96h6M43.8 220.13h2M55.79 220.13h2M59.79 220.13h2M67.78 220.13h2M73.78 220.13h9.99M85.77 220.13h2M103.76 220.13h2M119.75 220.13h8M155.73 220.13h4M179.72 220.13h2M185.72 220.13h6M205.71 220.13h2M209.7 220.13h4M57.79 221.31h2M67.78 221.31h8M79.78 221.31h9.99M91.77 221.31h6M101.76 221.31h2M117.76 221.31h2M123.75 221.31h2M127.75 221.31h4M135.74 221.31h2M139.74 221.31h4M145.74 221.31h2M173.72 221.31h2M177.72 221.31h8M197.71 221.31h2M207.7 221.31h2M55.79 222.48h2M77.78 222.48h2M89.77 222.48h6M99.77 222.48h4M129.75 222.48h2M133.75 222.48h2M153.73 222.48h2M157.73 222.48h4M181.72 222.48h2M185.72 222.48h4M195.71 222.48h2M201.71 222.48h2M209.7 222.48h2M43.8 223.65h2M61.79 223.65h2M67.78 223.65h2M79.78 223.65h2M89.77 223.65h2M101.76 223.65h4M117.76 223.65h2M123.75 223.65h2M137.74 223.65h4M145.74 223.65h2M157.73 223.65h2M167.73 223.65h4M173.72 223.65h4M203.71 223.65h4M211.7 223.65h2M39.8 224.83h2M67.78 224.83h2M77.78 224.83h2M81.78 224.83h2M89.77 224.83h2M95.77 224.83h2M123.75 224.83h2M129.75 224.83h2M135.74 224.83h2M141.74 224.83h2M155.73 224.83h2M159.73 224.83h2M163.73 224.83h6M173.72 224.83h2M183.72 224.83h8M209.7 224.83h2M39.8 226h2M55.79 226h4M61.79 226h2M71.78 226h4M81.78 226h2M123.75 226h2M131.75 226h4M169.73 226h4M175.72 226h2M179.72 226h6M187.72 226h2M199.71 226h4M43.8 227.17h2M57.79 227.17h2M69.78 227.17h2M77.78 227.17h2M87.77 227.17h2M95.77 227.17h4M119.75 227.17h2M123.75 227.17h4M131.75 227.17h4M139.74 227.17h2M149.74 227.17h2M187.72 227.17h4M203.71 227.17h6M211.7 227.17h4M55.79 228.35h2M63.79 228.35h2M89.77 228.35h2M93.77 228.35h2M127.75 228.35h2M131.75 228.35h2M147.74 228.35h2M163.73 228.35h2M167.73 228.35h4M173.72 228.35h4M181.72 228.35h2M185.72 228.35h6M193.71 228.35h4M199.71 228.35h2M71.78 229.52h2M75.78 229.52h8M87.77 229.52h2M91.77 229.52h2M101.76 229.52h4M113.76 229.52h4M121.75 229.52h4M135.74 229.52h2M145.74 229.52h2M165.73 229.52h4M175.72 229.52h2M179.72 229.52h4M207.7 229.52h2M211.7 229.52h4M37.8 230.69h2M51.79 230.69h2M63.79 230.69h2M69.78 230.69h2M79.78 230.69h2M83.77 230.69h2M103.76 230.69h2M129.75 230.69h2M137.74 230.69h4M147.74 230.69h2M155.73 230.69h4M165.73 230.69h2M169.73 230.69h2M187.72 230.69h2M191.71 230.69h4M197.71 230.69h2M201.71 230.69h4M207.7 230.69h2M57.79 231.87h2M79.78 231.87h4M93.77 231.87h4M111.76 231.87h2M119.75 231.87h2M129.75 231.87h2M135.74 231.87h2M145.74 231.87h4M161.73 231.87h2M175.72 231.87h2M181.72 231.87h6M191.71 231.87h4M197.71 231.87h4M55.79 233.04h2M59.79 233.04h2M67.78 233.04h2M103.76 233.04h2M111.76 233.04h2M125.75 233.04h2M129.75 233.04h2M137.74 233.04h2M155.73 233.04h2M163.73 233.04h6M189.71 233.04h2M203.71 233.04h2M211.7 233.04h4M75.78 234.21h4M101.76 234.21h2M123.75 234.21h2M133.75 234.21h2M141.74 234.21h2M147.74 234.21h2M163.73 234.21h2M191.71 234.21h2M199.71 234.21h2M205.71 234.21h2M209.7 234.21h2M213.7 234.21h2M37.8 235.39h2M41.8 235.39h2M69.78 235.39h6M79.78 235.39h2M89.77 235.39h2M99.77 235.39h2M103.76 235.39h2M111.76 235.39h2M129.75 235.39h2M133.75 235.39h2M153.73 235.39h4M165.73 235.39h2M179.72 235.39h2M193.71 235.39h2M39.8 236.56h2M57.79 236.56h2M65.78 236.56h2M101.76 236.56h2M127.75 236.56h2M131.75 236.56h4M143.74 236.56h2M149.74 236.56h2M153.73 236.56h2M175.72 236.56h2M179.72 236.56h2M191.71 236.56h2M209.7 236.56h6M37.8 237.73h4M75.78 237.73h2M79.78 237.73h2M97.77 237.73h2M101.76 237.73h2M111.76 237.73h2M135.74 237.73h2M139.74 237.73h2M153.73 237.73h2M165.73 237.73h2M187.72 237.73h2M37.8 238.91h2M103.76 238.91h2M119.75 238.91h2M147.74 238.91h11.99M163.73 238.91h2M175.72 238.91h2M205.71 238.91h2M37.8 240.08h4M43.8 240.08h2M57.79 240.08h2M63.79 240.08h2M75.78 240.08h6M87.77 240.08h6M95.77 240.08h4M135.74 240.08h6M147.74 240.08h2M157.73 240.08h2M191.71 240.08h2M197.71 240.08h2M207.7 240.08h2M211.7 240.08h2M43.8 241.25h2M69.78 241.25h2M73.78 241.25h2M119.75 241.25h2M139.74 241.25h2M147.74 241.25h4M157.73 241.25h2M173.72 241.25h2M181.72 241.25h15.99M59.79 242.43h2M81.78 242.43h2M111.76 242.43h2M137.74 242.43h4M169.73 242.43h2M177.72 242.43h2M37.8 243.6h2M57.79 243.6h2M61.79 243.6h4M111.76 243.6h2M145.74 243.6h2M159.73 243.6h2M165.73 243.6h2M169.73 243.6h2M173.72 243.6h2M181.72 243.6h2M211.7 243.6h2M37.8 244.77h2M43.8 244.77h2M57.79 244.77h2M61.79 244.77h2M69.78 244.77h2M77.78 244.77h2M85.77 244.77h4M93.77 244.77h2M121.75 244.77h4M143.74 244.77h2M149.74 244.77h4M155.73 244.77h4M173.72 244.77h2M177.72 244.77h2M205.71 244.77h2M209.7 244.77h2M213.7 244.77h2M39.8 245.95h2M55.79 245.95h2M61.79 245.95h2M69.78 245.95h2M75.78 245.95h4M119.75 245.95h2M131.75 245.95h2M139.74 245.95h2M147.74 245.95h6M155.73 245.95h2M183.72 245.95h6M191.71 245.95h2M195.71 245.95h2M201.71 245.95h2M55.79 247.12h2M59.79 247.12h8M69.78 247.12h2M77.78 247.12h2M99.77 247.12h2M127.75 247.12h2M133.75 247.12h4M147.74 247.12h2M153.73 247.12h2M169.73 247.12h2M181.72 247.12h4M193.71 247.12h2M201.71 247.12h4M213.7 247.12h2M63.79 248.29h2M75.78 248.29h2M97.77 248.29h2M129.75 248.29h2M147.74 248.29h4M159.73 248.29h2M169.73 248.29h2M183.72 248.29h2M191.71 248.29h2M205.71 248.29h2M43.8 249.47h2M71.78 249.47h2M77.78 249.47h2M85.77 249.47h6M119.75 249.47h2M131.75 249.47h4M145.74 249.47h2M149.74 249.47h2M169.73 249.47h4M177.72 249.47h4M187.72 249.47h2M197.71 249.47h2M57.79 250.64h2M119.75 250.64h4M129.75 250.64h2M137.74 250.64h2M143.74 250.64h4M149.74 250.64h2M163.73 250.64h2M171.72 250.64h2M185.72 250.64h2M189.71 250.64h2M205.71 250.64h6M57.79 251.81h2M63.79 251.81h2M67.78 251.81h6M81.78 251.81h4M95.77 251.81h4M101.76 251.81h2M111.76 251.81h2M135.74 251.81h2M145.74 251.81h2M179.72 251.81h2M193.71 251.81h2M197.71 251.81h2M205.71 251.81h2M213.7 251.81h2M39.8 252.99h2M63.79 252.99h2M77.78 252.99h2M89.77 252.99h4M99.77 252.99h2M135.74 252.99h2M141.74 252.99h2M153.73 252.99h2M157.73 252.99h2M163.73 252.99h2M169.73 252.99h2M173.72 252.99h4M179.72 252.99h2M183.72 252.99h6M191.71 252.99h2M199.71 252.99h2M37.8 254.16h2M67.78 254.16h2M71.78 254.16h2M75.78 254.16h2M81.78 254.16h2M85.77 254.16h2M93.77 254.16h2M101.76 254.16h2M111.76 254.16h2M119.75 254.16h2M135.74 254.16h8M145.74 254.16h2M165.73 254.16h2M169.73 254.16h2M179.72 254.16h4M195.71 254.16h2M213.7 254.16h2M75.78 255.33h2M81.78 255.33h2M85.77 255.33h2M97.77 255.33h6M111.76 255.33h2M119.75 255.33h2M153.73 255.33h2M159.73 255.33h2M163.73 255.33h2M169.73 255.33h2M175.72 255.33h2M185.72 255.33h2M189.71 255.33h2M197.71 255.33h2M205.71 255.33h2M211.7 255.33h2M39.8 256.51h4M55.79 256.51h11.99M71.78 256.51h8M111.76 256.51h2M121.75 256.51h2M127.75 256.51h2M131.75 256.51h6M141.74 256.51h4M147.74 256.51h6M159.73 256.51h2M169.73 256.51h2M189.71 256.51h2M197.71 256.51h4M203.71 256.51h2M207.7 256.51h2M57.79 257.68h4M63.79 257.68h2M67.78 257.68h2M71.78 257.68h2M75.78 257.68h6M87.77 257.68h4M95.77 257.68h2M99.77 257.68h2M111.76 257.68h2M121.75 257.68h4M139.74 257.68h2M143.74 257.68h4M149.74 257.68h2M157.73 257.68h8M187.72 257.68h2M193.71 257.68h2M205.71 257.68h2M41.8 258.85h4M93.77 258.85h2M97.77 258.85h6M127.75 258.85h2M133.75 258.85h6M169.73 258.85h2M173.72 258.85h2M179.72 258.85h6M213.7 258.85h2M63.79 260.03h2M75.78 260.03h4M81.78 260.03h2M111.76 260.03h2M127.75 260.03h2M135.74 260.03h2M167.73 260.03h6M177.72 260.03h2M191.71 260.03h2M199.71 260.03h2M77.78 261.2h6M85.77 261.2h2M97.77 261.2h2M119.75 261.2h4M149.74 261.2h2M153.73 261.2h8M171.72 261.2h6M189.71 261.2h2M203.71 261.2h2M207.7 261.2h2M39.8 262.37h2M43.8 262.37h2M61.79 262.37h2M67.78 262.37h4M85.77 262.37h2M99.77 262.37h2M111.76 262.37h2M141.74 262.37h2M145.74 262.37h2M155.73 262.37h4M203.71 262.37h2M207.7 262.37h2M43.8 263.55h2M57.79 263.55h2M63.79 263.55h2M73.78 263.55h2M81.78 263.55h2M85.77 263.55h2M125.75 263.55h2M129.75 263.55h2M151.74 263.55h4M159.73 263.55h2M179.72 263.55h4M203.71 263.55h2M213.7 263.55h2M37.8 264.72h2M41.8 264.72h2M59.79 264.72h2M75.78 264.72h2M79.78 264.72h2M87.77 264.72h2M91.77 264.72h2M129.75 264.72h2M135.74 264.72h2M145.74 264.72h2M161.73 264.72h2M167.73 264.72h2M173.72 264.72h2M179.72 264.72h2M185.72 264.72h2M197.71 264.72h2M207.7 264.72h2M211.7 264.72h4M55.79 265.89h2M61.79 265.89h4M75.78 265.89h2M81.78 265.89h6M97.77 265.89h4M103.76 265.89h2M133.75 265.89h6M145.74 265.89h4M151.74 265.89h6M159.73 265.89h2M179.72 265.89h2M191.71 265.89h2M205.71 265.89h2M213.7 265.89h2M69.78 267.07h2M77.78 267.07h4M85.77 267.07h2M89.77 267.07h2M95.77 267.07h2M111.76 267.07h2M129.75 267.07h2M145.74 267.07h2M155.73 267.07h6M169.73 267.07h2M193.71 267.07h2M197.71 267.07h2M209.7 267.07h4M37.8 268.24h4M43.8 268.24h2M57.79 268.24h2M89.77 268.24h4M103.76 268.24h2M121.75 268.24h2M133.75 268.24h2M145.74 268.24h2M151.74 268.24h4M159.73 268.24h2M169.73 268.24h2M187.72 268.24h2M191.71 268.24h2M213.7 268.24h2M39.8 269.41h2M43.8 269.41h2M55.79 269.41h2M67.78 269.41h4M81.78 269.41h2M87.77 269.41h2M91.77 269.41h6M119.75 269.41h4M127.75 269.41h4M133.75 269.41h4M139.74 269.41h4M149.74 269.41h2M157.73 269.41h2M179.72 269.41h2M183.72 269.41h11.99M209.7 269.41h2M55.79 270.59h2M59.79 270.59h2M63.79 270.59h2M67.78 270.59h4M77.78 270.59h2M83.77 270.59h13.99M101.76 270.59h4M137.74 270.59h4M143.74 270.59h2M151.74 270.59h2M165.73 270.59h2M175.72 270.59h2M201.71 270.59h4M43.8 271.76h2M57.79 271.76h2M91.77 271.76h4M101.76 271.76h2M139.74 271.76h6M147.74 271.76h2M151.74 271.76h4M163.73 271.76h2M183.72 271.76h2M191.71 271.76h2M209.7 271.76h2M55.79 272.93h4M67.78 272.93h2M75.78 272.93h2M95.77 272.93h6M103.76 272.93h2M111.76 272.93h2M121.75 272.93h2M145.74 272.93h2M149.74 272.93h2M197.71 272.93h2M207.7 272.93h4M55.79 274.11h2M75.78 274.11h2M79.78 274.11h4M99.77 274.11h6M125.75 274.11h2M131.75 274.11h4M145.74 274.11h2M169.73 274.11h2M197.71 274.11h2M213.7 274.11h2M51.79 275.28h2M83.77 275.28h6M107.76 275.28h2M141.74 275.28h4M161.73 275.28h2M169.73 275.28h2M185.72 275.28h4M47.79 276.45h4M53.79 276.45h2M81.78 276.45h2M97.77 276.45h4M103.76 276.45h2M111.76 276.45h2M121.75 276.45h2M135.74 276.45h4M147.74 276.45h4M157.73 276.45h2M55.79 277.63h2M63.79 277.63h4M69.78 277.63h2M93.77 277.63h2M117.76 277.63h4M141.74 277.63h2M185.72 277.63h2M189.71 277.63h2M205.71 277.63h2M37.8 278.8h2M49.79 278.8h2M83.77 278.8h2M87.77 278.8h4M109.76 278.8h2M121.75 278.8h2M127.75 278.8h4M135.74 278.8h2M141.74 278.8h2M171.72 278.8h2M185.72 278.8h6M197.71 278.8h6M205.71 278.8h2M37.8 279.97h2M77.78 279.97h4M101.76 279.97h2M121.75 279.97h2M151.74 279.97h2M157.73 279.97h2M163.73 279.97h2M185.72 279.97h2M197.71 279.97h2M49.79 281.15h2M57.79 281.15h2M63.79 281.15h4M89.77 281.15h2M105.76 281.15h2M123.75 281.15h2M149.74 281.15h2M159.73 281.15h4M173.72 281.15h2M185.72 281.15h2M191.71 281.15h2M201.71 281.15h2M69.78 282.32h2M91.77 282.32h4M103.76 282.32h2M119.75 282.32h2M135.74 282.32h4M143.74 282.32h2M163.73 282.32h2M175.72 282.32h2M179.72 282.32h8M199.71 282.32h2M51.79 283.49h2M69.78 283.49h2M75.78 283.49h2M89.77 283.49h2M99.77 283.49h2M103.76 283.49h2M107.76 283.49h4M117.76 283.49h2M135.74 283.49h4M159.73 283.49h2M169.73 283.49h2M189.71 283.49h2M45.8 284.67h2M49.79 284.67h2M57.79 284.67h2M63.79 284.67h4M69.78 284.67h2M73.78 284.67h2M115.76 284.67h2M139.74 284.67h2M153.73 284.67h6M193.71 284.67h2M201.71 284.67h2M37.8 285.84h2M71.78 285.84h2M75.78 285.84h2M95.77 285.84h4M105.76 285.84h2M113.76 285.84h2M125.75 285.84h2M131.75 285.84h2M149.74 285.84h2M161.73 285.84h4M169.73 285.84h2M179.72 285.84h4M187.72 285.84h2M191.71 285.84h2M209.7 285.84h2M65.78 287.01h2M87.77 287.01h4M109.76 287.01h4M119.75 287.01h2M165.73 287.01h2M193.71 287.01h2M207.7 287.01h2M49.79 288.19h2M61.79 288.19h2M79.78 288.19h2M83.77 288.19h2M89.77 288.19h4M107.76 288.19h2M119.75 288.19h2M131.75 288.19h2M151.74 288.19h6M167.73 288.19h2M185.72 288.19h2M201.71 288.19h2M205.71 288.19h2M213.7 288.19h2M87.77 289.36h2M93.77 289.36h2M103.76 289.36h2M109.76 289.36h2M149.74 289.36h2M155.73 289.36h2M169.73 289.36h2M179.72 289.36h2M71.78 290.53h2M91.77 290.53h2M109.76 290.53h2M115.76 290.53h2M119.75 290.53h2M127.75 290.53h2M149.74 290.53h2M153.73 290.53h2M157.73 290.53h2M175.72 290.53h2M209.7 290.53h2M71.78 291.71h2M83.77 291.71h2M135.74 291.71h2M161.73 291.71h2M179.72 291.71h2M191.71 291.71h2M203.71 291.71h2M209.7 291.71h2M37.8 292.88h2M53.79 292.88h6M61.79 292.88h2M67.78 292.88h2M71.78 292.88h6M87.77 292.88h2M111.76 292.88h2M121.75 292.88h2M135.74 292.88h2M155.73 292.88h2M165.73 292.88h2M169.73 292.88h2M175.72 292.88h2M185.72 292.88h2M205.71 292.88h2M41.8 294.05h2M55.79 294.05h4M69.78 294.05h2M79.78 294.05h2M83.77 294.05h2M87.77 294.05h2M119.75 294.05h2M137.74 294.05h4M145.74 294.05h2M149.74 294.05h4M185.72 294.05h2M191.71 294.05h2M213.7 294.05h2M43.8 295.23h2M51.79 295.23h2M69.78 295.23h2M79.78 295.23h2M85.77 295.23h4M91.77 295.23h2M97.77 295.23h2M135.74 295.23h4M141.74 295.23h2M145.74 295.23h2M149.74 295.23h4M157.73 295.23h2M163.73 295.23h4M185.72 295.23h4M197.71 295.23h2M201.71 295.23h2M205.71 295.23h2M43.8 296.4h2M65.78 296.4h2M81.78 296.4h2M123.75 296.4h2M131.75 296.4h2M147.74 296.4h6M159.73 296.4h4M171.72 296.4h2M37.8 297.57h2M49.79 297.57h2M61.79 297.57h4M85.77 297.57h4M101.76 297.57h2M111.76 297.57h2M115.76 297.57h4M133.75 297.57h2M145.74 297.57h2M151.74 297.57h2M165.73 297.57h2M193.71 297.57h2M45.8 298.75h2M55.79 298.75h2M65.78 298.75h2M71.78 298.75h2M77.78 298.75h2M85.77 298.75h2M93.77 298.75h2M105.76 298.75h2M123.75 298.75h2M135.74 298.75h2M159.73 298.75h2M163.73 298.75h4M169.73 298.75h2M187.72 298.75h2M193.71 298.75h2M205.71 298.75h2M213.7 298.75h2M43.8 299.92h2M53.79 299.92h2M109.76 299.92h4M117.76 299.92h2M127.75 299.92h2M131.75 299.92h2M145.74 299.92h2M151.74 299.92h2M155.73 299.92h4M163.73 299.92h4M203.71 299.92h2M209.7 299.92h2M213.7 299.92h2M43.8 301.09h2M49.79 301.09h4M65.78 301.09h2M71.78 301.09h2M75.78 301.09h2M95.77 301.09h4M103.76 301.09h2M107.76 301.09h4M139.74 301.09h4M149.74 301.09h2M171.72 301.09h2M211.7 301.09h2M37.8 302.27h8M49.79 302.27h4M61.79 302.27h4M67.78 302.27h2M73.78 302.27h4M79.78 302.27h2M83.77 302.27h6M113.76 302.27h2M129.75 302.27h2M151.74 302.27h2M177.72 302.27h2M185.72 302.27h2M191.71 302.27h2M195.71 302.27h2M201.71 302.27h4M47.79 303.44h4M53.79 303.44h2M69.78 303.44h2M99.77 303.44h2M127.75 303.44h2M131.75 303.44h2M155.73 303.44h2M189.71 303.44h2M207.7 303.44h2M213.7 303.44h2M55.79 304.61h6M83.77 304.61h2M87.77 304.61h8M105.76 304.61h2M137.74 304.61h2M147.74 304.61h4M177.72 304.61h4M197.71 304.61h2M207.7 304.61h4M51.79 305.79h6M97.77 305.79h2M101.76 305.79h2M113.76 305.79h2M127.75 305.79h2M135.74 305.79h2M141.74 305.79h4M151.74 305.79h2M155.73 305.79h4M165.73 305.79h2M195.71 305.79h2M47.79 306.96h2M51.79 306.96h2M63.79 306.96h4M73.78 306.96h6M81.78 306.96h2M93.77 306.96h2M99.77 306.96h2M109.76 306.96h2M129.75 306.96h4M147.74 306.96h2M159.73 306.96h2M163.73 306.96h2M167.73 306.96h2M175.72 306.96h2M179.72 306.96h6M189.71 306.96h2M211.7 306.96h2M37.8 308.13h2M43.8 308.13h8M57.79 308.13h2M63.79 308.13h2M85.77 308.13h2M95.77 308.13h2M99.77 308.13h4M131.75 308.13h2M143.74 308.13h2M153.73 308.13h2M157.73 308.13h2M175.72 308.13h2M181.72 308.13h2M191.71 308.13h4M205.71 308.13h2M45.8 309.31h2M57.79 309.31h2M61.79 309.31h2M71.78 309.31h2M75.78 309.31h2M99.77 309.31h2M111.76 309.31h2M119.75 309.31h2M123.75 309.31h2M151.74 309.31h4M165.73 309.31h2M171.72 309.31h2M177.72 309.31h2M199.71 309.31h6M207.7 309.31h2M213.7 309.31h2M37.8 310.48h2M45.8 310.48h4M51.79 310.48h2M57.79 310.48h4M77.78 310.48h2M81.78 310.48h4M87.77 310.48h2M99.77 310.48h2M111.76 310.48h2M115.76 310.48h2M127.75 310.48h6M143.74 310.48h2M151.74 310.48h2M165.73 310.48h2M171.72 310.48h2M181.72 310.48h4M187.72 310.48h2M195.71 310.48h2M45.8 311.65h2M51.79 311.65h2M61.79 311.65h9.99M79.78 311.65h2M99.77 311.65h2M137.74 311.65h2M147.74 311.65h2M177.72 311.65h4M189.71 311.65h4M207.7 311.65h2M63.79 312.83h2M67.78 312.83h2M73.78 312.83h6M81.78 312.83h2M99.77 312.83h2M103.76 312.83h4M131.75 312.83h4M155.73 312.83h2M161.73 312.83h2M171.72 312.83h2M185.72 312.83h4M201.71 312.83h2M211.7 312.83h2M75.78 314h2M83.77 314h2M97.77 314h2M127.75 314h2M131.75 314h6M151.74 314h2M171.72 314h4M183.72 314h2M195.71 314h6M205.71 314h2M209.7 314h2M41.8 315.17h2M53.79 315.17h2M61.79 315.17h2M65.78 315.17h4M85.77 315.17h2M93.77 315.17h2M113.76 315.17h4M123.75 315.17h6M131.75 315.17h4M139.74 315.17h2M149.74 315.17h2M163.73 315.17h2M167.73 315.17h2M173.72 315.17h2M187.72 315.17h2M191.71 315.17h2M211.7 315.17h2M55.79 316.35h2M69.78 316.35h2M87.77 316.35h4M93.77 316.35h2M127.75 316.35h2M131.75 316.35h2M141.74 316.35h4M149.74 316.35h2M171.72 316.35h6M181.72 316.35h4M193.71 316.35h2M201.71 316.35h4M61.79 317.52h4M75.78 317.52h2M79.78 317.52h2M97.77 317.52h2M105.76 317.52h2M145.74 317.52h2M159.73 317.52h2M163.73 317.52h4M177.72 317.52h4M203.71 317.52h2M211.7 317.52h2M53.79 318.69h4M61.79 318.69h2M71.78 318.69h2M83.77 318.69h2M87.77 318.69h2M91.77 318.69h2M103.76 318.69h2M113.76 318.69h4M139.74 318.69h6M169.73 318.69h2M181.72 318.69h6M203.71 318.69h4M61.79 319.87h2M81.78 319.87h2M89.77 319.87h2M97.77 319.87h2M105.76 319.87h2M111.76 319.87h2M115.76 319.87h2M121.75 319.87h4M169.73 319.87h2M181.72 319.87h4M191.71 319.87h2M195.71 319.87h4M201.71 319.87h2M205.71 319.87h2M37.8 321.04h2M41.8 321.04h2M45.8 321.04h2M63.79 321.04h4M77.78 321.04h6M103.76 321.04h2M107.76 321.04h6M117.76 321.04h2M135.74 321.04h2M141.74 321.04h2M165.73 321.04h2M169.73 321.04h2M173.72 321.04h2M193.71 321.04h2M207.7 321.04h4M51.79 322.21h2M73.78 322.21h2M87.77 322.21h2M97.77 322.21h2M101.76 322.21h2M107.76 322.21h4M121.75 322.21h2M137.74 322.21h2M145.74 322.21h2M161.73 322.21h2M177.72 322.21h2M195.71 322.21h4M209.7 322.21h2M67.78 323.39h2M75.78 323.39h2M79.78 323.39h6M99.77 323.39h8M109.76 323.39h4M117.76 323.39h2M123.75 323.39h2M151.74 323.39h2M155.73 323.39h2M197.71 323.39h2M213.7 323.39h2M57.79 324.56h4M75.78 324.56h4M115.76 324.56h2M119.75 324.56h6M129.75 324.56h2M145.74 324.56h2M155.73 324.56h6M175.72 324.56h2M179.72 324.56h2M183.72 324.56h4M189.71 324.56h4M43.8 325.73h2M63.79 325.73h4M73.78 325.73h2M91.77 325.73h2M109.76 325.73h2M117.76 325.73h2M133.75 325.73h4M141.74 325.73h6M149.74 325.73h4M161.73 325.73h2M205.71 325.73h4M211.7 325.73h2M39.8 326.91h2M51.79 326.91h2M61.79 326.91h2M65.78 326.91h4M77.78 326.91h2M93.77 326.91h2M121.75 326.91h2M133.75 326.91h2M169.73 326.91h2M173.72 326.91h2M187.72 326.91h2M207.7 326.91h2M211.7 326.91h2M47.79 328.08h2M75.78 328.08h2M85.77 328.08h2M101.76 328.08h2M105.76 328.08h4M129.75 328.08h2M149.74 328.08h4M155.73 328.08h2M179.72 328.08h2M195.71 328.08h2M203.71 328.08h2M207.7 328.08h4M213.7 328.08h2M39.8 329.25h4M57.79 329.25h4M67.78 329.25h4M83.77 329.25h4M91.77 329.25h4M121.75 329.25h2M125.75 329.25h2M139.74 329.25h2M167.73 329.25h4M173.72 329.25h2M179.72 329.25h2M193.71 329.25h2M205.71 329.25h2M213.7 329.25h2M39.8 330.43h2M45.8 330.43h2M61.79 330.43h6M77.78 330.43h4M83.77 330.43h2M115.76 330.43h2M125.75 330.43h2M145.74 330.43h2M153.73 330.43h2M161.73 330.43h2M177.72 330.43h2M187.72 330.43h4M213.7 330.43h2M65.78 331.6h2M69.78 331.6h4M79.78 331.6h2M83.77 331.6h2M95.77 331.6h2M119.75 331.6h2M127.75 331.6h4M133.75 331.6h2M143.74 331.6h4M149.74 331.6h4M161.73 331.6h2M183.72 331.6h4M195.71 331.6h2M209.7 331.6h2M67.78 332.77h4M91.77 332.77h2M95.77 332.77h2M109.76 332.77h2M121.75 332.77h2M125.75 332.77h2M131.75 332.77h2M135.74 332.77h4M141.74 332.77h4M175.72 332.77h2M183.72 332.77h4M191.71 332.77h4M207.7 332.77h2M213.7 332.77h2M47.79 333.95h2M51.79 333.95h2M89.77 333.95h4M107.76 333.95h2M121.75 333.95h4M139.74 333.95h2M175.72 333.95h2M179.72 333.95h6M189.71 333.95h2M199.71 333.95h4M55.79 335.12h2M59.79 335.12h4M83.77 335.12h2M91.77 335.12h2M127.75 335.12h2M143.74 335.12h2M151.74 335.12h2M159.73 335.12h2M165.73 335.12h2M169.73 335.12h2M185.72 335.12h2M203.71 335.12h2M211.7 335.12h2M53.79 336.29h4M61.79 336.29h2M79.78 336.29h2M89.77 336.29h2M99.77 336.29h2M113.76 336.29h2M155.73 336.29h2M161.73 336.29h4M173.72 336.29h2M191.71 336.29h2M203.71 336.29h2M209.7 336.29h2M37.8 337.47h2M49.79 337.47h4M61.79 337.47h2M73.78 337.47h2M81.78 337.47h2M95.77 337.47h2M107.76 337.47h2M115.76 337.47h4M129.75 337.47h2M137.74 337.47h2M145.74 337.47h4M161.73 337.47h2M167.73 337.47h2M179.72 337.47h2M197.71 337.47h2M37.8 338.64h2M55.79 338.64h2M63.79 338.64h2M73.78 338.64h8M89.77 338.64h4M95.77 338.64h2M105.76 338.64h2M109.76 338.64h2M121.75 338.64h2M137.74 338.64h2M157.73 338.64h4M163.73 338.64h2M169.73 338.64h2M181.72 338.64h2M191.71 338.64h2M195.71 338.64h2M201.71 338.64h2M91.77 339.81h2M97.77 339.81h2M101.76 339.81h2M117.76 339.81h2M127.75 339.81h2M133.75 339.81h4M161.73 339.81h2M169.73 339.81h2M175.72 339.81h2M181.72 339.81h4M205.71 339.81h2" stroke="#e8e9fb" stroke-width="1.17" fill="none"/><path d="M77.78 217.79h4M87.77 217.79h6M153.73 217.79h4M161.73 217.79h2M167.73 217.79h2M189.71 217.79h2M209.7 217.79h2M43.8 218.96h2M57.79 218.96h2M67.78 218.96h2M75.78 218.96h4M87.77 218.96h4M103.76 218.96h2M139.74 218.96h6M147.74 218.96h6M157.73 218.96h2M165.73 218.96h4M177.72 218.96h2M37.8 220.13h2M57.79 220.13h2M61.79 220.13h4M69.78 220.13h4M83.77 220.13h2M131.75 220.13h2M139.74 220.13h2M159.73 220.13h4M169.73 220.13h4M177.72 220.13h2M43.8 221.31h2M89.77 221.31h2M99.77 221.31h2M103.76 221.31h2M137.74 221.31h2M147.74 221.31h2M171.72 221.31h2M185.72 221.31h2M211.7 221.31h2M57.79 222.48h2M127.75 222.48h2M135.74 222.48h2M155.73 222.48h2M161.73 222.48h2M169.73 222.48h2M175.72 222.48h2M189.71 222.48h2M193.71 222.48h2M203.71 222.48h2M211.7 222.48h4M63.79 223.65h4M111.76 223.65h6M119.75 223.65h4M127.75 223.65h4M147.74 223.65h2M155.73 223.65h2M161.73 223.65h2M179.72 223.65h6M189.71 223.65h2M197.71 223.65h6M213.7 223.65h2M55.79 224.83h4M79.78 224.83h2M91.77 224.83h2M97.77 224.83h2M119.75 224.83h2M127.75 224.83h2M133.75 224.83h2M143.74 224.83h2M147.74 224.83h2M161.73 224.83h2M171.72 224.83h2M175.72 224.83h2M211.7 224.83h2M37.8 226h2M43.8 226h2M63.79 226h2M67.78 226h4M99.77 226h2M111.76 226h2M119.75 226h2M129.75 226h2M137.74 226h2M145.74 226h9.99M203.71 226h2M209.7 226h4M55.79 227.17h2M75.78 227.17h2M83.77 227.17h4M89.77 227.17h4M99.77 227.17h6M121.75 227.17h2M129.75 227.17h2M145.74 227.17h2M151.74 227.17h2M157.73 227.17h4M181.72 227.17h2M195.71 227.17h2M201.71 227.17h2M43.8 228.35h2M71.78 228.35h2M75.78 228.35h2M95.77 228.35h4M107.76 228.35h4M129.75 228.35h2M135.74 228.35h4M149.74 228.35h2M153.73 228.35h2M161.73 228.35h2M171.72 228.35h2M177.72 228.35h2M183.72 228.35h2M197.71 228.35h2M201.71 228.35h4M39.8 229.52h2M85.77 229.52h2M89.77 229.52h2M93.77 229.52h2M111.76 229.52h2M147.74 229.52h2M151.74 229.52h6M171.72 229.52h2M205.71 229.52h2M209.7 229.52h2M57.79 230.69h2M65.78 230.69h2M81.78 230.69h2M93.77 230.69h2M153.73 230.69h2M163.73 230.69h2M167.73 230.69h2M171.72 230.69h2M175.72 230.69h2M179.72 230.69h2M189.71 230.69h2M199.71 230.69h2M205.71 230.69h2M75.78 231.87h4M127.75 231.87h2M149.74 231.87h2M155.73 231.87h2M177.72 231.87h2M187.72 231.87h4M201.71 231.87h6M43.8 233.04h2M57.79 233.04h2M61.79 233.04h4M95.77 233.04h2M119.75 233.04h6M135.74 233.04h2M143.74 233.04h6M153.73 233.04h2M159.73 233.04h4M173.72 233.04h4M183.72 233.04h2M205.71 233.04h2M79.78 234.21h2M83.77 234.21h2M103.76 234.21h2M127.75 234.21h2M151.74 234.21h2M155.73 234.21h2M165.73 234.21h2M177.72 234.21h4M187.72 234.21h4M197.71 234.21h2M39.8 235.39h2M59.79 235.39h2M63.79 235.39h2M101.76 235.39h2M127.75 235.39h2M147.74 235.39h6M163.73 235.39h2M167.73 235.39h4M175.72 235.39h4M185.72 235.39h4M205.71 235.39h2M213.7 235.39h2M67.78 236.56h2M103.76 236.56h2M129.75 236.56h2M147.74 236.56h2M165.73 236.56h2M173.72 236.56h2M177.72 236.56h2M183.72 236.56h8M67.78 237.73h4M77.78 237.73h2M81.78 237.73h2M87.77 237.73h2M95.77 237.73h2M103.76 237.73h2M127.75 237.73h2M141.74 237.73h4M155.73 237.73h6M171.72 237.73h4M181.72 237.73h6M189.71 237.73h2M193.71 237.73h2M199.71 237.73h2M213.7 237.73h2M77.78 238.91h4M111.76 238.91h2M145.74 238.91h2M167.73 238.91h4M173.72 238.91h2M187.72 238.91h2M193.71 238.91h2M211.7 238.91h2M83.77 240.08h4M93.77 240.08h2M111.76 240.08h2M119.75 240.08h2M123.75 240.08h2M129.75 240.08h2M141.74 240.08h4M149.74 240.08h2M155.73 240.08h2M159.73 240.08h2M167.73 240.08h4M179.72 240.08h2M203.71 240.08h2M209.7 240.08h2M213.7 240.08h2M67.78 241.25h2M75.78 241.25h2M81.78 241.25h2M85.77 241.25h2M121.75 241.25h4M141.74 241.25h4M155.73 241.25h2M169.73 241.25h2M175.72 241.25h2M179.72 241.25h2M57.79 242.43h2M79.78 242.43h2M133.75 242.43h2M159.73 242.43h9.99M171.72 242.43h2M183.72 242.43h2M69.78 243.6h2M83.77 243.6h2M127.75 243.6h2M133.75 243.6h4M143.74 243.6h2M161.73 243.6h4M167.73 243.6h2M175.72 243.6h4M185.72 243.6h2M193.71 243.6h2M209.7 243.6h2M213.7 243.6h2M63.79 244.77h2M67.78 244.77h2M79.78 244.77h2M111.76 244.77h2M129.75 244.77h2M133.75 244.77h4M145.74 244.77h2M153.73 244.77h2M163.73 244.77h6M171.72 244.77h2M189.71 244.77h4M63.79 245.95h2M121.75 245.95h2M129.75 245.95h2M143.74 245.95h4M157.73 245.95h2M165.73 245.95h6M173.72 245.95h4M179.72 245.95h4M203.71 245.95h4M213.7 245.95h2M43.8 247.12h2M57.79 247.12h2M67.78 247.12h2M85.77 247.12h2M89.77 247.12h2M101.76 247.12h4M111.76 247.12h2M141.74 247.12h6M157.73 247.12h2M179.72 247.12h2M187.72 247.12h2M199.71 247.12h2M205.71 247.12h4M211.7 247.12h2M55.79 248.29h4M67.78 248.29h2M91.77 248.29h4M99.77 248.29h2M121.75 248.29h2M125.75 248.29h2M135.74 248.29h4M143.74 248.29h4M151.74 248.29h6M161.73 248.29h8M173.72 248.29h4M179.72 248.29h4M189.71 248.29h2M57.79 249.47h2M79.78 249.47h2M83.77 249.47h2M103.76 249.47h2M121.75 249.47h6M137.74 249.47h4M151.74 249.47h4M165.73 249.47h4M191.71 249.47h2M201.71 249.47h2M211.7 249.47h2M91.77 250.64h2M135.74 250.64h2M139.74 250.64h2M159.73 250.64h4M165.73 250.64h2M169.73 250.64h2M183.72 250.64h2M37.8 251.81h2M41.8 251.81h2M55.79 251.81h2M103.76 251.81h2M151.74 251.81h4M171.72 251.81h4M181.72 251.81h2M191.71 251.81h2M195.71 251.81h2M37.8 252.99h2M75.78 252.99h2M127.75 252.99h4M143.74 252.99h2M147.74 252.99h6M155.73 252.99h2M171.72 252.99h2M177.72 252.99h2M181.72 252.99h2M189.71 252.99h2M69.78 254.16h2M73.78 254.16h2M103.76 254.16h2M131.75 254.16h2M155.73 254.16h4M163.73 254.16h2M167.73 254.16h2M171.72 254.16h2M43.8 255.33h2M61.79 255.33h2M83.77 255.33h2M149.74 255.33h4M161.73 255.33h2M165.73 255.33h2M171.72 255.33h4M191.71 255.33h2M213.7 255.33h2M67.78 256.51h4M79.78 256.51h4M103.76 256.51h2M129.75 256.51h2M145.74 256.51h2M165.73 256.51h4M171.72 256.51h2M187.72 256.51h2M205.71 256.51h2M55.79 257.68h2M61.79 257.68h2M69.78 257.68h2M97.77 257.68h2M127.75 257.68h2M141.74 257.68h2M151.74 257.68h6M171.72 257.68h8M185.72 257.68h2M189.71 257.68h4M207.7 257.68h4M37.8 258.85h2M67.78 258.85h4M121.75 258.85h4M143.74 258.85h2M151.74 258.85h4M163.73 258.85h6M175.72 258.85h2M185.72 258.85h4M197.71 258.85h2M43.8 260.03h2M93.77 260.03h2M119.75 260.03h2M187.72 260.03h4M57.79 261.2h2M151.74 261.2h2M161.73 261.2h2M185.72 261.2h2M191.71 261.2h4M205.71 261.2h2M209.7 261.2h2M37.8 262.37h2M63.79 262.37h2M93.77 262.37h6M103.76 262.37h2M121.75 262.37h2M135.74 262.37h2M139.74 262.37h2M147.74 262.37h2M153.73 262.37h2M159.73 262.37h2M173.72 262.37h2M183.72 262.37h2M189.71 262.37h2M205.71 262.37h2M55.79 263.55h2M79.78 263.55h2M147.74 263.55h4M155.73 263.55h4M167.73 263.55h4M177.72 263.55h2M183.72 263.55h2M189.71 263.55h2M205.71 263.55h2M39.8 264.72h2M43.8 264.72h2M69.78 264.72h2M77.78 264.72h2M81.78 264.72h6M89.77 264.72h2M107.76 264.72h2M147.74 264.72h4M153.73 264.72h4M163.73 264.72h4M171.72 264.72h2M175.72 264.72h2M187.72 264.72h2M205.71 264.72h2M209.7 264.72h2M57.79 265.89h2M79.78 265.89h2M101.76 265.89h2M127.75 265.89h2M131.75 265.89h2M149.74 265.89h2M165.73 265.89h2M171.72 265.89h8M187.72 265.89h4M193.71 265.89h4M37.8 267.07h2M81.78 267.07h2M97.77 267.07h2M127.75 267.07h2M167.73 267.07h2M175.72 267.07h2M191.71 267.07h2M199.71 267.07h4M69.78 268.24h2M111.76 268.24h2M123.75 268.24h4M129.75 268.24h2M135.74 268.24h2M141.74 268.24h4M161.73 268.24h6M177.72 268.24h2M189.71 268.24h2M37.8 269.41h2M111.76 269.41h2M151.74 269.41h2M155.73 269.41h2M159.73 269.41h2M163.73 269.41h4M169.73 269.41h2M181.72 269.41h2M201.71 269.41h2M213.7 269.41h2M57.79 270.59h2M61.79 270.59h2M79.78 270.59h4M119.75 270.59h2M141.74 270.59h2M153.73 270.59h2M163.73 270.59h2M169.73 270.59h4M179.72 270.59h2M185.72 270.59h4M195.71 270.59h2M75.78 271.76h2M79.78 271.76h2M103.76 271.76h2M145.74 271.76h2M155.73 271.76h4M161.73 271.76h2M179.72 271.76h4M189.71 271.76h2M77.78 272.93h2M83.77 272.93h2M93.77 272.93h2M101.76 272.93h2M119.75 272.93h2M133.75 272.93h2M147.74 272.93h2M153.73 272.93h2M157.73 272.93h6M177.72 272.93h4M187.72 272.93h6M203.71 272.93h2M73.78 274.11h2M97.77 274.11h2M123.75 274.11h2M129.75 274.11h2M135.74 274.11h2M147.74 274.11h2M155.73 274.11h4M161.73 274.11h2M171.72 274.11h4M179.72 274.11h2M191.71 274.11h6M53.79 275.28h6M67.78 275.28h2M71.78 275.28h2M79.78 275.28h4M89.77 275.28h2M105.76 275.28h2M109.76 275.28h4M145.74 275.28h8M159.73 275.28h2M167.73 275.28h2M181.72 275.28h4M43.8 276.45h4M55.79 276.45h4M69.78 276.45h2M107.76 276.45h2M153.73 276.45h2M159.73 276.45h2M163.73 276.45h2M169.73 276.45h2M175.72 276.45h2M191.71 276.45h2M203.71 276.45h2M51.79 277.63h2M81.78 277.63h2M121.75 277.63h2M159.73 277.63h4M173.72 277.63h4M187.72 277.63h2M69.78 278.8h2M159.73 278.8h2M175.72 278.8h2M51.79 279.97h2M81.78 279.97h2M89.77 279.97h2M99.77 279.97h2M131.75 279.97h4M153.73 279.97h2M165.73 279.97h2M171.72 279.97h2M175.72 279.97h2M187.72 279.97h2M193.71 279.97h2M201.71 279.97h2M205.71 279.97h2M51.79 281.15h2M85.77 281.15h4M109.76 281.15h2M151.74 281.15h2M157.73 281.15h2M167.73 281.15h2M171.72 281.15h2M179.72 281.15h2M205.71 281.15h2M213.7 281.15h2M37.8 282.32h2M49.79 282.32h2M57.79 282.32h2M81.78 282.32h2M105.76 282.32h2M129.75 282.32h2M139.74 282.32h2M145.74 282.32h2M153.73 282.32h2M157.73 282.32h2M187.72 282.32h2M197.71 282.32h2M201.71 282.32h2M207.7 282.32h2M211.7 282.32h2M73.78 283.49h2M101.76 283.49h2M105.76 283.49h2M115.76 283.49h2M145.74 283.49h2M151.74 283.49h4M173.72 283.49h2M191.71 283.49h2M197.71 283.49h2M201.71 283.49h2M205.71 283.49h2M43.8 284.67h2M75.78 284.67h6M83.77 284.67h2M99.77 284.67h4M105.76 284.67h4M111.76 284.67h2M121.75 284.67h2M137.74 284.67h2M149.74 284.67h2M167.73 284.67h2M171.72 284.67h2M185.72 284.67h4M205.71 284.67h2M213.7 284.67h2M69.78 285.84h2M73.78 285.84h2M77.78 285.84h2M83.77 285.84h2M89.77 285.84h4M99.77 285.84h2M119.75 285.84h2M153.73 285.84h2M165.73 285.84h2M175.72 285.84h2M183.72 285.84h4M189.71 285.84h2M203.71 285.84h4M69.78 287.01h2M99.77 287.01h4M131.75 287.01h2M135.74 287.01h2M161.73 287.01h2M189.71 287.01h2M209.7 287.01h2M69.78 288.19h2M77.78 288.19h2M105.76 288.19h2M111.76 288.19h2M115.76 288.19h2M121.75 288.19h2M127.75 288.19h4M145.74 288.19h2M157.73 288.19h2M161.73 288.19h2M77.78 289.36h2M81.78 289.36h2M89.77 289.36h2M95.77 289.36h2M107.76 289.36h2M121.75 289.36h2M189.71 289.36h2M57.79 290.53h2M83.77 290.53h2M89.77 290.53h2M93.77 290.53h2M117.76 290.53h2M129.75 290.53h2M147.74 290.53h2M161.73 290.53h2M189.71 290.53h2M193.71 290.53h2M201.71 290.53h2M213.7 290.53h2M51.79 291.71h2M69.78 291.71h2M81.78 291.71h2M121.75 291.71h2M127.75 291.71h2M131.75 291.71h2M159.73 291.71h2M167.73 291.71h2M197.71 291.71h2M213.7 291.71h2M79.78 292.88h4M109.76 292.88h2M131.75 292.88h2M147.74 292.88h2M151.74 292.88h2M187.72 292.88h8M199.71 292.88h2M43.8 294.05h2M89.77 294.05h2M121.75 294.05h2M127.75 294.05h2M131.75 294.05h2M135.74 294.05h2M155.73 294.05h2M171.72 294.05h2M203.71 294.05h2M65.78 295.23h2M93.77 295.23h2M121.75 295.23h2M131.75 295.23h2M139.74 295.23h2M147.74 295.23h2M155.73 295.23h2M167.73 295.23h2M175.72 295.23h2M179.72 295.23h2M193.71 295.23h2M203.71 295.23h2M57.79 296.4h2M79.78 296.4h2M87.77 296.4h2M91.77 296.4h4M135.74 296.4h2M153.73 296.4h2M175.72 296.4h2M185.72 296.4h2M191.71 296.4h2M197.71 296.4h2M205.71 296.4h2M51.79 297.57h2M57.79 297.57h2M69.78 297.57h2M81.78 297.57h4M89.77 297.57h4M103.76 297.57h2M137.74 297.57h6M149.74 297.57h2M155.73 297.57h2M163.73 297.57h2M179.72 297.57h2M197.71 297.57h2M201.71 297.57h2M205.71 297.57h2M47.79 298.75h2M57.79 298.75h2M79.78 298.75h2M87.77 298.75h4M101.76 298.75h4M153.73 298.75h2M175.72 298.75h2M179.72 298.75h2M183.72 298.75h4M189.71 298.75h2M203.71 298.75h2M45.8 299.92h2M51.79 299.92h2M55.79 299.92h4M81.78 299.92h2M89.77 299.92h2M115.76 299.92h2M129.75 299.92h2M135.74 299.92h2M149.74 299.92h2M189.71 299.92h4M197.71 299.92h2M53.79 301.09h4M89.77 301.09h2M105.76 301.09h2M133.75 301.09h2M155.73 301.09h2M163.73 301.09h2M185.72 301.09h2M191.71 301.09h2M59.79 302.27h2M69.78 302.27h4M119.75 302.27h2M135.74 302.27h2M139.74 302.27h4M153.73 302.27h2M157.73 302.27h2M167.73 302.27h2M189.71 302.27h2M197.71 302.27h2M213.7 302.27h2M43.8 303.44h2M55.79 303.44h4M61.79 303.44h2M117.76 303.44h4M123.75 303.44h2M153.73 303.44h2M159.73 303.44h2M163.73 303.44h2M197.71 303.44h2M39.8 304.61h2M69.78 304.61h4M95.77 304.61h2M127.75 304.61h2M159.73 304.61h4M167.73 304.61h4M181.72 304.61h2M189.71 304.61h2M37.8 305.79h2M57.79 305.79h2M61.79 305.79h2M67.78 305.79h2M77.78 305.79h4M83.77 305.79h2M123.75 305.79h2M137.74 305.79h2M153.73 305.79h2M163.73 305.79h2M167.73 305.79h4M185.72 305.79h4M191.71 305.79h4M201.71 305.79h6M37.8 306.96h2M45.8 306.96h2M79.78 306.96h2M95.77 306.96h2M103.76 306.96h4M111.76 306.96h2M119.75 306.96h2M123.75 306.96h2M137.74 306.96h2M149.74 306.96h2M177.72 306.96h2M185.72 306.96h4M195.71 306.96h2M205.71 306.96h2M51.79 308.13h2M77.78 308.13h2M83.77 308.13h2M87.77 308.13h2M103.76 308.13h2M109.76 308.13h2M113.76 308.13h2M117.76 308.13h2M127.75 308.13h4M139.74 308.13h4M155.73 308.13h2M159.73 308.13h4M165.73 308.13h2M173.72 308.13h2M183.72 308.13h2M189.71 308.13h2M209.7 308.13h4M53.79 309.31h4M63.79 309.31h2M67.78 309.31h2M109.76 309.31h2M121.75 309.31h2M129.75 309.31h2M139.74 309.31h2M159.73 309.31h2M181.72 309.31h2M189.71 309.31h2M205.71 309.31h2M211.7 309.31h2M49.79 310.48h2M53.79 310.48h2M69.78 310.48h2M113.76 310.48h2M121.75 310.48h2M145.74 310.48h2M157.73 310.48h2M163.73 310.48h2M169.73 310.48h2M173.72 310.48h2M193.71 310.48h2M203.71 310.48h4M213.7 310.48h2M53.79 311.65h2M59.79 311.65h2M73.78 311.65h6M93.77 311.65h2M97.77 311.65h2M111.76 311.65h8M121.75 311.65h2M127.75 311.65h2M133.75 311.65h4M143.74 311.65h2M149.74 311.65h2M153.73 311.65h2M159.73 311.65h2M171.72 311.65h6M181.72 311.65h6M205.71 311.65h2M39.8 312.83h2M79.78 312.83h2M97.77 312.83h2M109.76 312.83h2M127.75 312.83h2M137.74 312.83h2M149.74 312.83h2M167.73 312.83h2M203.71 312.83h4M209.7 312.83h2M53.79 314h2M77.78 314h2M81.78 314h2M91.77 314h2M103.76 314h2M137.74 314h2M153.73 314h2M181.72 314h2M189.71 314h2M201.71 314h2M39.8 315.17h2M55.79 315.17h2M73.78 315.17h2M89.77 315.17h4M135.74 315.17h2M145.74 315.17h4M53.79 316.35h2M57.79 316.35h4M67.78 316.35h2M163.73 316.35h2M179.72 316.35h2M185.72 316.35h2M195.71 316.35h4M43.8 317.52h4M55.79 317.52h4M67.78 317.52h2M95.77 317.52h2M121.75 317.52h4M133.75 317.52h2M171.72 317.52h2M183.72 317.52h2M189.71 317.52h4M213.7 317.52h2M39.8 318.69h2M49.79 318.69h4M59.79 318.69h2M67.78 318.69h2M105.76 318.69h4M117.76 318.69h2M153.73 318.69h2M163.73 318.69h4M173.72 318.69h2M179.72 318.69h2M193.71 318.69h2M59.79 319.87h2M63.79 319.87h2M69.78 319.87h2M75.78 319.87h4M87.77 319.87h2M107.76 319.87h4M119.75 319.87h2M127.75 319.87h2M135.74 319.87h2M145.74 319.87h4M155.73 319.87h4M179.72 319.87h2M203.71 319.87h2M43.8 321.04h2M53.79 321.04h2M115.76 321.04h2M121.75 321.04h2M127.75 321.04h2M151.74 321.04h2M155.73 321.04h2M167.73 321.04h2M67.78 322.21h6M77.78 322.21h4M83.77 322.21h2M105.76 322.21h2M135.74 322.21h2M155.73 322.21h2M171.72 322.21h2M181.72 322.21h2M191.71 322.21h4M53.79 323.39h2M85.77 323.39h2M127.75 323.39h2M153.73 323.39h2M157.73 323.39h2M163.73 323.39h4M169.73 323.39h4M191.71 323.39h6M205.71 323.39h2M67.78 324.56h2M127.75 324.56h2M141.74 324.56h2M41.8 325.73h2M61.79 325.73h2M67.78 325.73h2M87.77 325.73h2M123.75 325.73h2M127.75 325.73h2M137.74 325.73h2M153.73 325.73h2M177.72 325.73h2M183.72 325.73h2M43.8 326.91h2M63.79 326.91h2M79.78 326.91h2M89.77 326.91h4M95.77 326.91h4M105.76 326.91h4M113.76 326.91h8M123.75 326.91h2M127.75 326.91h4M139.74 326.91h2M145.74 326.91h4M177.72 326.91h2M189.71 326.91h4M209.7 326.91h2M49.79 328.08h4M83.77 328.08h2M97.77 328.08h2M103.76 328.08h2M109.76 328.08h2M135.74 328.08h2M143.74 328.08h2M147.74 328.08h2M157.73 328.08h2M161.73 328.08h2M169.73 328.08h2M175.72 328.08h2M193.71 328.08h2M211.7 328.08h2M45.8 329.25h2M49.79 329.25h2M63.79 329.25h2M97.77 329.25h2M115.76 329.25h6M131.75 329.25h4M145.74 329.25h2M151.74 329.25h2M159.73 329.25h2M195.71 329.25h2M49.79 330.43h2M67.78 330.43h4M103.76 330.43h2M117.76 330.43h6M127.75 330.43h2M137.74 330.43h2M151.74 330.43h2M157.73 330.43h2M185.72 330.43h2M75.78 331.6h4M81.78 331.6h2M85.77 331.6h6M99.77 331.6h2M123.75 331.6h2M135.74 331.6h2M141.74 331.6h2M153.73 331.6h2M167.73 331.6h2M171.72 331.6h2M189.71 331.6h2M193.71 331.6h2M53.79 332.77h4M89.77 332.77h2M93.77 332.77h2M103.76 332.77h6M117.76 332.77h2M123.75 332.77h2M127.75 332.77h4M133.75 332.77h2M145.74 332.77h4M49.79 333.95h2M69.78 333.95h2M75.78 333.95h6M113.76 333.95h4M153.73 333.95h4M177.72 333.95h2M191.71 333.95h2M213.7 333.95h2M51.79 335.12h4M63.79 335.12h2M95.77 335.12h2M103.76 335.12h2M145.74 335.12h4M153.73 335.12h2M177.72 335.12h4M191.71 335.12h2M205.71 335.12h2M43.8 336.29h4M57.79 336.29h2M67.78 336.29h4M83.77 336.29h2M119.75 336.29h2M127.75 336.29h2M151.74 336.29h4M181.72 336.29h2M187.72 336.29h2M197.71 336.29h6M55.79 337.47h2M63.79 337.47h2M67.78 337.47h2M109.76 337.47h2M119.75 337.47h2M135.74 337.47h2M143.74 337.47h2M155.73 337.47h2M159.73 337.47h2M171.72 337.47h2M177.72 337.47h2M187.72 337.47h2M209.7 337.47h2M53.79 338.64h2M107.76 338.64h2M111.76 338.64h2M123.75 338.64h2M131.75 338.64h2M141.74 338.64h2M161.73 338.64h2M187.72 338.64h4M203.71 338.64h4M211.7 338.64h2M51.79 339.81h2M71.78 339.81h2M81.78 339.81h6M99.77 339.81h2M119.75 339.81h2M139.74 339.81h2M149.74 339.81h4M179.72 339.81h2M185.72 339.81h6" stroke="#d2d5f9" stroke-width="1.17" fill="none"/><path d="M85.77 217.79h2M93.77 217.79h2M129.75 217.79h2M69.78 218.96h2M145.74 218.96h2M153.73 218.96h2M189.71 218.96h6M133.75 220.13h2M137.74 220.13h2M149.74 220.13h2M153.73 220.13h2M163.73 220.13h2M213.7 220.13h2M97.77 221.31h2M107.76 221.31h4M121.75 221.31h2M159.73 221.31h4M187.72 221.31h2M195.71 221.31h2M43.8 222.48h2M163.73 222.48h6M173.72 222.48h2M179.72 222.48h2M191.71 222.48h2M205.71 222.48h2M75.78 223.65h4M149.74 223.65h2M153.73 223.65h2M159.73 223.65h2M171.72 223.65h2M177.72 223.65h2M187.72 223.65h2M37.8 224.83h2M93.77 224.83h2M99.77 224.83h6M121.75 224.83h2M149.74 224.83h2M177.72 224.83h2M203.71 224.83h4M213.7 224.83h2M121.75 226h2M127.75 226h2M135.74 226h2M139.74 226h6M155.73 226h2M161.73 226h6M177.72 226h2M185.72 226h2M205.71 226h2M213.7 226h2M93.77 227.17h2M111.76 227.17h2M127.75 227.17h2M141.74 227.17h4M153.73 227.17h4M161.73 227.17h4M173.72 227.17h4M179.72 227.17h2M183.72 227.17h2M209.7 227.17h2M139.74 228.35h8M151.74 228.35h2M205.71 228.35h2M41.8 229.52h2M67.78 229.52h4M95.77 229.52h2M99.77 229.52h2M127.75 229.52h4M149.74 229.52h2M177.72 229.52h2M183.72 229.52h2M193.71 229.52h2M39.8 230.69h6M53.79 230.69h4M67.78 230.69h2M111.76 230.69h2M159.73 230.69h4M177.72 230.69h2M181.72 230.69h2M185.72 230.69h2M91.77 233.04h2M127.75 233.04h2M139.74 233.04h2M149.74 233.04h4M171.72 233.04h2M181.72 233.04h2M185.72 233.04h2M143.74 234.21h2M153.73 234.21h2M167.73 234.21h2M185.72 234.21h2M43.8 235.39h2M137.74 235.39h8M159.73 235.39h4M173.72 235.39h2M181.72 235.39h4M191.71 235.39h2M197.71 235.39h8M107.76 236.56h4M145.74 236.56h2M181.72 236.56h2M83.77 237.73h4M89.77 237.73h6M129.75 237.73h2M145.74 237.73h4M151.74 237.73h2M161.73 237.73h4M175.72 237.73h2M179.72 237.73h2M201.71 237.73h4M127.75 238.91h4M177.72 238.91h4M183.72 238.91h4M189.71 238.91h4M55.79 240.08h2M81.78 240.08h2M121.75 240.08h2M127.75 240.08h2M145.74 240.08h2M163.73 240.08h4M177.72 240.08h2M181.72 240.08h4M205.71 240.08h2M83.77 241.25h2M97.77 241.25h2M103.76 241.25h2M145.74 241.25h2M151.74 241.25h2M163.73 241.25h4M119.75 242.43h2M141.74 242.43h2M145.74 242.43h2M155.73 242.43h2M185.72 242.43h2M79.78 243.6h2M141.74 243.6h2M171.72 243.6h2M127.75 244.77h2M159.73 244.77h4M43.8 245.95h2M107.76 245.95h2M159.73 245.95h2M163.73 245.95h2M171.72 245.95h2M189.71 245.95h2M207.7 245.95h2M211.7 245.95h2M83.77 247.12h2M87.77 247.12h2M149.74 247.12h4M167.73 247.12h2M185.72 247.12h2M37.8 248.29h4M69.78 248.29h2M87.77 248.29h2M101.76 248.29h4M127.75 248.29h2M139.74 248.29h4M171.72 248.29h2M177.72 248.29h2M213.7 248.29h2M55.79 249.47h2M73.78 249.47h4M81.78 249.47h2M135.74 249.47h2M155.73 249.47h4M163.73 249.47h2M181.72 249.47h6M189.71 249.47h2M93.77 250.64h2M141.74 250.64h2M167.73 250.64h2M177.72 250.64h6M39.8 251.81h2M43.8 251.81h2M121.75 251.81h2M107.76 252.99h2M145.74 252.99h2M159.73 252.99h4M167.73 252.99h2M213.7 252.99h2M127.75 254.16h4M147.74 254.16h2M153.73 254.16h2M159.73 254.16h4M177.72 254.16h2M63.79 255.33h2M193.71 255.33h4M43.8 256.51h2M93.77 256.51h2M99.77 256.51h4M179.72 256.51h2M185.72 256.51h2M43.8 257.68h2M39.8 258.85h2M139.74 258.85h4M145.74 258.85h6M155.73 258.85h8M171.72 258.85h2M177.72 258.85h2M189.71 258.85h2M181.72 260.03h2M205.71 260.03h2M55.79 261.2h2M93.77 261.2h4M127.75 262.37h2M133.75 262.37h2M149.74 262.37h4M161.73 262.37h6M169.73 262.37h2M175.72 262.37h2M185.72 262.37h4M209.7 262.37h2M75.78 263.55h4M127.75 263.55h2M145.74 263.55h2M171.72 263.55h2M185.72 263.55h4M55.79 264.72h2M105.76 264.72h2M151.74 264.72h2M177.72 264.72h2M183.72 264.72h2M195.71 264.72h2M37.8 265.89h4M77.78 265.89h2M129.75 265.89h2M141.74 265.89h2M167.73 265.89h2M181.72 265.89h6M83.77 267.07h2M173.72 267.07h2M177.72 267.07h4M187.72 267.07h4M213.7 267.07h2M55.79 268.24h2M89.77 269.41h2M97.77 269.41h4M105.76 269.41h2M153.73 269.41h2M161.73 269.41h2M173.72 269.41h6M203.71 269.41h4M37.8 270.59h4M123.75 270.59h2M127.75 270.59h6M157.73 270.59h2M161.73 270.59h2M167.73 270.59h2M177.72 270.59h2M181.72 270.59h4M209.7 270.59h2M77.78 271.76h2M159.73 271.76h2M177.72 271.76h2M79.78 272.93h2M107.76 272.93h2M129.75 272.93h4M155.73 272.93h2M193.71 272.93h4M205.71 272.93h2M67.78 274.11h2M71.78 274.11h2M121.75 274.11h2M127.75 274.11h2M149.74 274.11h6M159.73 274.11h2M163.73 274.11h2M175.72 274.11h4M69.78 275.28h2M153.73 275.28h2M157.73 275.28h2M171.72 275.28h2M51.79 276.45h2M91.77 276.45h2M95.77 276.45h2M105.76 276.45h2M161.73 276.45h2M165.73 276.45h2M185.72 276.45h6M213.7 276.45h2M127.75 277.63h4M51.79 278.8h2M57.79 278.8h2M81.78 278.8h2M145.74 278.8h2M149.74 278.8h2M161.73 278.8h2M177.72 278.8h2M203.71 278.8h2M91.77 279.97h4M129.75 279.97h2M135.74 279.97h2M145.74 279.97h2M149.74 279.97h2M173.72 279.97h2M189.71 279.97h4M213.7 279.97h2M121.75 281.15h2M127.75 281.15h4M135.74 281.15h2M145.74 281.15h4M155.73 281.15h2M177.72 281.15h2M53.79 282.32h4M87.77 282.32h4M115.76 282.32h4M121.75 282.32h2M141.74 282.32h2M165.73 282.32h2M169.73 282.32h2M173.72 282.32h2M191.71 282.32h2M205.71 282.32h2M209.7 282.32h2M127.75 283.49h4M139.74 283.49h4M147.74 283.49h4M161.73 283.49h2M167.73 283.49h2M171.72 283.49h2M179.72 283.49h2M51.79 284.67h2M89.77 284.67h2M109.76 284.67h2M131.75 284.67h2M135.74 284.67h2M145.74 284.67h2M159.73 284.67h2M165.73 284.67h2M179.72 284.67h2M189.71 284.67h4M203.71 284.67h2M81.78 285.84h2M93.77 285.84h2M117.76 285.84h2M171.72 285.84h2M177.72 285.84h2M213.7 285.84h2M121.75 287.01h2M159.73 287.01h2M167.73 287.01h2M191.71 287.01h2M201.71 287.01h2M205.71 287.01h2M93.77 288.19h2M109.76 288.19h2M117.76 288.19h2M147.74 288.19h4M177.72 288.19h2M75.78 289.36h2M105.76 289.36h2M151.74 289.36h2M171.72 289.36h2M175.72 289.36h2M191.71 289.36h2M69.78 290.53h2M121.75 290.53h2M167.73 290.53h2M177.72 290.53h2M205.71 290.53h2M129.75 291.71h2M151.74 291.71h2M177.72 291.71h2M189.71 291.71h2M51.79 292.88h2M63.79 292.88h4M77.78 292.88h2M127.75 292.88h2M149.74 292.88h2M153.73 292.88h2M157.73 292.88h2M161.73 292.88h2M177.72 292.88h2M195.71 292.88h2M201.71 292.88h2M51.79 294.05h2M147.74 294.05h2M153.73 294.05h2M157.73 294.05h2M167.73 294.05h2M179.72 294.05h2M187.72 294.05h4M83.77 295.23h2M89.77 295.23h2M101.76 295.23h2M107.76 295.23h2M159.73 295.23h4M189.71 295.23h2M55.79 296.4h2M63.79 296.4h2M77.78 296.4h2M173.72 296.4h2M187.72 296.4h2M213.7 296.4h2M93.77 297.57h2M105.76 297.57h4M121.75 297.57h2M147.74 297.57h2M153.73 297.57h2M157.73 297.57h2M167.73 297.57h2M171.72 297.57h2M175.72 297.57h2M213.7 297.57h2M49.79 298.75h2M69.78 298.75h2M83.77 298.75h2M127.75 298.75h4M145.74 298.75h2M149.74 298.75h2M161.73 298.75h2M167.73 298.75h2M191.71 298.75h2M69.78 299.92h2M147.74 299.92h2M153.73 299.92h2M159.73 299.92h2M167.73 299.92h2M69.78 301.09h2M79.78 301.09h2M135.74 301.09h2M167.73 301.09h2M189.71 301.09h2M213.7 301.09h2M115.76 302.27h2M127.75 302.27h2M163.73 302.27h2M169.73 302.27h4M187.72 302.27h2M199.71 302.27h2M63.79 303.44h2M93.77 303.44h2M97.77 303.44h2M113.76 303.44h4M121.75 303.44h2M129.75 303.44h2M151.74 303.44h2M161.73 303.44h2M203.71 303.44h4M37.8 304.61h2M103.76 304.61h2M139.74 304.61h2M151.74 304.61h2M155.73 304.61h4M171.72 304.61h2M185.72 304.61h4M203.71 304.61h2M213.7 304.61h2M39.8 305.79h2M59.79 305.79h2M69.78 305.79h2M81.78 305.79h2M85.77 305.79h2M159.73 305.79h4M171.72 305.79h2M183.72 305.79h2M189.71 305.79h2M151.74 306.96h2M169.73 306.96h2M197.71 306.96h2M203.71 306.96h2M53.79 308.13h4M81.78 308.13h2M111.76 308.13h2M115.76 308.13h2M119.75 308.13h2M171.72 308.13h2M177.72 308.13h2M185.72 308.13h4M213.7 308.13h2M127.75 309.31h2M183.72 309.31h4M209.7 309.31h2M137.74 310.48h2M153.73 310.48h2M161.73 310.48h2M175.72 310.48h2M185.72 310.48h2M57.79 311.65h2M89.77 311.65h4M105.76 311.65h6M131.75 311.65h2M145.74 311.65h2M151.74 311.65h2M209.7 311.65h2M37.8 312.83h2M129.75 312.83h2M151.74 312.83h4M213.7 312.83h2M43.8 314h2M51.79 314h2M69.78 314h2M79.78 314h2M161.73 314h2M187.72 314h2M37.8 315.17h2M63.79 315.17h2M111.76 315.17h2M175.72 315.17h2M129.75 316.35h2M137.74 316.35h2M161.73 316.35h2M177.72 316.35h2M77.78 317.52h2M91.77 317.52h4M127.75 317.52h2M187.72 317.52h2M37.8 318.69h2M69.78 318.69h2M77.78 318.69h2M81.78 318.69h2M95.77 318.69h6M111.76 318.69h2M119.75 318.69h4M127.75 318.69h2M131.75 318.69h6M157.73 318.69h4M167.73 318.69h2M175.72 318.69h2M79.78 319.87h2M93.77 319.87h4M129.75 319.87h2M161.73 319.87h2M189.71 319.87h2M213.7 319.87h2M57.79 321.04h2M93.77 321.04h2M105.76 321.04h2M119.75 321.04h2M129.75 321.04h2M145.74 321.04h2M175.72 321.04h4M191.71 321.04h2M81.78 322.21h2M85.77 322.21h2M103.76 322.21h2M147.74 322.21h2M163.73 322.21h2M183.72 322.21h8M119.75 323.39h4M159.73 323.39h4M187.72 323.39h4M137.74 324.56h2M69.78 325.73h2M77.78 325.73h2M89.77 325.73h2M37.8 326.91h2M73.78 326.91h2M81.78 326.91h4M87.77 326.91h2M109.76 326.91h4M135.74 326.91h2M153.73 326.91h2M159.73 326.91h2M163.73 326.91h2M171.72 326.91h2M179.72 326.91h4M203.71 326.91h2M213.7 326.91h2M87.77 328.08h2M95.77 328.08h2M145.74 328.08h2M163.73 328.08h2M167.73 328.08h2M173.72 328.08h2M177.72 328.08h2M181.72 328.08h4M187.72 328.08h2M191.71 328.08h2M43.8 329.25h2M47.79 329.25h2M123.75 329.25h2M135.74 329.25h2M149.74 329.25h2M171.72 329.25h2M175.72 329.25h2M185.72 329.25h4M191.71 329.25h2M101.76 330.43h2M111.76 330.43h2M123.75 330.43h2M155.73 330.43h2M167.73 330.43h2M179.72 330.43h2M57.79 331.6h2M67.78 331.6h2M91.77 331.6h4M97.77 331.6h2M121.75 331.6h2M205.71 331.6h4M213.7 331.6h2M181.72 332.77h2M209.7 332.77h2M37.8 333.95h2M71.78 333.95h4M111.76 333.95h2M145.74 333.95h8M93.77 335.12h2M129.75 335.12h4M141.74 335.12h2M149.74 335.12h2M171.72 335.12h6M207.7 335.12h2M129.75 336.29h2M183.72 336.29h2M189.71 336.29h2M71.78 337.47h2M141.74 337.47h2M149.74 337.47h2M153.73 337.47h2M185.72 337.47h2M189.71 337.47h4M211.7 337.47h2M93.77 338.64h2M155.73 338.64h2M177.72 338.64h2M183.72 338.64h4M213.7 338.64h2M45.8 339.81h2M129.75 339.81h4M137.74 339.81h2M147.74 339.81h2M163.73 339.81h2" stroke="#bdc1f7" stroke-width="1.17" fill="none"/><path d="M105.76 217.79h6M127.75 217.79h2M107.76 218.96h4M119.75 218.96h4M155.73 218.96h2M127.75 220.13h4M135.74 220.13h2M151.74 220.13h2M165.73 220.13h4M119.75 221.31h2M155.73 221.31h4M189.71 221.31h6M209.7 221.31h2M171.72 222.48h2M177.72 222.48h2M151.74 223.65h2M185.72 223.65h2M145.74 224.83h2M85.77 226h2M89.77 226h2M167.73 226h2M165.73 227.17h2M185.72 227.17h2M191.71 227.17h2M73.78 228.35h2M105.76 228.35h2M43.8 229.52h2M97.77 229.52h2M185.72 229.52h6M95.77 230.69h4M127.75 230.69h2M149.74 230.69h4M183.72 230.69h2M105.76 231.87h4M157.73 231.87h4M141.74 233.04h2M177.72 233.04h4M187.72 233.04h2M81.78 234.21h2M145.74 234.21h2M181.72 234.21h4M61.79 235.39h2M75.78 235.39h4M135.74 235.39h2M145.74 235.39h2M171.72 235.39h2M189.71 235.39h2M167.73 236.56h6M149.74 237.73h2M177.72 237.73h2M191.71 237.73h2M205.71 237.73h2M159.73 238.91h4M181.72 238.91h2M213.7 238.91h2M151.74 240.08h4M161.73 240.08h2M175.72 240.08h2M185.72 240.08h6M99.77 241.25h4M107.76 241.25h4M153.73 241.25h2M159.73 241.25h2M167.73 241.25h2M171.72 241.25h2M177.72 241.25h2M135.74 242.43h2M143.74 242.43h2M157.73 242.43h2M81.78 243.6h2M187.72 243.6h2M105.76 245.95h2M109.76 245.95h2M141.74 245.95h2M161.73 245.95h2M177.72 245.95h2M79.78 247.12h2M165.73 247.12h2M173.72 247.12h4M209.7 247.12h2M89.77 248.29h2M123.75 248.29h2M159.73 249.47h2M203.71 249.47h2M207.7 249.47h4M107.76 251.81h2M119.75 251.81h2M105.76 252.99h2M151.74 254.16h2M65.78 255.33h4M167.73 255.33h2M97.77 256.51h2M163.73 256.51h2M177.72 256.51h2M181.72 256.51h4M191.71 258.85h2M195.71 258.85h2M105.76 260.03h2M183.72 260.03h2M105.76 261.2h2M163.73 261.2h2M177.72 261.2h4M183.72 261.2h2M131.75 262.37h2M171.72 262.37h2M179.72 262.37h4M211.7 262.37h4M57.79 264.72h2M109.76 264.72h2M181.72 264.72h2M189.71 264.72h4M105.76 265.89h4M139.74 265.89h2M171.72 267.07h2M181.72 267.07h6M127.75 268.24h2M167.73 268.24h2M107.76 269.41h2M167.73 269.41h2M171.72 269.41h2M121.75 270.59h2M133.75 270.59h4M155.73 270.59h2M159.73 270.59h2M189.71 270.59h6M81.78 272.93h2M105.76 272.93h2M185.72 272.93h2M69.78 274.11h2M107.76 274.11h2M189.71 274.11h2M155.73 275.28h2M89.77 276.45h2M93.77 276.45h2M109.76 276.45h2M171.72 276.45h4M177.72 276.45h2M203.71 277.63h2M173.72 278.8h2M213.7 278.8h2M127.75 279.97h2M147.74 279.97h2M159.73 279.97h4M167.73 279.97h2M177.72 279.97h2M203.71 279.97h2M69.78 281.15h2M153.73 281.15h2M187.72 281.15h4M203.71 281.15h2M127.75 282.32h2M161.73 282.32h2M171.72 282.32h2M177.72 282.32h2M189.71 282.32h2M203.71 282.32h2M81.78 284.67h2M127.75 284.67h2M147.74 284.67h2M163.73 284.67h2M175.72 284.67h2M115.76 285.84h2M121.75 285.84h2M129.75 285.84h2M145.74 285.84h4M127.75 287.01h4M179.72 287.01h2M81.78 288.19h2M159.73 288.19h2M187.72 288.19h4M203.71 288.19h2M73.78 289.36h2M129.75 289.36h2M177.72 289.36h2M81.78 290.53h2M159.73 290.53h2M191.71 290.53h2M69.78 292.88h2M167.73 292.88h2M171.72 292.88h4M197.71 292.88h2M213.7 292.88h2M81.78 294.05h2M109.76 294.05h2M129.75 294.05h2M161.73 294.05h2M99.77 295.23h2M105.76 295.23h2M127.75 295.23h2M153.73 295.23h2M171.72 295.23h2M191.71 295.23h2M89.77 296.4h2M105.76 296.4h6M121.75 296.4h2M127.75 296.4h2M177.72 296.4h2M189.71 296.4h2M203.71 296.4h2M109.76 297.57h2M127.75 297.57h2M131.75 297.57h2M135.74 297.57h2M161.73 297.57h2M173.72 297.57h2M191.71 297.57h2M203.71 297.57h2M51.79 298.75h2M121.75 298.75h2M177.72 298.75h2M161.73 299.92h2M171.72 299.92h2M175.72 299.92h2M57.79 301.09h2M67.78 301.09h2M187.72 301.09h2M57.79 302.27h2M117.76 302.27h2M159.73 302.27h2M153.73 304.61h2M205.71 304.61h2M121.75 305.79h2M181.72 305.79h2M121.75 306.96h2M171.72 306.96h2M213.7 306.96h2M137.74 308.13h2M145.74 308.13h4M151.74 308.13h2M163.73 308.13h2M69.78 309.31h2M133.75 309.31h2M157.73 309.31h2M43.8 310.48h2M85.77 310.48h2M159.73 310.48h2M177.72 310.48h2M43.8 311.65h2M119.75 311.65h2M129.75 311.65h2M157.73 314h4M179.72 314h2M185.72 314h2M75.78 315.17h2M137.74 315.17h2M213.7 315.17h2M147.74 317.52h6M161.73 317.52h2M57.79 318.69h2M79.78 318.69h2M93.77 318.69h2M101.76 318.69h2M109.76 318.69h2M137.74 318.69h2M145.74 318.69h4M177.72 318.69h2M189.71 318.69h4M213.7 318.69h2M55.79 319.87h4M67.78 319.87h2M165.73 319.87h2M55.79 321.04h2M95.77 321.04h2M99.77 321.04h2M137.74 321.04h2M153.73 321.04h2M205.71 321.04h2M127.75 322.21h4M151.74 322.21h4M165.73 322.21h4M167.73 323.39h2M75.78 325.73h2M69.78 326.91h2M85.77 326.91h2M149.74 326.91h2M161.73 326.91h2M165.73 326.91h4M183.72 326.91h4M45.8 328.08h2M137.74 328.08h2M171.72 328.08h2M185.72 328.08h2M189.71 328.08h2M205.71 328.08h2M127.75 329.25h2M137.74 329.25h2M147.74 329.25h2M161.73 329.25h2M183.72 330.43h2M203.71 330.43h4M115.76 332.77h2M171.72 332.77h4M109.76 333.95h2M75.78 335.12h2M133.75 335.12h2M137.74 335.12h2M167.73 335.12h2M85.77 336.29h2M117.76 336.29h2M181.72 337.47h2M213.7 337.47h2M127.75 338.64h2M143.74 338.64h2M147.74 338.64h4M207.7 338.64h2M43.8 339.81h2M141.74 339.81h4M165.73 339.81h4M177.72 339.81h2" stroke="#a8aef4" stroke-width="1.17" fill="none"/><path d="M47.79 218.96h2M47.79 229.52h2M53.79 234.21h2M113.76 234.21h2M45.8 236.56h2M51.79 236.56h2M117.76 236.56h2M115.76 243.6h4M117.76 244.77h2M117.76 247.12h2M113.76 249.47h2M113.76 250.64h2M47.79 254.16h2M115.76 255.33h2M47.79 258.85h2M47.79 261.2h2M113.76 263.55h4M45.8 265.89h2M49.79 265.89h2M117.76 268.24h2M45.8 272.93h2M59.79 277.63h2M59.79 295.23h2M39.8 298.75h2" stroke="#fff258" stroke-width="1.17" fill="none"/><path d="M105.76 218.96h2M105.76 220.13h4M107.76 222.48h2M109.76 223.65h2M107.76 224.83h2M105.76 227.17h2M167.73 227.17h2M171.72 227.17h2M109.76 231.87h2M107.76 234.21h2M105.76 235.39h2M105.76 236.56h2M105.76 238.91h2M107.76 240.08h2M109.76 242.43h2M109.76 243.6h2M105.76 244.77h2M105.76 247.12h2M107.76 249.47h4M127.75 249.47h2M105.76 250.64h2M105.76 251.81h2M177.72 251.81h2M107.76 254.16h4M107.76 255.33h2M105.76 256.51h2M109.76 257.68h2M109.76 260.03h2M109.76 261.2h2M165.73 261.2h2M181.72 261.2h2M177.72 262.37h2M109.76 263.55h2M105.76 267.07h2M109.76 267.07h2M109.76 269.41h2M109.76 270.59h2M107.76 271.76h4M109.76 272.93h2M105.76 274.11h2M183.72 274.11h6M127.75 276.45h2M177.72 283.49h2M127.75 289.36h2M167.73 289.36h2M173.72 289.36h2M105.76 294.05h2M129.75 297.57h2M147.74 298.75h2M173.72 298.75h2M177.72 299.92h2M135.74 309.31h4M177.72 314h2M185.72 317.52h2M155.73 318.69h2M137.74 319.87h2M149.74 322.21h2M137.74 326.91h2M43.8 328.08h2M177.72 329.25h2M137.74 333.95h2M151.74 338.64h2M171.72 338.64h2" stroke="#7d86f0" stroke-width="1.17" fill="none"/><path d="M109.76 220.13h2M105.76 221.31h2M109.76 222.48h2M105.76 224.83h2M105.76 226h2M109.76 226h2M109.76 227.17h2M105.76 229.52h6M105.76 230.69h6M105.76 233.04h2M109.76 233.04h2M105.76 234.21h2M107.76 235.39h4M105.76 237.73h2M109.76 238.91h2M109.76 240.08h2M105.76 241.25h2M189.71 243.6h2M109.76 244.77h2M109.76 247.12h2M105.76 248.29h2M105.76 249.47h2M105.76 254.16h2M109.76 255.33h2M107.76 256.51h4M105.76 262.37h6M105.76 268.24h6M105.76 270.59h4M105.76 271.76h2M167.73 282.32h2M129.75 284.67h2M177.72 284.67h2M177.72 294.05h2M187.72 297.57h4" stroke="#6872ee" stroke-width="1.17" fill="none"/><path d="M105.76 222.48h2M105.76 223.65h4M109.76 224.83h2M151.74 224.83h4M87.77 226h2M101.76 226h4M107.76 226h2M107.76 227.17h2M169.73 227.17h2M177.72 227.17h2M193.71 227.17h2M191.71 229.52h2M93.77 233.04h2M107.76 233.04h2M109.76 234.21h2M107.76 237.73h4M107.76 238.91h2M171.72 238.91h2M105.76 240.08h2M171.72 240.08h4M161.73 241.25h2M105.76 242.43h4M105.76 243.6h4M191.71 243.6h2M107.76 244.77h2M209.7 245.95h2M81.78 247.12h2M107.76 247.12h2M159.73 247.12h6M171.72 247.12h2M177.72 247.12h2M107.76 248.29h4M129.75 249.47h2M161.73 249.47h2M205.71 249.47h2M107.76 250.64h4M109.76 251.81h2M175.72 251.81h2M183.72 251.81h8M109.76 252.99h2M149.74 254.16h2M105.76 255.33h2M95.77 256.51h2M161.73 256.51h2M105.76 257.68h4M105.76 258.85h6M193.71 258.85h2M107.76 260.03h2M185.72 260.03h2M107.76 261.2h2M167.73 261.2h2M129.75 262.37h2M167.73 262.37h2M105.76 263.55h4M193.71 264.72h2M109.76 265.89h2M107.76 267.07h2M211.7 270.59h4M181.72 272.93h4M109.76 274.11h2M119.75 274.11h2M165.73 274.11h4M181.72 274.11h2M129.75 276.45h2M167.73 276.45h2M177.72 277.63h2M147.74 278.8h2M51.79 282.32h2M159.73 282.32h2M213.7 282.32h2M203.71 283.49h2M161.73 284.67h2M173.72 284.67h2M127.75 285.84h2M167.73 285.84h2M173.72 285.84h2M177.72 287.01h2M203.71 287.01h2M153.73 289.36h2M203.71 290.53h2M153.73 291.71h2M129.75 292.88h2M159.73 292.88h2M203.71 292.88h2M107.76 294.05h2M159.73 294.05h2M173.72 294.05h4M81.78 295.23h2M109.76 295.23h2M129.75 295.23h2M173.72 295.23h2M177.72 295.23h2M129.75 296.4h2M159.73 297.57h2M177.72 297.57h2M185.72 297.57h2M81.78 298.75h2M171.72 298.75h2M173.72 299.92h2M137.74 301.09h2M151.74 301.09h4M137.74 302.27h2M161.73 302.27h2M95.77 303.44h2M43.8 309.31h2M155.73 310.48h2M161.73 311.65h2M155.73 314h2M129.75 318.69h2M171.72 318.69h2M159.73 319.87h2M163.73 319.87h2M167.73 319.87h2M97.77 321.04h2M177.72 324.56h2M209.7 325.73h2M71.78 326.91h2M151.74 326.91h2M205.71 326.91h2M159.73 328.08h2M129.75 329.25h2M189.71 329.25h2M181.72 330.43h2M135.74 335.12h2M209.7 335.12h2M87.77 336.29h2M69.78 337.47h2M183.72 337.47h2M129.75 338.64h2M145.74 338.64h2M153.73 338.64h2M173.72 338.64h4M209.7 338.64h2M145.74 339.81h2" stroke="#939af2" stroke-width="1.17" fill="none"/><path d="M47.79 227.17h6M49.79 229.52h2M53.79 229.52h2M47.79 230.69h2M41.8 231.87h2M117.76 235.39h2M47.79 237.73h2M115.76 241.25h4M113.76 242.43h2M125.75 242.43h2M41.8 243.6h2M47.79 243.6h2M113.76 243.6h2M115.76 244.77h2M113.76 245.95h2M117.76 248.29h2M115.76 249.47h2M51.79 250.64h2M115.76 250.64h2M125.75 250.64h2M113.76 252.99h2M53.79 254.16h2M113.76 255.33h2M117.76 255.33h2M49.79 258.85h2M117.76 258.85h2M59.79 260.03h2M45.8 261.2h2M113.76 261.2h4M117.76 263.55h2M115.76 268.24h2M117.76 269.41h2M47.79 272.93h2M51.79 272.93h2M45.8 274.11h4M41.8 275.28h2M133.75 276.45h2M207.7 276.45h2M59.79 285.84h2M59.79 289.36h2M41.8 290.53h4M143.74 291.71h2M113.76 294.05h2M113.76 295.23h2M47.79 296.4h4M117.76 296.4h2M61.79 298.75h2M125.75 299.92h2M125.75 301.09h2M203.71 301.09h4M211.7 305.79h2M41.8 316.35h2M47.79 324.56h4M89.77 324.56h2M49.79 331.6h2" stroke="#fef473" stroke-width="1.17" fill="none"/><path d="M47.79 236.56h4M47.79 265.89h2" stroke="#fff03c" stroke-width="1.17" fill="none"/></g>
<line x1="37.8" y1="275.3" x2="215.7" y2="275.3" stroke="#c8c8d8" stroke-width="0.35"/>
<path d="M216.2 217H219.6V229.3H216.2" fill="none" stroke="#e0807a" stroke-width="1.2"/>
<path d="M216.2 231.3H219.6V272.1H216.2" fill="none" stroke="#a020f0" stroke-width="1.2"/>
<path d="M216.2 277.6H219.6V339.4H216.2" fill="none" stroke="#000" stroke-width="1.2"/>
<text x="0" y="0" font-size="7.6" text-anchor="middle" fill="#222" transform="translate(237.7 218) rotate(90)" dominant-baseline="central" stroke="#222" stroke-width="0.08">+1,der</text>
<text x="0" y="0" font-size="7.6" text-anchor="middle" fill="#222" transform="translate(228.6 217.4) rotate(90)" dominant-baseline="central" stroke="#222" stroke-width="0.08">(1;7)</text>
<text x="0" y="0" font-size="7.6" text-anchor="middle" fill="#222" transform="translate(237.7 252.3) rotate(90)" dominant-baseline="central" stroke="#222" stroke-width="0.08">+1,der</text>
<text x="0" y="0" font-size="7.6" text-anchor="middle" fill="#222" transform="translate(228.6 252) rotate(90)" dominant-baseline="central" stroke="#222" stroke-width="0.08">(1;7),+8</text>
<text x="0" y="0" font-size="7.8" text-anchor="middle" fill="#222" transform="translate(227.8 307.6) rotate(90)" dominant-baseline="central" stroke="#222" stroke-width="0.08">diploid</text>
<text x="0" y="0" font-size="7.6" text-anchor="middle" fill="#222" transform="translate(28.3 276.6) rotate(-90)" dominant-baseline="central" stroke="#222" stroke-width="0.08">Patient-8 HSPCs</text>
<defs><linearGradient id="gB" x1="0" x2="1"><stop offset="0" stop-color="#1030f0"/><stop offset="0.25" stop-color="#4060e0"/><stop offset="0.5" stop-color="#a0a060"/><stop offset="0.65" stop-color="#f4f000"/><stop offset="1" stop-color="#ffff00"/></linearGradient></defs>
<rect x="153.9" y="343.8" width="41.8" height="5" fill="url(#gB)"/>
<text x="150.3" y="349.1" font-size="7.6" text-anchor="end" fill="#222" stroke="#222" stroke-width="0.08">low</text>
<text x="198.4" y="349.1" font-size="7.6" text-anchor="start" fill="#222" stroke="#222" stroke-width="0.08">High</text>
<text x="300.8" y="188.28" font-size="11.2" text-anchor="start" fill="#000" font-weight="bold" stroke="#000" stroke-width="0.35">D</text>
<text x="354.4" y="198.93" font-size="9.1" text-anchor="start" fill="#222" stroke="#222" stroke-width="0.08">DNA repair genes</text>
<line x1="354.4" y1="199.4" x2="426.3" y2="199.4" stroke="#222" stroke-width="0.6"/>
<text x="306.8" y="212.37" font-size="7.8" text-anchor="start" fill="#222" stroke="#222" stroke-width="0.08">Diploid</text>
<text x="406.7" y="212.23" font-size="7.4" text-anchor="middle" fill="#222" stroke="#222" stroke-width="0.08">Trisomy 8</text>
<rect x="310.2" y="216.6" width="21.9" height="2" fill="#000"/>
<rect x="332.1" y="216.6" width="144.1" height="2" fill="#35a2c6"/>
<rect x="310.2" y="218.6" width="166" height="0.7" fill="#f3c4c4"/>
<g><path d="M310.2 222.93h1M314.2 222.93h1M318.2 222.93h1M330.2 222.93h1M428.2 222.93h1M420.2 230.19h1M326.2 237.45h1M402.2 237.45h1M310.2 251.97h1M317.2 251.97h1M325.2 251.97h1M458.2 251.97h1M323.2 259.23h1M316.2 266.49h2M417.2 266.49h1M432.2 266.49h1M325.2 273.75h1M314.2 281.01h1M328.2 281.01h1M313.2 288.27h1M331.2 288.27h1M318.2 295.53h1M335.2 295.53h1M314.2 302.79h1M326.2 310.05h1M467.2 310.05h1M325.2 317.31h1M331.2 317.31h1M432.2 324.57h1M463.2 324.57h1M317.2 331.83h1M343.2 339.09h2M390.2 339.09h1M467.2 339.09h1M327.2 346.35h1M331.2 346.35h1M319.2 353.61h1M428.2 353.61h1M345.2 360.87h1M466.2 360.87h1M470.2 360.87h1M317.2 368.13h1M325.2 368.13h1M343.2 375.39h1M415.2 375.39h1M328.2 382.65h1M335.2 382.65h1M310.2 389.91h1M317.2 389.91h1M320.2 389.91h1M343.2 389.91h1M314.2 397.17h1M326.2 397.17h1M328.2 397.17h1M420.2 397.17h1" stroke="#e6e620" stroke-width="7.31" fill="none"/><path d="M311.2 222.93h1M316.2 222.93h1M324.2 222.93h1M327.2 222.93h1M333.2 222.93h1M337.2 222.93h1M353.2 222.93h1M359.2 222.93h1M363.2 222.93h1M367.2 222.93h1M370.2 222.93h1M374.2 222.93h2M378.2 222.93h1M384.2 222.93h1M396.2 222.93h2M403.2 222.93h1M414.2 222.93h1M424.2 222.93h3M429.2 222.93h1M441.2 222.93h2M457.2 222.93h1M459.2 222.93h3M475.2 222.93h1M315.2 230.19h1M335.2 230.19h1M351.2 230.19h1M358.2 230.19h1M369.2 230.19h1M381.2 230.19h1M387.2 230.19h1M392.2 230.19h1M400.2 230.19h1M407.2 230.19h1M415.2 230.19h1M432.2 230.19h2M435.2 230.19h1M438.2 230.19h1M440.2 230.19h1M451.2 230.19h1M457.2 230.19h1M461.2 230.19h1M328.2 237.45h1M334.2 237.45h1M337.2 237.45h1M342.2 237.45h1M345.2 237.45h1M348.2 237.45h1M354.2 237.45h1M357.2 237.45h1M359.2 237.45h1M362.2 237.45h1M364.2 237.45h1M368.2 237.45h1M389.2 237.45h1M391.2 237.45h1M393.2 237.45h1M399.2 237.45h1M415.2 237.45h1M435.2 237.45h1M441.2 237.45h1M444.2 237.45h1M473.2 237.45h1M312.2 244.71h1M322.2 244.71h1M350.2 244.71h1M352.2 244.71h1M354.2 244.71h1M363.2 244.71h2M367.2 244.71h1M372.2 244.71h1M375.2 244.71h1M383.2 244.71h1M395.2 244.71h1M404.2 244.71h1M413.2 244.71h1M417.2 244.71h1M430.2 244.71h1M442.2 244.71h1M463.2 244.71h1M467.2 244.71h1M333.2 251.97h1M365.2 251.97h1M396.2 251.97h1M413.2 251.97h3M431.2 251.97h1M440.2 251.97h1M443.2 251.97h1M448.2 251.97h1M454.2 251.97h1M456.2 251.97h2M464.2 251.97h1M468.2 251.97h2M473.2 251.97h1M340.2 259.23h1M347.2 259.23h1M356.2 259.23h1M359.2 259.23h1M368.2 259.23h1M381.2 259.23h2M391.2 259.23h1M393.2 259.23h2M397.2 259.23h1M409.2 259.23h1M411.2 259.23h1M414.2 259.23h1M416.2 259.23h1M435.2 259.23h1M439.2 259.23h1M448.2 259.23h1M457.2 259.23h1M462.2 259.23h1M320.2 266.49h2M333.2 266.49h1M342.2 266.49h1M353.2 266.49h4M396.2 266.49h1M399.2 266.49h1M401.2 266.49h2M404.2 266.49h1M408.2 266.49h1M413.2 266.49h2M429.2 266.49h1M439.2 266.49h1M442.2 266.49h1M458.2 266.49h1M312.2 273.75h1M323.2 273.75h1M330.2 273.75h2M335.2 273.75h1M342.2 273.75h1M346.2 273.75h1M351.2 273.75h2M356.2 273.75h1M364.2 273.75h1M366.2 273.75h1M389.2 273.75h1M391.2 273.75h1M396.2 273.75h1M398.2 273.75h1M408.2 273.75h1M414.2 273.75h1M420.2 273.75h1M447.2 273.75h1M454.2 273.75h1M457.2 273.75h1M464.2 273.75h1M471.2 273.75h1M323.2 281.01h1M329.2 281.01h1M339.2 281.01h1M342.2 281.01h1M350.2 281.01h1M358.2 281.01h2M365.2 281.01h1M402.2 281.01h1M407.2 281.01h1M416.2 281.01h2M419.2 281.01h1M423.2 281.01h1M429.2 281.01h1M433.2 281.01h1M445.2 281.01h1M448.2 281.01h1M462.2 281.01h1M345.2 288.27h2M349.2 288.27h1M351.2 288.27h1M360.2 288.27h1M363.2 288.27h1M368.2 288.27h1M370.2 288.27h1M392.2 288.27h2M396.2 288.27h1M401.2 288.27h1M404.2 288.27h1M409.2 288.27h1M412.2 288.27h1M417.2 288.27h1M424.2 288.27h1M426.2 288.27h1M430.2 288.27h1M443.2 288.27h1M455.2 288.27h1M460.2 288.27h1M469.2 288.27h1M334.2 295.53h1M350.2 295.53h1M352.2 295.53h1M358.2 295.53h1M389.2 295.53h1M393.2 295.53h1M400.2 295.53h1M404.2 295.53h1M407.2 295.53h1M432.2 295.53h1M434.2 295.53h1M438.2 295.53h1M465.2 295.53h1M469.2 295.53h1M310.2 302.79h1M337.2 302.79h1M371.2 302.79h1M373.2 302.79h2M383.2 302.79h1M391.2 302.79h1M404.2 302.79h1M413.2 302.79h1M432.2 302.79h1M438.2 302.79h1M447.2 302.79h1M450.2 302.79h1M454.2 302.79h1M463.2 302.79h1M466.2 302.79h1M337.2 310.05h1M340.2 310.05h1M359.2 310.05h1M375.2 310.05h1M380.2 310.05h1M384.2 310.05h1M389.2 310.05h1M399.2 310.05h1M401.2 310.05h1M411.2 310.05h1M413.2 310.05h1M415.2 310.05h1M419.2 310.05h1M435.2 310.05h1M438.2 310.05h1M450.2 310.05h1M466.2 310.05h1M319.2 317.31h1M335.2 317.31h1M342.2 317.31h1M354.2 317.31h1M356.2 317.31h1M365.2 317.31h1M370.2 317.31h1M375.2 317.31h1M384.2 317.31h2M387.2 317.31h1M392.2 317.31h1M402.2 317.31h1M409.2 317.31h1M415.2 317.31h1M418.2 317.31h1M426.2 317.31h1M433.2 317.31h2M444.2 317.31h1M470.2 317.31h1M473.2 317.31h1M322.2 324.57h1M336.2 324.57h1M344.2 324.57h1M359.2 324.57h1M364.2 324.57h1M369.2 324.57h2M382.2 324.57h1M393.2 324.57h1M402.2 324.57h2M413.2 324.57h1M417.2 324.57h1M424.2 324.57h1M430.2 324.57h1M448.2 324.57h1M450.2 324.57h1M452.2 324.57h1M454.2 324.57h1M462.2 324.57h1M469.2 324.57h1M312.2 331.83h2M315.2 331.83h1M321.2 331.83h1M324.2 331.83h1M329.2 331.83h1M340.2 331.83h1M347.2 331.83h1M353.2 331.83h1M376.2 331.83h1M393.2 331.83h1M396.2 331.83h1M404.2 331.83h1M406.2 331.83h1M421.2 331.83h1M428.2 331.83h1M430.2 331.83h1M454.2 331.83h1M460.2 331.83h1M474.2 331.83h1M320.2 339.09h1M322.2 339.09h1M327.2 339.09h1M329.2 339.09h1M336.2 339.09h1M351.2 339.09h1M365.2 339.09h1M367.2 339.09h1M372.2 339.09h2M375.2 339.09h1M394.2 339.09h1M397.2 339.09h2M403.2 339.09h1M405.2 339.09h1M407.2 339.09h1M445.2 339.09h1M451.2 339.09h1M461.2 339.09h1M463.2 339.09h1M466.2 339.09h1M471.2 339.09h1M475.2 339.09h1M321.2 346.35h1M344.2 346.35h1M347.2 346.35h1M351.2 346.35h1M353.2 346.35h1M374.2 346.35h2M377.2 346.35h1M382.2 346.35h1M393.2 346.35h2M403.2 346.35h1M407.2 346.35h2M412.2 346.35h1M417.2 346.35h1M422.2 346.35h2M435.2 346.35h1M441.2 346.35h1M443.2 346.35h1M445.2 346.35h1M464.2 346.35h1M337.2 353.61h1M359.2 353.61h1M367.2 353.61h1M374.2 353.61h1M387.2 353.61h1M393.2 353.61h1M397.2 353.61h1M408.2 353.61h2M433.2 353.61h1M447.2 353.61h1M463.2 353.61h1M472.2 353.61h1M320.2 360.87h1M341.2 360.87h1M387.2 360.87h1M392.2 360.87h1M401.2 360.87h1M404.2 360.87h2M407.2 360.87h1M422.2 360.87h1M440.2 360.87h1M445.2 360.87h1M454.2 360.87h1M461.2 360.87h1M311.2 368.13h2M319.2 368.13h1M327.2 368.13h1M340.2 368.13h1M343.2 368.13h1M352.2 368.13h1M360.2 368.13h1M368.2 368.13h1M389.2 368.13h1M404.2 368.13h1M408.2 368.13h1M413.2 368.13h3M422.2 368.13h1M456.2 368.13h1M458.2 368.13h1M471.2 368.13h2M337.2 375.39h1M342.2 375.39h1M345.2 375.39h1M357.2 375.39h1M370.2 375.39h1M381.2 375.39h1M392.2 375.39h1M403.2 375.39h1M409.2 375.39h2M416.2 375.39h1M425.2 375.39h1M429.2 375.39h1M433.2 375.39h1M453.2 375.39h1M462.2 375.39h1M474.2 375.39h1M336.2 382.65h1M338.2 382.65h1M362.2 382.65h1M367.2 382.65h2M384.2 382.65h1M401.2 382.65h1M413.2 382.65h1M415.2 382.65h1M422.2 382.65h1M424.2 382.65h2M438.2 382.65h1M451.2 382.65h2M454.2 382.65h1M458.2 382.65h1M463.2 382.65h1M474.2 382.65h1M311.2 389.91h1M338.2 389.91h1M342.2 389.91h1M347.2 389.91h1M362.2 389.91h2M373.2 389.91h1M376.2 389.91h1M380.2 389.91h1M383.2 389.91h1M387.2 389.91h1M390.2 389.91h1M397.2 389.91h1M399.2 389.91h1M408.2 389.91h1M415.2 389.91h1M423.2 389.91h1M428.2 389.91h1M439.2 389.91h1M442.2 389.91h2M445.2 389.91h2M473.2 389.91h2M327.2 397.17h1M333.2 397.17h1M338.2 397.17h1M358.2 397.17h1M363.2 397.17h2M371.2 397.17h1M373.2 397.17h1M375.2 397.17h1M383.2 397.17h1M387.2 397.17h1M411.2 397.17h1M417.2 397.17h1M429.2 397.17h1M433.2 397.17h1M439.2 397.17h1M441.2 397.17h2M454.2 397.17h1M463.2 397.17h1M471.2 397.17h1" stroke="#6a6a90" stroke-width="7.31" fill="none"/><path d="M312.2 222.93h2M328.2 222.93h1M343.2 222.93h1M393.2 222.93h1M418.2 222.93h1M427.2 222.93h1M443.2 222.93h1M456.2 222.93h1M470.2 222.93h1M312.2 230.19h3M318.2 230.19h1M342.2 230.19h1M347.2 230.19h1M395.2 230.19h1M397.2 230.19h1M405.2 230.19h1M411.2 230.19h1M421.2 230.19h1M427.2 230.19h1M439.2 230.19h1M447.2 230.19h1M455.2 230.19h1M458.2 230.19h1M466.2 230.19h1M311.2 237.45h2M323.2 237.45h1M335.2 237.45h1M344.2 237.45h1M352.2 237.45h1M403.2 237.45h1M405.2 237.45h1M417.2 237.45h1M431.2 237.45h1M448.2 237.45h1M463.2 237.45h1M470.2 237.45h1M310.2 244.71h1M347.2 244.71h1M359.2 244.71h2M374.2 244.71h1M390.2 244.71h1M405.2 244.71h2M412.2 244.71h1M416.2 244.71h1M420.2 244.71h2M423.2 244.71h1M426.2 244.71h1M431.2 244.71h2M435.2 244.71h1M437.2 244.71h1M439.2 244.71h1M454.2 244.71h2M466.2 244.71h1M313.2 251.97h1M315.2 251.97h1M318.2 251.97h1M324.2 251.97h1M344.2 251.97h2M375.2 251.97h2M387.2 251.97h1M390.2 251.97h2M399.2 251.97h1M475.2 251.97h1M312.2 259.23h1M315.2 259.23h1M320.2 259.23h1M329.2 259.23h1M331.2 259.23h1M335.2 259.23h1M349.2 259.23h1M353.2 259.23h1M362.2 259.23h1M387.2 259.23h1M402.2 259.23h1M404.2 259.23h1M418.2 259.23h1M420.2 259.23h1M423.2 259.23h1M427.2 259.23h1M434.2 259.23h1M441.2 259.23h1M458.2 259.23h1M313.2 266.49h1M319.2 266.49h1M339.2 266.49h1M343.2 266.49h1M367.2 266.49h1M415.2 266.49h2M447.2 266.49h1M451.2 266.49h1M455.2 266.49h1M462.2 266.49h1M471.2 266.49h1M474.2 266.49h2M313.2 273.75h1M320.2 273.75h1M322.2 273.75h1M324.2 273.75h1M329.2 273.75h1M339.2 273.75h1M349.2 273.75h1M360.2 273.75h1M363.2 273.75h1M388.2 273.75h1M405.2 273.75h1M421.2 273.75h1M429.2 273.75h1M433.2 273.75h1M439.2 273.75h1M446.2 273.75h1M462.2 273.75h1M312.2 281.01h1M318.2 281.01h2M321.2 281.01h1M334.2 281.01h1M343.2 281.01h1M371.2 281.01h1M377.2 281.01h1M413.2 281.01h1M427.2 281.01h2M436.2 281.01h1M450.2 281.01h1M458.2 281.01h1M475.2 281.01h1M320.2 288.27h1M322.2 288.27h1M329.2 288.27h1M335.2 288.27h1M350.2 288.27h1M388.2 288.27h1M391.2 288.27h1M402.2 288.27h1M418.2 288.27h1M432.2 288.27h1M445.2 288.27h1M450.2 288.27h1M467.2 288.27h2M314.2 295.53h1M316.2 295.53h1M322.2 295.53h1M327.2 295.53h1M343.2 295.53h1M377.2 295.53h1M445.2 295.53h1M458.2 295.53h1M463.2 295.53h1M470.2 295.53h1M475.2 295.53h1M317.2 302.79h1M329.2 302.79h1M341.2 302.79h1M363.2 302.79h2M370.2 302.79h1M402.2 302.79h1M405.2 302.79h1M412.2 302.79h1M415.2 302.79h1M418.2 302.79h1M446.2 302.79h1M458.2 302.79h1M464.2 302.79h1M318.2 310.05h1M327.2 310.05h1M344.2 310.05h1M360.2 310.05h1M363.2 310.05h1M374.2 310.05h1M395.2 310.05h1M402.2 310.05h1M414.2 310.05h1M425.2 310.05h1M427.2 310.05h1M446.2 310.05h1M470.2 310.05h1M475.2 310.05h1M313.2 317.31h1M320.2 317.31h1M322.2 317.31h1M324.2 317.31h1M351.2 317.31h1M353.2 317.31h1M374.2 317.31h1M378.2 317.31h1M388.2 317.31h1M416.2 317.31h1M423.2 317.31h1M432.2 317.31h1M458.2 317.31h1M472.2 317.31h1M311.2 324.57h1M318.2 324.57h1M325.2 324.57h1M328.2 324.57h1M334.2 324.57h1M346.2 324.57h1M353.2 324.57h1M394.2 324.57h1M412.2 324.57h1M421.2 324.57h1M427.2 324.57h1M325.2 331.83h1M331.2 331.83h1M342.2 331.83h2M354.2 331.83h1M417.2 331.83h2M432.2 331.83h1M434.2 331.83h1M466.2 331.83h1M324.2 339.09h1M330.2 339.09h1M341.2 339.09h2M377.2 339.09h1M431.2 339.09h1M458.2 339.09h1M462.2 339.09h1M465.2 339.09h1M311.2 346.35h1M314.2 346.35h1M318.2 346.35h1M391.2 346.35h1M405.2 346.35h1M420.2 346.35h1M448.2 346.35h1M466.2 346.35h1M471.2 346.35h1M315.2 353.61h1M318.2 353.61h1M323.2 353.61h1M329.2 353.61h1M357.2 353.61h1M383.2 353.61h1M413.2 353.61h1M420.2 353.61h1M439.2 353.61h1M455.2 353.61h1M457.2 353.61h2M315.2 360.87h1M318.2 360.87h1M336.2 360.87h1M350.2 360.87h3M394.2 360.87h1M412.2 360.87h1M420.2 360.87h1M423.2 360.87h1M444.2 360.87h1M447.2 360.87h1M456.2 360.87h1M468.2 360.87h1M473.2 360.87h1M316.2 368.13h1M320.2 368.13h2M323.2 368.13h1M331.2 368.13h1M341.2 368.13h1M344.2 368.13h1M350.2 368.13h1M363.2 368.13h1M388.2 368.13h1M397.2 368.13h1M405.2 368.13h1M407.2 368.13h1M427.2 368.13h2M455.2 368.13h1M311.2 375.39h1M318.2 375.39h2M325.2 375.39h1M331.2 375.39h1M335.2 375.39h1M364.2 375.39h1M376.2 375.39h1M411.2 375.39h1M421.2 375.39h1M428.2 375.39h1M448.2 375.39h1M466.2 375.39h1M470.2 375.39h1M314.2 382.65h1M317.2 382.65h1M321.2 382.65h1M329.2 382.65h1M341.2 382.65h1M349.2 382.65h1M356.2 382.65h1M390.2 382.65h1M394.2 382.65h1M423.2 382.65h1M450.2 382.65h1M455.2 382.65h1M470.2 382.65h1M315.2 389.91h1M329.2 389.91h2M354.2 389.91h1M364.2 389.91h1M420.2 389.91h2M426.2 389.91h1M429.2 389.91h1M431.2 389.91h1M434.2 389.91h1M447.2 389.91h1M454.2 389.91h1M462.2 389.91h1M324.2 397.17h1M340.2 397.17h1M345.2 397.17h3M349.2 397.17h1M376.2 397.17h1M384.2 397.17h1M396.2 397.17h1M415.2 397.17h1M447.2 397.17h1M455.2 397.17h1M458.2 397.17h1M462.2 397.17h1M470.2 397.17h1M474.2 397.17h2" stroke="#a5a55f" stroke-width="7.31" fill="none"/><path d="M315.2 222.93h1M317.2 222.93h1M346.2 222.93h1M350.2 222.93h1M377.2 222.93h1M388.2 222.93h1M392.2 222.93h1M415.2 222.93h1M421.2 222.93h1M440.2 222.93h1M455.2 222.93h1M319.2 230.19h1M330.2 230.19h1M339.2 230.19h1M346.2 230.19h1M357.2 230.19h1M363.2 230.19h2M393.2 230.19h2M396.2 230.19h1M403.2 230.19h1M414.2 230.19h1M417.2 230.19h1M429.2 230.19h1M431.2 230.19h1M441.2 230.19h1M310.2 237.45h1M336.2 237.45h1M353.2 237.45h1M396.2 237.45h1M414.2 237.45h1M416.2 237.45h1M430.2 237.45h1M433.2 237.45h2M447.2 237.45h1M455.2 237.45h1M458.2 237.45h1M462.2 237.45h1M319.2 244.71h1M329.2 244.71h2M337.2 244.71h1M341.2 244.71h2M376.2 244.71h1M387.2 244.71h1M394.2 244.71h1M415.2 244.71h1M434.2 244.71h1M446.2 244.71h1M458.2 244.71h1M470.2 244.71h1M314.2 251.97h1M320.2 251.97h1M347.2 251.97h1M350.2 251.97h1M358.2 251.97h2M370.2 251.97h1M378.2 251.97h1M382.2 251.97h1M397.2 251.97h1M404.2 251.97h1M408.2 251.97h1M411.2 251.97h1M418.2 251.97h1M427.2 251.97h1M429.2 251.97h1M439.2 251.97h1M445.2 251.97h2M455.2 251.97h1M474.2 251.97h1M313.2 259.23h1M322.2 259.23h1M327.2 259.23h1M336.2 259.23h1M341.2 259.23h1M345.2 259.23h2M355.2 259.23h1M375.2 259.23h1M396.2 259.23h1M406.2 259.23h1M408.2 259.23h1M410.2 259.23h1M426.2 259.23h1M431.2 259.23h1M469.2 259.23h2M473.2 259.23h1M311.2 266.49h1M315.2 266.49h1M322.2 266.49h1M328.2 266.49h1M338.2 266.49h1M345.2 266.49h1M359.2 266.49h1M376.2 266.49h1M397.2 266.49h1M428.2 266.49h1M431.2 266.49h1M443.2 266.49h1M446.2 266.49h1M454.2 266.49h1M456.2 266.49h1M463.2 266.49h1M467.2 266.49h1M314.2 273.75h1M327.2 273.75h2M334.2 273.75h1M337.2 273.75h1M370.2 273.75h1M381.2 273.75h1M393.2 273.75h2M400.2 273.75h1M403.2 273.75h1M409.2 273.75h1M412.2 273.75h1M417.2 273.75h2M425.2 273.75h1M448.2 273.75h1M455.2 273.75h2M311.2 281.01h1M315.2 281.01h1M348.2 281.01h2M352.2 281.01h1M375.2 281.01h1M391.2 281.01h1M393.2 281.01h2M401.2 281.01h1M403.2 281.01h1M412.2 281.01h1M421.2 281.01h1M426.2 281.01h1M438.2 281.01h2M446.2 281.01h1M454.2 281.01h1M463.2 281.01h2M468.2 281.01h1M312.2 288.27h1M321.2 288.27h1M334.2 288.27h1M341.2 288.27h1M354.2 288.27h1M357.2 288.27h1M366.2 288.27h1M407.2 288.27h1M419.2 288.27h1M425.2 288.27h1M441.2 288.27h2M447.2 288.27h1M462.2 288.27h1M470.2 288.27h1M341.2 295.53h1M346.2 295.53h1M363.2 295.53h1M370.2 295.53h1M388.2 295.53h1M390.2 295.53h1M394.2 295.53h1M396.2 295.53h1M409.2 295.53h1M414.2 295.53h2M418.2 295.53h1M420.2 295.53h2M427.2 295.53h1M451.2 295.53h1M455.2 295.53h1M311.2 302.79h2M315.2 302.79h2M319.2 302.79h1M322.2 302.79h1M325.2 302.79h1M327.2 302.79h1M355.2 302.79h1M357.2 302.79h1M361.2 302.79h1M395.2 302.79h1M414.2 302.79h1M445.2 302.79h1M457.2 302.79h1M470.2 302.79h1M473.2 302.79h1M475.2 302.79h1M319.2 310.05h1M333.2 310.05h1M336.2 310.05h1M339.2 310.05h1M341.2 310.05h1M343.2 310.05h1M350.2 310.05h1M356.2 310.05h1M381.2 310.05h1M390.2 310.05h1M396.2 310.05h1M431.2 310.05h1M441.2 310.05h1M321.2 317.31h1M329.2 317.31h1M336.2 317.31h1M343.2 317.31h1M346.2 317.31h1M361.2 317.31h1M364.2 317.31h1M372.2 317.31h2M377.2 317.31h1M398.2 317.31h1M404.2 317.31h1M420.2 317.31h1M424.2 317.31h2M429.2 317.31h1M431.2 317.31h1M455.2 317.31h1M469.2 317.31h1M324.2 324.57h1M330.2 324.57h2M337.2 324.57h1M357.2 324.57h1M396.2 324.57h1M419.2 324.57h2M428.2 324.57h1M442.2 324.57h1M470.2 324.57h1M474.2 324.57h1M311.2 331.83h1M323.2 331.83h1M328.2 331.83h1M341.2 331.83h1M359.2 331.83h1M364.2 331.83h1M368.2 331.83h1M370.2 331.83h1M382.2 331.83h1M399.2 331.83h2M415.2 331.83h2M419.2 331.83h2M429.2 331.83h1M431.2 331.83h1M435.2 331.83h1M441.2 331.83h2M447.2 331.83h2M459.2 331.83h1M475.2 331.83h1M319.2 339.09h1M321.2 339.09h1M337.2 339.09h1M345.2 339.09h1M357.2 339.09h1M359.2 339.09h1M364.2 339.09h1M376.2 339.09h1M406.2 339.09h1M420.2 339.09h1M428.2 339.09h1M439.2 339.09h1M441.2 339.09h1M447.2 339.09h1M455.2 339.09h1M313.2 346.35h1M323.2 346.35h1M332.2 346.35h1M337.2 346.35h1M343.2 346.35h1M349.2 346.35h1M352.2 346.35h1M355.2 346.35h1M372.2 346.35h2M381.2 346.35h1M392.2 346.35h1M421.2 346.35h1M427.2 346.35h1M429.2 346.35h1M439.2 346.35h1M451.2 346.35h1M461.2 346.35h1M468.2 346.35h1M314.2 353.61h1M352.2 353.61h1M354.2 353.61h1M390.2 353.61h1M395.2 353.61h1M417.2 353.61h1M434.2 353.61h1M469.2 353.61h1M317.2 360.87h1M322.2 360.87h1M342.2 360.87h1M349.2 360.87h1M355.2 360.87h1M363.2 360.87h1M377.2 360.87h1M379.2 360.87h1M393.2 360.87h1M409.2 360.87h1M415.2 360.87h1M427.2 360.87h1M437.2 360.87h1M467.2 360.87h1M314.2 368.13h1M322.2 368.13h1M330.2 368.13h1M336.2 368.13h1M339.2 368.13h1M342.2 368.13h1M346.2 368.13h1M349.2 368.13h1M353.2 368.13h1M391.2 368.13h1M394.2 368.13h1M406.2 368.13h1M412.2 368.13h1M421.2 368.13h1M429.2 368.13h1M435.2 368.13h1M444.2 368.13h1M447.2 368.13h1M450.2 368.13h1M468.2 368.13h1M315.2 375.39h1M327.2 375.39h1M348.2 375.39h1M350.2 375.39h1M353.2 375.39h1M385.2 375.39h1M391.2 375.39h1M424.2 375.39h1M440.2 375.39h1M451.2 375.39h1M469.2 375.39h1M475.2 375.39h1M319.2 382.65h1M327.2 382.65h1M330.2 382.65h1M344.2 382.65h2M352.2 382.65h1M354.2 382.65h1M381.2 382.65h1M385.2 382.65h1M393.2 382.65h1M404.2 382.65h1M417.2 382.65h1M428.2 382.65h1M442.2 382.65h2M448.2 382.65h1M465.2 382.65h2M475.2 382.65h1M313.2 389.91h1M319.2 389.91h1M321.2 389.91h1M335.2 389.91h1M346.2 389.91h1M349.2 389.91h1M367.2 389.91h1M402.2 389.91h1M412.2 389.91h1M414.2 389.91h1M455.2 389.91h1M465.2 389.91h1M319.2 397.17h1M341.2 397.17h1M374.2 397.17h1M413.2 397.17h1M416.2 397.17h1M421.2 397.17h1M434.2 397.17h1M457.2 397.17h1M464.2 397.17h1" stroke="#93936f" stroke-width="7.31" fill="none"/><path d="M319.2 222.93h1M321.2 222.93h2M335.2 222.93h1M347.2 222.93h1M355.2 222.93h2M360.2 222.93h1M382.2 222.93h1M385.2 222.93h1M394.2 222.93h1M400.2 222.93h1M402.2 222.93h1M447.2 222.93h1M466.2 222.93h2M311.2 230.19h1M316.2 230.19h1M322.2 230.19h1M327.2 230.19h1M334.2 230.19h1M349.2 230.19h1M359.2 230.19h1M368.2 230.19h1M372.2 230.19h3M376.2 230.19h1M380.2 230.19h1M382.2 230.19h1M385.2 230.19h1M388.2 230.19h1M391.2 230.19h1M401.2 230.19h2M418.2 230.19h2M422.2 230.19h2M445.2 230.19h1M448.2 230.19h1M450.2 230.19h1M454.2 230.19h1M463.2 230.19h1M314.2 237.45h2M340.2 237.45h1M375.2 237.45h1M382.2 237.45h1M385.2 237.45h1M390.2 237.45h1M394.2 237.45h1M404.2 237.45h1M407.2 237.45h1M411.2 237.45h1M413.2 237.45h1M420.2 237.45h1M427.2 237.45h1M439.2 237.45h1M445.2 237.45h1M467.2 237.45h1M320.2 244.71h1M328.2 244.71h1M336.2 244.71h1M381.2 244.71h1M384.2 244.71h1M393.2 244.71h1M403.2 244.71h1M409.2 244.71h1M414.2 244.71h1M418.2 244.71h1M441.2 244.71h1M448.2 244.71h1M468.2 244.71h1M473.2 244.71h2M311.2 251.97h2M321.2 251.97h1M342.2 251.97h1M353.2 251.97h1M386.2 251.97h1M388.2 251.97h1M394.2 251.97h1M398.2 251.97h1M402.2 251.97h1M405.2 251.97h1M407.2 251.97h1M410.2 251.97h1M417.2 251.97h1M419.2 251.97h1M424.2 251.97h1M426.2 251.97h1M430.2 251.97h1M434.2 251.97h2M438.2 251.97h1M319.2 259.23h1M338.2 259.23h1M344.2 259.23h1M348.2 259.23h1M384.2 259.23h1M390.2 259.23h1M403.2 259.23h1M412.2 259.23h1M417.2 259.23h1M428.2 259.23h1M430.2 259.23h1M433.2 259.23h1M442.2 259.23h1M445.2 259.23h1M456.2 259.23h1M466.2 259.23h1M346.2 266.49h1M349.2 266.49h1M363.2 266.49h3M372.2 266.49h1M382.2 266.49h2M389.2 266.49h1M393.2 266.49h1M419.2 266.49h1M423.2 266.49h3M434.2 266.49h2M441.2 266.49h1M445.2 266.49h1M449.2 266.49h1M457.2 266.49h1M315.2 273.75h1M343.2 273.75h1M350.2 273.75h1M359.2 273.75h1M376.2 273.75h2M384.2 273.75h1M386.2 273.75h1M401.2 273.75h2M404.2 273.75h1M419.2 273.75h1M427.2 273.75h1M438.2 273.75h1M440.2 273.75h1M443.2 273.75h1M468.2 273.75h1M472.2 273.75h1M322.2 281.01h1M340.2 281.01h2M373.2 281.01h1M388.2 281.01h2M414.2 281.01h1M420.2 281.01h1M422.2 281.01h1M434.2 281.01h1M437.2 281.01h1M440.2 281.01h1M443.2 281.01h1M451.2 281.01h1M340.2 288.27h1M342.2 288.27h1M352.2 288.27h1M356.2 288.27h1M373.2 288.27h1M377.2 288.27h1M389.2 288.27h2M410.2 288.27h1M414.2 288.27h1M420.2 288.27h1M422.2 288.27h1M428.2 288.27h2M434.2 288.27h1M446.2 288.27h1M448.2 288.27h1M456.2 288.27h1M461.2 288.27h1M315.2 295.53h1M342.2 295.53h1M364.2 295.53h1M367.2 295.53h1M373.2 295.53h2M385.2 295.53h1M401.2 295.53h1M405.2 295.53h1M423.2 295.53h1M435.2 295.53h1M446.2 295.53h2M462.2 295.53h1M468.2 295.53h1M472.2 295.53h3M321.2 302.79h1M328.2 302.79h1M330.2 302.79h1M345.2 302.79h2M350.2 302.79h2M406.2 302.79h1M408.2 302.79h1M417.2 302.79h1M426.2 302.79h1M429.2 302.79h1M439.2 302.79h1M444.2 302.79h1M474.2 302.79h1M320.2 310.05h1M322.2 310.05h1M329.2 310.05h1M334.2 310.05h1M345.2 310.05h1M351.2 310.05h1M353.2 310.05h1M357.2 310.05h2M387.2 310.05h1M417.2 310.05h1M420.2 310.05h1M445.2 310.05h1M448.2 310.05h1M454.2 310.05h2M457.2 310.05h3M463.2 310.05h2M314.2 317.31h1M344.2 317.31h2M347.2 317.31h1M350.2 317.31h1M368.2 317.31h1M376.2 317.31h1M396.2 317.31h2M411.2 317.31h1M419.2 317.31h1M442.2 317.31h1M464.2 317.31h1M315.2 324.57h1M327.2 324.57h1M371.2 324.57h1M375.2 324.57h2M380.2 324.57h1M386.2 324.57h2M391.2 324.57h1M405.2 324.57h1M408.2 324.57h1M416.2 324.57h1M423.2 324.57h1M429.2 324.57h1M431.2 324.57h1M441.2 324.57h1M447.2 324.57h1M457.2 324.57h3M314.2 331.83h1M316.2 331.83h1M319.2 331.83h2M322.2 331.83h1M337.2 331.83h1M345.2 331.83h2M352.2 331.83h1M363.2 331.83h1M369.2 331.83h1M371.2 331.83h1M383.2 331.83h2M391.2 331.83h1M407.2 331.83h1M414.2 331.83h1M449.2 331.83h1M457.2 331.83h2M463.2 331.83h2M468.2 331.83h1M331.2 339.09h1M346.2 339.09h1M349.2 339.09h1M383.2 339.09h1M393.2 339.09h1M396.2 339.09h1M400.2 339.09h1M404.2 339.09h1M414.2 339.09h2M418.2 339.09h1M442.2 339.09h1M448.2 339.09h1M456.2 339.09h1M474.2 339.09h1M312.2 346.35h1M319.2 346.35h1M341.2 346.35h1M346.2 346.35h1M360.2 346.35h1M363.2 346.35h1M388.2 346.35h2M396.2 346.35h1M402.2 346.35h1M411.2 346.35h1M419.2 346.35h1M428.2 346.35h1M434.2 346.35h1M436.2 346.35h1M438.2 346.35h1M455.2 346.35h1M457.2 346.35h1M462.2 346.35h2M470.2 346.35h1M327.2 353.61h2M334.2 353.61h1M336.2 353.61h1M342.2 353.61h1M346.2 353.61h1M385.2 353.61h1M391.2 353.61h1M402.2 353.61h3M407.2 353.61h1M419.2 353.61h1M424.2 353.61h1M427.2 353.61h1M429.2 353.61h1M431.2 353.61h1M435.2 353.61h1M438.2 353.61h1M453.2 353.61h1M465.2 353.61h1M468.2 353.61h1M471.2 353.61h1M321.2 360.87h1M343.2 360.87h1M353.2 360.87h1M375.2 360.87h2M381.2 360.87h1M389.2 360.87h2M395.2 360.87h2M398.2 360.87h1M406.2 360.87h1M416.2 360.87h3M424.2 360.87h1M428.2 360.87h2M432.2 360.87h1M441.2 360.87h1M450.2 360.87h1M452.2 360.87h1M463.2 360.87h1M474.2 360.87h1M335.2 368.13h1M354.2 368.13h1M357.2 368.13h1M364.2 368.13h1M381.2 368.13h1M383.2 368.13h1M423.2 368.13h1M432.2 368.13h1M441.2 368.13h1M446.2 368.13h1M451.2 368.13h1M461.2 368.13h2M473.2 368.13h1M475.2 368.13h1M329.2 375.39h1M333.2 375.39h1M339.2 375.39h1M354.2 375.39h1M363.2 375.39h1M387.2 375.39h1M393.2 375.39h1M399.2 375.39h1M401.2 375.39h2M404.2 375.39h1M413.2 375.39h2M418.2 375.39h1M431.2 375.39h1M447.2 375.39h1M464.2 375.39h1M467.2 375.39h2M312.2 382.65h1M315.2 382.65h1M331.2 382.65h1M351.2 382.65h1M353.2 382.65h1M355.2 382.65h1M357.2 382.65h1M359.2 382.65h2M373.2 382.65h1M396.2 382.65h3M405.2 382.65h1M411.2 382.65h1M416.2 382.65h1M426.2 382.65h2M434.2 382.65h1M436.2 382.65h1M439.2 382.65h2M456.2 382.65h2M468.2 382.65h1M312.2 389.91h1M339.2 389.91h1M345.2 389.91h1M359.2 389.91h1M365.2 389.91h1M404.2 389.91h1M416.2 389.91h1M418.2 389.91h1M424.2 389.91h2M427.2 389.91h1M430.2 389.91h1M437.2 389.91h1M440.2 389.91h1M450.2 389.91h1M466.2 389.91h1M468.2 389.91h1M311.2 397.17h2M321.2 397.17h1M330.2 397.17h1M334.2 397.17h1M342.2 397.17h2M351.2 397.17h3M378.2 397.17h1M388.2 397.17h1M393.2 397.17h1M397.2 397.17h1M403.2 397.17h1M408.2 397.17h1M418.2 397.17h1M422.2 397.17h2M426.2 397.17h1M431.2 397.17h1M465.2 397.17h1M467.2 397.17h1" stroke="#808080" stroke-width="7.31" fill="none"/><path d="M320.2 222.93h1M338.2 222.93h1M340.2 222.93h1M354.2 222.93h1M361.2 222.93h2M373.2 222.93h1M379.2 222.93h1M383.2 222.93h1M391.2 222.93h1M395.2 222.93h1M398.2 222.93h1M406.2 222.93h2M412.2 222.93h1M419.2 222.93h1M422.2 222.93h1M436.2 222.93h1M446.2 222.93h1M451.2 222.93h1M454.2 222.93h1M464.2 222.93h1M469.2 222.93h1M471.2 222.93h1M473.2 222.93h1M333.2 230.19h1M336.2 230.19h2M350.2 230.19h1M362.2 230.19h1M365.2 230.19h1M377.2 230.19h2M384.2 230.19h1M389.2 230.19h1M408.2 230.19h1M412.2 230.19h2M436.2 230.19h1M460.2 230.19h1M462.2 230.19h1M464.2 230.19h1M474.2 230.19h1M327.2 237.45h1M338.2 237.45h1M347.2 237.45h1M349.2 237.45h2M355.2 237.45h2M358.2 237.45h1M360.2 237.45h1M370.2 237.45h1M377.2 237.45h1M380.2 237.45h2M400.2 237.45h1M409.2 237.45h1M428.2 237.45h1M446.2 237.45h1M464.2 237.45h2M332.2 244.71h2M369.2 244.71h1M373.2 244.71h1M377.2 244.71h1M379.2 244.71h1M386.2 244.71h1M407.2 244.71h1M419.2 244.71h1M433.2 244.71h1M438.2 244.71h1M443.2 244.71h1M445.2 244.71h1M450.2 244.71h1M452.2 244.71h1M464.2 244.71h1M322.2 251.97h1M334.2 251.97h1M338.2 251.97h1M351.2 251.97h1M363.2 251.97h2M368.2 251.97h1M371.2 251.97h1M383.2 251.97h2M403.2 251.97h1M409.2 251.97h1M442.2 251.97h1M444.2 251.97h1M453.2 251.97h1M461.2 251.97h1M334.2 259.23h1M354.2 259.23h1M358.2 259.23h1M360.2 259.23h1M364.2 259.23h1M371.2 259.23h1M385.2 259.23h1M395.2 259.23h1M401.2 259.23h1M425.2 259.23h1M429.2 259.23h1M450.2 259.23h2M334.2 266.49h1M352.2 266.49h1M358.2 266.49h1M360.2 266.49h1M370.2 266.49h1M374.2 266.49h1M381.2 266.49h1M384.2 266.49h1M386.2 266.49h1M398.2 266.49h1M409.2 266.49h1M412.2 266.49h1M418.2 266.49h1M427.2 266.49h1M430.2 266.49h1M448.2 266.49h1M452.2 266.49h1M459.2 266.49h1M472.2 266.49h1M333.2 273.75h1M340.2 273.75h1M348.2 273.75h1M373.2 273.75h2M392.2 273.75h1M406.2 273.75h1M423.2 273.75h1M430.2 273.75h1M434.2 273.75h1M442.2 273.75h1M450.2 273.75h2M459.2 273.75h1M465.2 273.75h1M345.2 281.01h1M351.2 281.01h1M355.2 281.01h1M357.2 281.01h1M361.2 281.01h1M364.2 281.01h1M368.2 281.01h1M382.2 281.01h1M392.2 281.01h1M396.2 281.01h1M405.2 281.01h1M415.2 281.01h1M425.2 281.01h1M430.2 281.01h1M461.2 281.01h1M474.2 281.01h1M332.2 288.27h2M359.2 288.27h1M367.2 288.27h1M371.2 288.27h2M381.2 288.27h2M385.2 288.27h1M398.2 288.27h1M400.2 288.27h1M408.2 288.27h1M411.2 288.27h1M413.2 288.27h1M439.2 288.27h1M449.2 288.27h1M451.2 288.27h2M459.2 288.27h1M321.2 295.53h1M324.2 295.53h1M340.2 295.53h1M353.2 295.53h1M357.2 295.53h1M365.2 295.53h1M372.2 295.53h1M387.2 295.53h1M395.2 295.53h1M406.2 295.53h1M408.2 295.53h1M413.2 295.53h1M425.2 295.53h1M429.2 295.53h1M433.2 295.53h1M437.2 295.53h1M448.2 295.53h1M456.2 295.53h1M464.2 295.53h1M313.2 302.79h1M354.2 302.79h1M356.2 302.79h1M359.2 302.79h1M365.2 302.79h1M377.2 302.79h1M385.2 302.79h1M388.2 302.79h1M396.2 302.79h1M398.2 302.79h1M403.2 302.79h1M409.2 302.79h1M411.2 302.79h1M419.2 302.79h1M423.2 302.79h1M451.2 302.79h1M456.2 302.79h1M471.2 302.79h1M346.2 310.05h1M361.2 310.05h1M364.2 310.05h1M409.2 310.05h1M421.2 310.05h1M429.2 310.05h1M461.2 310.05h1M472.2 310.05h2M328.2 317.31h1M348.2 317.31h1M359.2 317.31h1M371.2 317.31h1M380.2 317.31h1M382.2 317.31h1M386.2 317.31h1M394.2 317.31h1M400.2 317.31h1M439.2 317.31h1M451.2 317.31h1M471.2 317.31h1M314.2 324.57h1M333.2 324.57h1M335.2 324.57h1M339.2 324.57h2M342.2 324.57h1M347.2 324.57h3M374.2 324.57h1M388.2 324.57h1M406.2 324.57h1M409.2 324.57h1M440.2 324.57h1M443.2 324.57h2M461.2 324.57h1M471.2 324.57h1M327.2 331.83h1M332.2 331.83h1M335.2 331.83h2M349.2 331.83h1M360.2 331.83h1M367.2 331.83h1M374.2 331.83h2M386.2 331.83h2M397.2 331.83h1M409.2 331.83h1M411.2 331.83h1M423.2 331.83h1M425.2 331.83h1M427.2 331.83h1M433.2 331.83h1M443.2 331.83h1M451.2 331.83h1M453.2 331.83h1M462.2 331.83h1M473.2 331.83h1M332.2 339.09h1M347.2 339.09h1M354.2 339.09h2M358.2 339.09h1M361.2 339.09h1M366.2 339.09h1M379.2 339.09h1M388.2 339.09h2M395.2 339.09h1M408.2 339.09h1M410.2 339.09h1M412.2 339.09h1M423.2 339.09h1M436.2 339.09h2M443.2 339.09h1M453.2 339.09h1M468.2 339.09h1M336.2 346.35h1M340.2 346.35h1M342.2 346.35h1M354.2 346.35h1M357.2 346.35h2M365.2 346.35h1M367.2 346.35h1M384.2 346.35h1M400.2 346.35h1M425.2 346.35h2M450.2 346.35h1M460.2 346.35h1M339.2 353.61h1M348.2 353.61h1M350.2 353.61h1M353.2 353.61h1M355.2 353.61h1M373.2 353.61h1M381.2 353.61h2M388.2 353.61h1M398.2 353.61h1M414.2 353.61h2M418.2 353.61h1M422.2 353.61h1M441.2 353.61h1M452.2 353.61h1M456.2 353.61h1M459.2 353.61h1M473.2 353.61h1M332.2 360.87h1M335.2 360.87h1M340.2 360.87h1M354.2 360.87h1M356.2 360.87h3M360.2 360.87h1M364.2 360.87h1M368.2 360.87h1M372.2 360.87h1M382.2 360.87h2M388.2 360.87h1M399.2 360.87h1M408.2 360.87h1M421.2 360.87h1M434.2 360.87h1M446.2 360.87h1M448.2 360.87h1M460.2 360.87h1M471.2 360.87h1M338.2 368.13h1M347.2 368.13h1M382.2 368.13h1M385.2 368.13h1M392.2 368.13h1M396.2 368.13h1M400.2 368.13h2M403.2 368.13h1M411.2 368.13h1M417.2 368.13h1M431.2 368.13h1M434.2 368.13h1M464.2 368.13h1M469.2 368.13h1M474.2 368.13h1M351.2 375.39h1M367.2 375.39h1M371.2 375.39h2M374.2 375.39h1M383.2 375.39h1M386.2 375.39h1M398.2 375.39h1M406.2 375.39h2M423.2 375.39h1M430.2 375.39h1M442.2 375.39h1M452.2 375.39h1M456.2 375.39h1M472.2 375.39h1M322.2 382.65h1M332.2 382.65h1M334.2 382.65h1M342.2 382.65h1M350.2 382.65h1M363.2 382.65h1M379.2 382.65h2M382.2 382.65h2M392.2 382.65h1M403.2 382.65h1M437.2 382.65h1M446.2 382.65h2M453.2 382.65h1M469.2 382.65h1M471.2 382.65h1M333.2 389.91h1M336.2 389.91h1M340.2 389.91h1M344.2 389.91h1M351.2 389.91h1M355.2 389.91h1M358.2 389.91h1M360.2 389.91h1M366.2 389.91h1M368.2 389.91h1M377.2 389.91h1M379.2 389.91h1M381.2 389.91h1M385.2 389.91h1M388.2 389.91h1M392.2 389.91h2M395.2 389.91h1M401.2 389.91h1M407.2 389.91h1M441.2 389.91h1M444.2 389.91h1M452.2 389.91h1M456.2 389.91h1M463.2 389.91h1M471.2 389.91h2M339.2 397.17h1M355.2 397.17h1M362.2 397.17h1M367.2 397.17h1M379.2 397.17h1M390.2 397.17h1M400.2 397.17h1M406.2 397.17h2M430.2 397.17h1M438.2 397.17h1M440.2 397.17h1M445.2 397.17h1M449.2 397.17h1M469.2 397.17h1" stroke="#4242af" stroke-width="7.31" fill="none"/><path d="M323.2 222.93h1M325.2 222.93h1M329.2 222.93h1M331.2 222.93h1M439.2 222.93h1M325.2 230.19h2M446.2 230.19h1M318.2 237.45h2M325.2 237.45h1M423.2 237.45h1M314.2 244.71h1M321.2 244.71h1M331.2 244.71h1M424.2 244.71h1M323.2 251.97h1M420.2 251.97h1M466.2 251.97h1M314.2 259.23h1M316.2 259.23h1M325.2 259.23h2M328.2 259.23h1M357.2 259.23h1M421.2 259.23h1M455.2 259.23h1M318.2 266.49h1M310.2 273.75h1M321.2 273.75h1M317.2 281.01h1M324.2 281.01h3M311.2 288.27h1M317.2 288.27h3M326.2 288.27h1M330.2 288.27h1M337.2 288.27h1M421.2 288.27h1M317.2 295.53h1M319.2 295.53h1M431.2 295.53h1M343.2 302.79h2M349.2 302.79h1M352.2 302.79h1M367.2 302.79h1M314.2 310.05h1M317.2 310.05h1M321.2 310.05h1M324.2 310.05h1M316.2 317.31h2M326.2 317.31h1M323.2 324.57h1M367.2 324.57h1M415.2 324.57h1M446.2 324.57h1M467.2 324.57h1M310.2 331.83h1M390.2 331.83h1M405.2 331.83h1M421.2 339.09h1M427.2 339.09h1M328.2 346.35h1M467.2 346.35h1M310.2 353.61h1M312.2 353.61h1M330.2 353.61h1M343.2 353.61h1M351.2 353.61h1M454.2 353.61h1M470.2 353.61h1M319.2 360.87h1M331.2 360.87h1M391.2 360.87h1M418.2 368.13h1M457.2 368.13h1M467.2 368.13h1M310.2 375.39h1M320.2 375.39h1M324.2 375.39h1M344.2 375.39h1M463.2 375.39h1M316.2 382.65h1M318.2 382.65h1M320.2 382.65h1M467.2 382.65h1M314.2 389.91h1M326.2 389.91h1M313.2 397.17h1M320.2 397.17h1M391.2 397.17h1M432.2 397.17h1M435.2 397.17h1" stroke="#dddd2a" stroke-width="7.31" fill="none"/><path d="M326.2 222.93h1M467.2 230.19h1M426.2 237.45h1M323.2 244.71h1M326.2 244.71h1M343.2 244.71h1M317.2 259.23h1M327.2 281.01h1M331.2 281.01h1M467.2 281.01h1M314.2 288.27h1M328.2 288.27h1M326.2 295.53h1M439.2 295.53h1M310.2 317.31h1M330.2 317.31h1M319.2 324.57h1M323.2 339.09h1M317.2 346.35h1M320.2 346.35h1M467.2 353.61h1M311.2 360.87h1M326.2 360.87h1M326.2 368.13h1M316.2 375.39h1M321.2 375.39h1M402.2 382.65h1M325.2 389.91h1" stroke="#ebeb1b" stroke-width="7.31" fill="none"/><path d="M332.2 222.93h1M352.2 222.93h1M358.2 222.93h1M364.2 222.93h1M371.2 222.93h2M380.2 222.93h1M411.2 222.93h1M413.2 222.93h1M417.2 222.93h1M433.2 222.93h1M435.2 222.93h1M448.2 222.93h1M450.2 222.93h1M452.2 222.93h1M462.2 222.93h1M320.2 230.19h1M332.2 230.19h1M338.2 230.19h1M340.2 230.19h1M348.2 230.19h1M352.2 230.19h1M360.2 230.19h1M371.2 230.19h1M399.2 230.19h1M404.2 230.19h1M410.2 230.19h1M437.2 230.19h1M465.2 230.19h1M468.2 230.19h1M472.2 230.19h1M361.2 237.45h1M363.2 237.45h1M386.2 237.45h1M388.2 237.45h1M408.2 237.45h1M410.2 237.45h1M418.2 237.45h1M424.2 237.45h2M450.2 237.45h2M456.2 237.45h1M459.2 237.45h1M461.2 237.45h1M469.2 237.45h1M474.2 237.45h2M334.2 244.71h1M351.2 244.71h1M361.2 244.71h1M365.2 244.71h2M388.2 244.71h2M396.2 244.71h1M453.2 244.71h1M456.2 244.71h1M460.2 244.71h1M462.2 244.71h1M335.2 251.97h1M337.2 251.97h1M346.2 251.97h1M354.2 251.97h1M360.2 251.97h2M373.2 251.97h2M377.2 251.97h1M385.2 251.97h1M400.2 251.97h2M425.2 251.97h1M433.2 251.97h1M441.2 251.97h1M452.2 251.97h1M460.2 251.97h1M350.2 259.23h1M361.2 259.23h1M365.2 259.23h1M367.2 259.23h1M374.2 259.23h1M378.2 259.23h1M380.2 259.23h1M386.2 259.23h1M389.2 259.23h1M407.2 259.23h1M415.2 259.23h1M424.2 259.23h1M436.2 259.23h1M454.2 259.23h1M459.2 259.23h2M465.2 259.23h1M324.2 266.49h1M368.2 266.49h1M378.2 266.49h1M422.2 266.49h1M450.2 266.49h1M469.2 266.49h1M336.2 273.75h1M341.2 273.75h1M355.2 273.75h1M358.2 273.75h1M361.2 273.75h1M365.2 273.75h1M367.2 273.75h1M369.2 273.75h1M385.2 273.75h1M422.2 273.75h1M428.2 273.75h1M431.2 273.75h1M441.2 273.75h1M475.2 273.75h1M346.2 281.01h1M360.2 281.01h1M369.2 281.01h1M376.2 281.01h1M379.2 281.01h1M383.2 281.01h1M397.2 281.01h1M400.2 281.01h1M408.2 281.01h1M411.2 281.01h1M442.2 281.01h1M469.2 281.01h1M336.2 288.27h1M347.2 288.27h2M358.2 288.27h1M364.2 288.27h2M416.2 288.27h1M427.2 288.27h1M435.2 288.27h1M444.2 288.27h1M453.2 288.27h1M471.2 288.27h1M474.2 288.27h1M332.2 295.53h1M338.2 295.53h1M356.2 295.53h1M361.2 295.53h2M366.2 295.53h1M368.2 295.53h1M371.2 295.53h1M379.2 295.53h3M403.2 295.53h1M410.2 295.53h3M430.2 295.53h1M441.2 295.53h1M449.2 295.53h1M452.2 295.53h1M332.2 302.79h1M338.2 302.79h1M340.2 302.79h1M347.2 302.79h2M375.2 302.79h1M379.2 302.79h1M393.2 302.79h2M410.2 302.79h1M431.2 302.79h1M436.2 302.79h1M449.2 302.79h1M462.2 302.79h1M465.2 302.79h1M468.2 302.79h1M368.2 310.05h1M370.2 310.05h1M373.2 310.05h1M388.2 310.05h1M392.2 310.05h1M406.2 310.05h1M410.2 310.05h1M430.2 310.05h1M437.2 310.05h1M447.2 310.05h1M453.2 310.05h1M460.2 310.05h1M333.2 317.31h2M341.2 317.31h1M360.2 317.31h1M362.2 317.31h1M379.2 317.31h1M395.2 317.31h1M410.2 317.31h1M414.2 317.31h1M422.2 317.31h1M435.2 317.31h1M447.2 317.31h1M456.2 317.31h1M460.2 317.31h1M332.2 324.57h1M338.2 324.57h1M350.2 324.57h1M354.2 324.57h1M356.2 324.57h1M363.2 324.57h1M366.2 324.57h1M381.2 324.57h1M383.2 324.57h1M385.2 324.57h1M395.2 324.57h1M398.2 324.57h2M407.2 324.57h1M433.2 324.57h1M453.2 324.57h1M464.2 324.57h1M473.2 324.57h1M357.2 331.83h2M361.2 331.83h2M379.2 331.83h1M412.2 331.83h2M437.2 331.83h1M444.2 331.83h2M452.2 331.83h1M465.2 331.83h1M469.2 331.83h1M472.2 331.83h1M335.2 339.09h1M356.2 339.09h1M363.2 339.09h1M374.2 339.09h1M384.2 339.09h1M387.2 339.09h1M413.2 339.09h1M422.2 339.09h1M438.2 339.09h1M444.2 339.09h1M472.2 339.09h1M333.2 346.35h1M364.2 346.35h1M368.2 346.35h1M379.2 346.35h1M383.2 346.35h1M398.2 346.35h2M413.2 346.35h1M424.2 346.35h1M430.2 346.35h2M437.2 346.35h1M452.2 346.35h1M473.2 346.35h1M332.2 353.61h1M356.2 353.61h1M358.2 353.61h1M364.2 353.61h3M370.2 353.61h1M375.2 353.61h1M389.2 353.61h1M410.2 353.61h2M448.2 353.61h1M451.2 353.61h1M460.2 353.61h1M462.2 353.61h1M464.2 353.61h1M347.2 360.87h1M359.2 360.87h1M362.2 360.87h1M367.2 360.87h1M371.2 360.87h1M374.2 360.87h1M378.2 360.87h1M380.2 360.87h1M410.2 360.87h1M425.2 360.87h1M433.2 360.87h1M442.2 360.87h1M449.2 360.87h1M453.2 360.87h1M459.2 360.87h1M372.2 368.13h2M379.2 368.13h1M424.2 368.13h2M437.2 368.13h1M443.2 368.13h1M452.2 368.13h1M459.2 368.13h1M463.2 368.13h1M336.2 375.39h1M352.2 375.39h1M378.2 375.39h1M395.2 375.39h1M408.2 375.39h1M419.2 375.39h1M426.2 375.39h1M443.2 375.39h2M459.2 375.39h2M333.2 382.65h1M337.2 382.65h1M407.2 382.65h1M421.2 382.65h1M430.2 382.65h1M435.2 382.65h1M441.2 382.65h1M445.2 382.65h1M461.2 382.65h1M472.2 382.65h2M352.2 389.91h1M357.2 389.91h1M375.2 389.91h1M378.2 389.91h1M389.2 389.91h1M400.2 389.91h1M411.2 389.91h1M436.2 389.91h1M448.2 389.91h1M460.2 389.91h2M350.2 397.17h1M359.2 397.17h1M361.2 397.17h1M369.2 397.17h1M381.2 397.17h1M389.2 397.17h1M401.2 397.17h1M412.2 397.17h1M446.2 397.17h1M450.2 397.17h2M453.2 397.17h1M456.2 397.17h1M472.2 397.17h1" stroke="#3232bf" stroke-width="7.31" fill="none"/><path d="M334.2 222.93h1M349.2 222.93h1M351.2 222.93h1M357.2 222.93h1M366.2 222.93h1M381.2 222.93h1M389.2 222.93h1M401.2 222.93h1M408.2 222.93h1M410.2 222.93h1M416.2 222.93h1M423.2 222.93h1M431.2 222.93h2M434.2 222.93h1M444.2 222.93h2M453.2 222.93h1M463.2 222.93h1M474.2 222.93h1M328.2 230.19h1M345.2 230.19h1M354.2 230.19h1M367.2 230.19h1M370.2 230.19h1M434.2 230.19h1M444.2 230.19h1M470.2 230.19h1M473.2 230.19h1M475.2 230.19h1M313.2 237.45h1M322.2 237.45h1M371.2 237.45h1M373.2 237.45h2M378.2 237.45h1M384.2 237.45h1M401.2 237.45h1M421.2 237.45h1M429.2 237.45h1M437.2 237.45h1M442.2 237.45h2M449.2 237.45h1M457.2 237.45h1M468.2 237.45h1M471.2 237.45h1M335.2 244.71h1M338.2 244.71h1M340.2 244.71h1M345.2 244.71h2M348.2 244.71h1M356.2 244.71h3M370.2 244.71h1M385.2 244.71h1M392.2 244.71h1M402.2 244.71h1M408.2 244.71h1M422.2 244.71h1M429.2 244.71h1M436.2 244.71h1M440.2 244.71h1M451.2 244.71h1M461.2 244.71h1M469.2 244.71h1M471.2 244.71h2M475.2 244.71h1M319.2 251.97h1M339.2 251.97h2M349.2 251.97h1M355.2 251.97h2M362.2 251.97h1M366.2 251.97h2M379.2 251.97h1M389.2 251.97h1M395.2 251.97h1M406.2 251.97h1M416.2 251.97h1M422.2 251.97h2M447.2 251.97h1M450.2 251.97h1M465.2 251.97h1M332.2 259.23h1M337.2 259.23h1M342.2 259.23h2M351.2 259.23h2M363.2 259.23h1M366.2 259.23h1M369.2 259.23h2M373.2 259.23h1M377.2 259.23h1M383.2 259.23h1M398.2 259.23h1M413.2 259.23h1M419.2 259.23h1M422.2 259.23h1M438.2 259.23h1M440.2 259.23h1M443.2 259.23h1M447.2 259.23h1M461.2 259.23h1M463.2 259.23h1M468.2 259.23h1M471.2 259.23h2M332.2 266.49h1M335.2 266.49h1M340.2 266.49h1M350.2 266.49h2M357.2 266.49h1M371.2 266.49h1M373.2 266.49h1M377.2 266.49h1M385.2 266.49h1M387.2 266.49h1M394.2 266.49h2M403.2 266.49h1M421.2 266.49h1M433.2 266.49h1M436.2 266.49h1M438.2 266.49h1M444.2 266.49h1M453.2 266.49h1M460.2 266.49h1M465.2 266.49h1M468.2 266.49h1M473.2 266.49h1M338.2 273.75h1M344.2 273.75h2M347.2 273.75h1M368.2 273.75h1M375.2 273.75h1M378.2 273.75h1M383.2 273.75h1M395.2 273.75h1M399.2 273.75h1M413.2 273.75h1M416.2 273.75h1M426.2 273.75h1M432.2 273.75h1M453.2 273.75h1M460.2 273.75h2M463.2 273.75h1M467.2 273.75h1M469.2 273.75h1M474.2 273.75h1M332.2 281.01h1M347.2 281.01h1M354.2 281.01h1M356.2 281.01h1M363.2 281.01h1M367.2 281.01h1M370.2 281.01h1M374.2 281.01h1M380.2 281.01h2M384.2 281.01h1M398.2 281.01h1M409.2 281.01h2M424.2 281.01h1M431.2 281.01h1M444.2 281.01h1M447.2 281.01h1M465.2 281.01h1M471.2 281.01h3M353.2 288.27h1M375.2 288.27h1M378.2 288.27h1M383.2 288.27h1M386.2 288.27h1M394.2 288.27h1M399.2 288.27h1M406.2 288.27h1M423.2 288.27h1M431.2 288.27h1M454.2 288.27h1M464.2 288.27h2M475.2 288.27h1M333.2 295.53h1M336.2 295.53h2M339.2 295.53h1M347.2 295.53h1M349.2 295.53h1M351.2 295.53h1M354.2 295.53h1M359.2 295.53h1M376.2 295.53h1M382.2 295.53h1M384.2 295.53h1M398.2 295.53h1M402.2 295.53h1M419.2 295.53h1M426.2 295.53h1M440.2 295.53h1M442.2 295.53h1M444.2 295.53h1M459.2 295.53h1M471.2 295.53h1M320.2 302.79h1M333.2 302.79h3M366.2 302.79h1M368.2 302.79h1M376.2 302.79h1M380.2 302.79h1M382.2 302.79h1M386.2 302.79h1M397.2 302.79h1M400.2 302.79h1M420.2 302.79h1M424.2 302.79h1M428.2 302.79h1M433.2 302.79h1M440.2 302.79h1M442.2 302.79h1M448.2 302.79h1M453.2 302.79h1M459.2 302.79h2M348.2 310.05h1M352.2 310.05h1M355.2 310.05h1M362.2 310.05h1M366.2 310.05h1M369.2 310.05h1M385.2 310.05h2M397.2 310.05h1M403.2 310.05h1M408.2 310.05h1M416.2 310.05h1M424.2 310.05h1M426.2 310.05h1M428.2 310.05h1M434.2 310.05h1M442.2 310.05h3M451.2 310.05h1M469.2 310.05h1M315.2 317.31h1M337.2 317.31h2M352.2 317.31h1M357.2 317.31h1M366.2 317.31h1M383.2 317.31h1M401.2 317.31h1M403.2 317.31h1M406.2 317.31h3M412.2 317.31h2M417.2 317.31h1M427.2 317.31h2M430.2 317.31h1M440.2 317.31h1M443.2 317.31h1M446.2 317.31h1M448.2 317.31h1M450.2 317.31h1M452.2 317.31h1M459.2 317.31h1M462.2 317.31h2M465.2 317.31h1M468.2 317.31h1M341.2 324.57h1M345.2 324.57h1M365.2 324.57h1M372.2 324.57h1M389.2 324.57h1M400.2 324.57h1M404.2 324.57h1M410.2 324.57h1M414.2 324.57h1M426.2 324.57h1M434.2 324.57h2M437.2 324.57h2M460.2 324.57h1M472.2 324.57h1M475.2 324.57h1M338.2 331.83h2M350.2 331.83h2M365.2 331.83h1M372.2 331.83h1M385.2 331.83h1M389.2 331.83h1M394.2 331.83h1M401.2 331.83h1M403.2 331.83h1M422.2 331.83h1M438.2 331.83h1M440.2 331.83h1M446.2 331.83h1M450.2 331.83h1M456.2 331.83h1M461.2 331.83h1M312.2 339.09h1M334.2 339.09h1M338.2 339.09h1M340.2 339.09h1M348.2 339.09h1M350.2 339.09h1M353.2 339.09h1M369.2 339.09h3M380.2 339.09h2M385.2 339.09h1M401.2 339.09h1M409.2 339.09h1M416.2 339.09h2M425.2 339.09h2M429.2 339.09h1M433.2 339.09h1M440.2 339.09h1M450.2 339.09h1M452.2 339.09h1M457.2 339.09h1M464.2 339.09h1M338.2 346.35h2M356.2 346.35h1M359.2 346.35h1M361.2 346.35h1M366.2 346.35h1M369.2 346.35h2M378.2 346.35h1M397.2 346.35h1M414.2 346.35h1M433.2 346.35h1M444.2 346.35h1M446.2 346.35h1M453.2 346.35h2M456.2 346.35h1M458.2 346.35h1M475.2 346.35h1M335.2 353.61h1M341.2 353.61h1M349.2 353.61h1M362.2 353.61h2M369.2 353.61h1M371.2 353.61h2M376.2 353.61h1M386.2 353.61h1M392.2 353.61h1M406.2 353.61h1M425.2 353.61h2M437.2 353.61h1M440.2 353.61h1M442.2 353.61h2M445.2 353.61h1M449.2 353.61h2M333.2 360.87h1M338.2 360.87h1M365.2 360.87h2M400.2 360.87h1M403.2 360.87h1M413.2 360.87h1M419.2 360.87h1M435.2 360.87h1M438.2 360.87h1M455.2 360.87h1M457.2 360.87h2M464.2 360.87h1M472.2 360.87h1M328.2 368.13h1M333.2 368.13h1M345.2 368.13h1M351.2 368.13h1M356.2 368.13h1M358.2 368.13h1M362.2 368.13h1M365.2 368.13h1M367.2 368.13h1M370.2 368.13h2M374.2 368.13h2M377.2 368.13h1M384.2 368.13h1M387.2 368.13h1M393.2 368.13h1M426.2 368.13h1M433.2 368.13h1M438.2 368.13h2M442.2 368.13h1M454.2 368.13h1M465.2 368.13h1M338.2 375.39h1M340.2 375.39h2M347.2 375.39h1M349.2 375.39h1M358.2 375.39h3M365.2 375.39h1M368.2 375.39h1M373.2 375.39h1M377.2 375.39h1M382.2 375.39h1M384.2 375.39h1M389.2 375.39h1M396.2 375.39h2M400.2 375.39h1M417.2 375.39h1M420.2 375.39h1M434.2 375.39h3M441.2 375.39h1M445.2 375.39h2M450.2 375.39h1M457.2 375.39h1M471.2 375.39h1M313.2 382.65h1M323.2 382.65h1M346.2 382.65h1M348.2 382.65h1M358.2 382.65h1M365.2 382.65h1M370.2 382.65h3M374.2 382.65h2M395.2 382.65h1M406.2 382.65h1M409.2 382.65h1M412.2 382.65h1M418.2 382.65h3M432.2 382.65h1M449.2 382.65h1M462.2 382.65h1M464.2 382.65h1M327.2 389.91h1M334.2 389.91h1M337.2 389.91h1M341.2 389.91h1M369.2 389.91h1M374.2 389.91h1M382.2 389.91h1M386.2 389.91h1M403.2 389.91h1M406.2 389.91h1M419.2 389.91h1M433.2 389.91h1M438.2 389.91h1M475.2 389.91h1M315.2 397.17h1M318.2 397.17h1M335.2 397.17h3M344.2 397.17h1M354.2 397.17h1M356.2 397.17h1M360.2 397.17h1M365.2 397.17h2M370.2 397.17h1M372.2 397.17h1M377.2 397.17h1M386.2 397.17h1M395.2 397.17h1M419.2 397.17h1M448.2 397.17h1M452.2 397.17h1M461.2 397.17h1M468.2 397.17h1" stroke="#5555a0" stroke-width="7.31" fill="none"/><path d="M336.2 222.93h1M345.2 222.93h1M365.2 222.93h1M368.2 222.93h1M386.2 222.93h1M465.2 222.93h1M468.2 222.93h1M472.2 222.93h1M321.2 230.19h1M361.2 230.19h1M366.2 230.19h1M375.2 230.19h1M383.2 230.19h1M398.2 230.19h1M406.2 230.19h1M409.2 230.19h1M425.2 230.19h1M430.2 230.19h1M459.2 230.19h1M332.2 237.45h1M339.2 237.45h1M365.2 237.45h1M379.2 237.45h1M383.2 237.45h1M395.2 237.45h1M438.2 237.45h1M460.2 237.45h1M472.2 237.45h1M355.2 244.71h1M362.2 244.71h1M368.2 244.71h1M371.2 244.71h1M378.2 244.71h1M380.2 244.71h1M398.2 244.71h1M400.2 244.71h2M425.2 244.71h1M457.2 244.71h1M332.2 251.97h1M412.2 251.97h1M449.2 251.97h1M459.2 251.97h1M462.2 251.97h2M372.2 259.23h1M392.2 259.23h1M399.2 259.23h1M449.2 259.23h1M464.2 259.23h1M337.2 266.49h1M348.2 266.49h1M366.2 266.49h1M369.2 266.49h1M375.2 266.49h1M380.2 266.49h1M388.2 266.49h1M392.2 266.49h1M400.2 266.49h1M406.2 266.49h2M426.2 266.49h1M440.2 266.49h1M353.2 273.75h2M357.2 273.75h1M379.2 273.75h1M382.2 273.75h1M397.2 273.75h1M411.2 273.75h1M415.2 273.75h1M424.2 273.75h1M436.2 273.75h1M444.2 273.75h1M449.2 273.75h1M336.2 281.01h1M353.2 281.01h1M362.2 281.01h1M385.2 281.01h1M395.2 281.01h1M399.2 281.01h1M406.2 281.01h1M452.2 281.01h1M456.2 281.01h1M459.2 281.01h1M380.2 288.27h1M384.2 288.27h1M415.2 288.27h1M433.2 288.27h1M436.2 288.27h1M438.2 288.27h1M457.2 288.27h1M348.2 295.53h1M360.2 295.53h1M397.2 295.53h1M399.2 295.53h1M422.2 295.53h1M424.2 295.53h1M450.2 295.53h1M460.2 295.53h1M336.2 302.79h1M360.2 302.79h1M369.2 302.79h1M372.2 302.79h1M407.2 302.79h1M416.2 302.79h1M421.2 302.79h1M425.2 302.79h1M441.2 302.79h1M452.2 302.79h1M461.2 302.79h1M469.2 302.79h1M472.2 302.79h1M332.2 310.05h1M347.2 310.05h1M349.2 310.05h1M367.2 310.05h1M371.2 310.05h1M393.2 310.05h1M398.2 310.05h1M400.2 310.05h1M433.2 310.05h1M436.2 310.05h1M471.2 310.05h1M474.2 310.05h1M339.2 317.31h2M367.2 317.31h1M381.2 317.31h1M437.2 317.31h2M441.2 317.31h1M445.2 317.31h1M453.2 317.31h1M457.2 317.31h1M461.2 317.31h1M351.2 324.57h2M360.2 324.57h1M368.2 324.57h1M377.2 324.57h3M392.2 324.57h1M401.2 324.57h1M425.2 324.57h1M449.2 324.57h1M451.2 324.57h1M468.2 324.57h1M333.2 331.83h1M378.2 331.83h1M388.2 331.83h1M395.2 331.83h1M398.2 331.83h1M410.2 331.83h1M424.2 331.83h1M339.2 339.09h1M362.2 339.09h1M368.2 339.09h1M386.2 339.09h1M399.2 339.09h1M424.2 339.09h1M449.2 339.09h1M459.2 339.09h2M334.2 346.35h1M371.2 346.35h1M380.2 346.35h1M387.2 346.35h1M395.2 346.35h1M401.2 346.35h1M406.2 346.35h1M440.2 346.35h1M465.2 346.35h1M340.2 353.61h1M377.2 353.61h1M384.2 353.61h1M399.2 353.61h1M412.2 353.61h1M423.2 353.61h1M430.2 353.61h1M346.2 360.87h1M369.2 360.87h1M373.2 360.87h1M411.2 360.87h1M430.2 360.87h1M436.2 360.87h1M443.2 360.87h1M451.2 360.87h1M469.2 360.87h1M332.2 368.13h1M337.2 368.13h1M348.2 368.13h1M355.2 368.13h1M369.2 368.13h1M380.2 368.13h1M395.2 368.13h1M398.2 368.13h1M430.2 368.13h1M449.2 368.13h1M334.2 375.39h1M355.2 375.39h1M361.2 375.39h1M366.2 375.39h1M375.2 375.39h1M422.2 375.39h1M437.2 375.39h3M449.2 375.39h1M473.2 375.39h1M340.2 382.65h1M347.2 382.65h1M361.2 382.65h1M377.2 382.65h2M388.2 382.65h2M400.2 382.65h1M410.2 382.65h1M414.2 382.65h1M433.2 382.65h1M444.2 382.65h1M356.2 389.91h1M384.2 389.91h1M394.2 389.91h1M398.2 389.91h1M410.2 389.91h1M413.2 389.91h1M453.2 389.91h1M457.2 389.91h1M464.2 389.91h1M332.2 397.17h1M348.2 397.17h1M368.2 397.17h1M380.2 397.17h1M392.2 397.17h1M398.2 397.17h2M404.2 397.17h1M444.2 397.17h1" stroke="#2222ce" stroke-width="7.31" fill="none"/><path d="M339.2 222.93h1M342.2 222.93h1M344.2 222.93h1M420.2 222.93h1M458.2 222.93h1M310.2 230.19h1M324.2 230.19h1M331.2 230.19h1M343.2 230.19h1M416.2 230.19h1M471.2 230.19h1M317.2 237.45h1M320.2 237.45h2M324.2 237.45h1M329.2 237.45h1M341.2 237.45h1M412.2 237.45h1M419.2 237.45h1M454.2 237.45h1M466.2 237.45h1M311.2 244.71h1M315.2 244.71h1M318.2 244.71h1M324.2 244.71h2M327.2 244.71h1M391.2 244.71h1M428.2 244.71h1M447.2 244.71h1M328.2 251.97h2M343.2 251.97h1M428.2 251.97h1M311.2 259.23h1M318.2 259.23h1M321.2 259.23h1M376.2 259.23h1M405.2 259.23h1M432.2 259.23h1M446.2 259.23h1M467.2 259.23h1M474.2 259.23h1M310.2 266.49h1M312.2 266.49h1M314.2 266.49h1M323.2 266.49h1M344.2 266.49h1M391.2 266.49h1M420.2 266.49h1M311.2 273.75h1M326.2 273.75h1M390.2 273.75h1M435.2 273.75h1M466.2 273.75h1M310.2 281.01h1M335.2 281.01h1M418.2 281.01h1M432.2 281.01h1M441.2 281.01h1M470.2 281.01h1M316.2 288.27h1M325.2 288.27h1M376.2 288.27h1M397.2 288.27h1M458.2 288.27h1M466.2 288.27h1M330.2 295.53h2M345.2 295.53h1M391.2 295.53h1M454.2 295.53h1M467.2 295.53h1M331.2 302.79h1M342.2 302.79h1M353.2 302.79h1M422.2 302.79h1M427.2 302.79h1M311.2 310.05h1M323.2 310.05h1M328.2 310.05h1M335.2 310.05h1M391.2 310.05h1M349.2 317.31h1M390.2 317.31h2M393.2 317.31h1M449.2 317.31h1M466.2 317.31h1M474.2 317.31h1M316.2 324.57h1M320.2 324.57h2M329.2 324.57h1M343.2 324.57h1M422.2 324.57h1M439.2 324.57h1M466.2 324.57h1M402.2 331.83h1M471.2 331.83h1M314.2 339.09h1M316.2 339.09h3M328.2 339.09h1M432.2 339.09h1M310.2 346.35h1M315.2 346.35h1M322.2 346.35h1M324.2 346.35h2M329.2 346.35h1M335.2 346.35h1M390.2 346.35h1M416.2 346.35h1M418.2 346.35h1M432.2 346.35h1M447.2 346.35h1M311.2 353.61h1M316.2 353.61h1M320.2 353.61h3M324.2 353.61h1M331.2 353.61h1M345.2 353.61h1M394.2 353.61h1M421.2 353.61h1M466.2 353.61h1M312.2 360.87h1M316.2 360.87h1M324.2 360.87h1M327.2 360.87h1M344.2 360.87h1M426.2 360.87h1M439.2 360.87h1M465.2 360.87h1M310.2 368.13h1M315.2 368.13h1M318.2 368.13h1M324.2 368.13h1M359.2 368.13h1M390.2 368.13h1M402.2 368.13h1M448.2 368.13h1M312.2 375.39h1M317.2 375.39h1M322.2 375.39h1M328.2 375.39h1M330.2 375.39h1M390.2 375.39h1M432.2 375.39h1M455.2 375.39h1M458.2 375.39h1M311.2 382.65h1M429.2 382.65h1M318.2 389.91h1M323.2 389.91h1M331.2 389.91h1M391.2 389.91h1M405.2 389.91h1M422.2 389.91h1M432.2 389.91h1M458.2 389.91h1M467.2 389.91h1M470.2 389.91h1M317.2 397.17h1M322.2 397.17h1M329.2 397.17h1M394.2 397.17h1M427.2 397.17h1M466.2 397.17h1" stroke="#caca3c" stroke-width="7.31" fill="none"/><path d="M341.2 222.93h1M376.2 222.93h1M390.2 222.93h1M405.2 222.93h1M317.2 230.19h1M323.2 230.19h1M329.2 230.19h1M341.2 230.19h1M344.2 230.19h1M353.2 230.19h1M356.2 230.19h1M390.2 230.19h1M426.2 230.19h1M428.2 230.19h1M316.2 237.45h1M330.2 237.45h2M343.2 237.45h1M376.2 237.45h1M387.2 237.45h1M397.2 237.45h1M422.2 237.45h1M432.2 237.45h1M440.2 237.45h1M313.2 244.71h1M316.2 244.71h2M344.2 244.71h1M349.2 244.71h1M353.2 244.71h1M427.2 244.71h1M465.2 244.71h1M327.2 251.97h1M330.2 251.97h2M341.2 251.97h1M352.2 251.97h1M357.2 251.97h1M393.2 251.97h1M421.2 251.97h1M432.2 251.97h1M467.2 251.97h1M470.2 251.97h2M324.2 259.23h1M330.2 259.23h1M475.2 259.23h1M325.2 266.49h1M327.2 266.49h1M329.2 266.49h3M341.2 266.49h1M390.2 266.49h1M405.2 266.49h1M466.2 266.49h1M470.2 266.49h1M316.2 273.75h2M319.2 273.75h1M387.2 273.75h1M458.2 273.75h1M470.2 273.75h1M473.2 273.75h1M313.2 281.01h1M316.2 281.01h1M330.2 281.01h1M344.2 281.01h1M390.2 281.01h1M404.2 281.01h1M455.2 281.01h1M457.2 281.01h1M466.2 281.01h1M315.2 288.27h1M324.2 288.27h1M327.2 288.27h1M343.2 288.27h2M374.2 288.27h1M387.2 288.27h1M405.2 288.27h1M463.2 288.27h1M473.2 288.27h1M311.2 295.53h3M320.2 295.53h1M323.2 295.53h1M328.2 295.53h2M344.2 295.53h1M416.2 295.53h2M457.2 295.53h1M466.2 295.53h1M318.2 302.79h1M323.2 302.79h2M326.2 302.79h1M390.2 302.79h1M434.2 302.79h2M443.2 302.79h1M455.2 302.79h1M310.2 310.05h1M312.2 310.05h2M315.2 310.05h2M330.2 310.05h1M342.2 310.05h1M376.2 310.05h1M394.2 310.05h1M405.2 310.05h1M418.2 310.05h1M422.2 310.05h2M432.2 310.05h1M439.2 310.05h1M456.2 310.05h1M465.2 310.05h1M468.2 310.05h1M311.2 317.31h1M318.2 317.31h1M323.2 317.31h1M327.2 317.31h1M363.2 317.31h1M389.2 317.31h1M405.2 317.31h1M421.2 317.31h1M454.2 317.31h1M467.2 317.31h1M312.2 324.57h2M390.2 324.57h1M411.2 324.57h1M418.2 324.57h1M455.2 324.57h1M465.2 324.57h1M318.2 331.83h1M326.2 331.83h1M330.2 331.83h1M344.2 331.83h1M348.2 331.83h1M356.2 331.83h1M373.2 331.83h1M377.2 331.83h1M439.2 331.83h1M455.2 331.83h1M470.2 331.83h1M311.2 339.09h1M313.2 339.09h1M315.2 339.09h1M326.2 339.09h1M352.2 339.09h1M382.2 339.09h1M391.2 339.09h1M402.2 339.09h1M434.2 339.09h2M446.2 339.09h1M454.2 339.09h1M470.2 339.09h1M316.2 346.35h1M330.2 346.35h1M345.2 346.35h1M350.2 346.35h1M376.2 346.35h1M404.2 346.35h1M415.2 346.35h1M474.2 346.35h1M313.2 353.61h1M317.2 353.61h1M344.2 353.61h1M360.2 353.61h1M405.2 353.61h1M432.2 353.61h1M446.2 353.61h1M475.2 353.61h1M313.2 360.87h2M323.2 360.87h1M328.2 360.87h3M370.2 360.87h1M385.2 360.87h1M397.2 360.87h1M402.2 360.87h1M431.2 360.87h1M462.2 360.87h1M475.2 360.87h1M313.2 368.13h1M329.2 368.13h1M376.2 368.13h1M399.2 368.13h1M416.2 368.13h1M419.2 368.13h2M445.2 368.13h1M466.2 368.13h1M470.2 368.13h1M313.2 375.39h2M323.2 375.39h1M346.2 375.39h1M388.2 375.39h1M394.2 375.39h1M405.2 375.39h1M427.2 375.39h1M454.2 375.39h1M465.2 375.39h1M324.2 382.65h2M343.2 382.65h1M364.2 382.65h1M366.2 382.65h1M376.2 382.65h1M391.2 382.65h1M408.2 382.65h1M431.2 382.65h1M460.2 382.65h1M316.2 389.91h1M322.2 389.91h1M324.2 389.91h1M328.2 389.91h1M396.2 389.91h1M417.2 389.91h1M435.2 389.91h1M316.2 397.17h1M325.2 397.17h1M331.2 397.17h1M382.2 397.17h1M385.2 397.17h1M402.2 397.17h1M405.2 397.17h1M428.2 397.17h1" stroke="#b8b84e" stroke-width="7.31" fill="none"/><path d="M348.2 222.93h1M369.2 222.93h1M436.2 237.45h1M452.2 237.45h1M459.2 244.71h1M461.2 266.49h1M410.2 273.75h1M386.2 281.01h1M472.2 288.27h1M369.2 295.53h1M378.2 295.53h1M392.2 295.53h1M436.2 295.53h1M362.2 302.79h1M401.2 302.79h1M437.2 302.79h1M379.2 310.05h1M436.2 317.31h1M355.2 324.57h1M436.2 324.57h1M445.2 324.57h1M408.2 331.83h1M469.2 339.09h1M362.2 346.35h1M385.2 346.35h1M378.2 353.61h1M380.2 353.61h1M474.2 353.61h1M386.2 360.87h1M332.2 375.39h1M412.2 375.39h1M461.2 375.39h1M369.2 382.65h1M332.2 389.91h1M361.2 389.91h1M409.2 397.17h1" stroke="#15159d" stroke-width="7.31" fill="none"/><path d="M387.2 222.93h1M399.2 222.93h1M409.2 222.93h1M430.2 222.93h1M438.2 222.93h1M449.2 222.93h1M355.2 230.19h1M424.2 230.19h1M442.2 230.19h2M449.2 230.19h1M452.2 230.19h1M346.2 237.45h1M372.2 237.45h1M392.2 237.45h1M398.2 237.45h1M453.2 237.45h1M339.2 244.71h1M382.2 244.71h1M399.2 244.71h1M410.2 244.71h2M444.2 244.71h1M449.2 244.71h1M336.2 251.97h1M348.2 251.97h1M372.2 251.97h1M380.2 251.97h1M436.2 251.97h1M472.2 251.97h1M388.2 259.23h1M400.2 259.23h1M444.2 259.23h1M453.2 259.23h1M336.2 266.49h1M347.2 266.49h1M361.2 266.49h1M411.2 266.49h1M437.2 266.49h1M464.2 266.49h1M332.2 273.75h1M362.2 273.75h1M371.2 273.75h2M380.2 273.75h1M407.2 273.75h1M333.2 281.01h1M337.2 281.01h2M366.2 281.01h1M387.2 281.01h1M435.2 281.01h1M338.2 288.27h2M355.2 288.27h1M361.2 288.27h2M379.2 288.27h1M403.2 288.27h1M440.2 288.27h1M383.2 295.53h1M386.2 295.53h1M453.2 295.53h1M339.2 302.79h1M378.2 302.79h1M384.2 302.79h1M387.2 302.79h1M399.2 302.79h1M430.2 302.79h1M338.2 310.05h1M354.2 310.05h1M365.2 310.05h1M372.2 310.05h1M377.2 310.05h1M382.2 310.05h2M404.2 310.05h1M407.2 310.05h1M412.2 310.05h1M440.2 310.05h1M462.2 310.05h1M355.2 317.31h1M358.2 317.31h1M475.2 317.31h1M358.2 324.57h1M362.2 324.57h1M384.2 324.57h1M397.2 324.57h1M456.2 324.57h1M355.2 331.83h1M380.2 331.83h2M426.2 331.83h1M436.2 331.83h1M378.2 339.09h1M411.2 339.09h1M419.2 339.09h1M430.2 339.09h1M348.2 346.35h1M409.2 346.35h1M442.2 346.35h1M449.2 346.35h1M469.2 346.35h1M472.2 346.35h1M333.2 353.61h1M347.2 353.61h1M368.2 353.61h1M401.2 353.61h1M416.2 353.61h1M461.2 353.61h1M337.2 360.87h1M339.2 360.87h1M348.2 360.87h1M361.2 360.87h1M384.2 360.87h1M334.2 368.13h1M361.2 368.13h1M378.2 368.13h1M386.2 368.13h1M409.2 368.13h1M436.2 368.13h1M440.2 368.13h1M460.2 368.13h1M362.2 375.39h1M379.2 375.39h1M386.2 382.65h2M399.2 382.65h1M459.2 382.65h1M350.2 389.91h1M353.2 389.91h1M370.2 389.91h1M372.2 389.91h1M357.2 397.17h1M410.2 397.17h1M424.2 397.17h1M436.2 397.17h2M443.2 397.17h1M459.2 397.17h1" stroke="#1d1dc0" stroke-width="7.31" fill="none"/><path d="M404.2 222.93h1M386.2 230.19h1M453.2 230.19h1M469.2 230.19h1M333.2 237.45h1M366.2 237.45h2M369.2 237.45h1M406.2 237.45h1M397.2 244.71h1M392.2 251.97h1M451.2 251.97h1M333.2 259.23h1M339.2 259.23h1M437.2 259.23h1M452.2 259.23h1M362.2 266.49h1M379.2 266.49h1M445.2 273.75h1M372.2 281.01h1M378.2 281.01h1M449.2 281.01h1M460.2 281.01h1M369.2 288.27h1M395.2 288.27h1M437.2 288.27h1M355.2 295.53h1M461.2 295.53h1M358.2 302.79h1M381.2 302.79h1M389.2 302.79h1M392.2 302.79h1M449.2 310.05h1M452.2 310.05h1M332.2 317.31h1M369.2 317.31h1M399.2 317.31h1M373.2 324.57h1M334.2 331.83h1M366.2 331.83h1M392.2 331.83h1M333.2 339.09h1M360.2 339.09h1M473.2 339.09h1M386.2 346.35h1M459.2 346.35h1M361.2 353.61h1M379.2 353.61h1M396.2 353.61h1M436.2 353.61h1M444.2 353.61h1M334.2 360.87h1M366.2 368.13h1M410.2 368.13h1M453.2 368.13h1M356.2 375.39h1M380.2 375.39h1M339.2 382.65h1M348.2 389.91h1M371.2 389.91h1M449.2 389.91h1M451.2 389.91h1M459.2 389.91h1M469.2 389.91h1M425.2 397.17h1M460.2 397.17h1M473.2 397.17h1" stroke="#1919af" stroke-width="7.31" fill="none"/><path d="M437.2 222.93h1M379.2 230.19h1M456.2 230.19h1M351.2 237.45h1M369.2 251.97h1M381.2 251.97h1M437.2 251.97h1M379.2 259.23h1M410.2 266.49h1M437.2 273.75h1M452.2 273.75h1M453.2 281.01h1M375.2 295.53h1M443.2 295.53h1M378.2 310.05h1M361.2 324.57h1M392.2 339.09h1M410.2 346.35h1M338.2 353.61h1M400.2 353.61h1M414.2 360.87h1M369.2 375.39h1M409.2 389.91h1M414.2 397.17h1" stroke="#11117d" stroke-width="7.31" fill="none"/><path d="M316.2 251.97h1M326.2 251.97h1M320.2 281.01h1M323.2 288.27h1M467.2 302.79h1M325.2 310.05h1M331.2 310.05h1M310.2 324.57h1M317.2 324.57h1M326.2 324.57h1M326.2 346.35h1" stroke="#f3f310" stroke-width="7.31" fill="none"/><path d="M310.2 259.23h1M326.2 266.49h1M318.2 273.75h1M310.2 288.27h1M310.2 295.53h1M325.2 295.53h1M428.2 295.53h1M312.2 317.31h1M467.2 331.83h1M310.2 339.09h1M325.2 339.09h1M325.2 353.61h2M310.2 360.87h1M325.2 360.87h1M326.2 375.39h1M310.2 382.65h1M326.2 382.65h1M310.2 397.17h1M323.2 397.17h1" stroke="#efef15" stroke-width="7.31" fill="none"/></g>
<rect x="331.4" y="216.6" width="1.5" height="184.2" fill="#000"/>
<text x="478.7" y="226.54" font-size="6.3" text-anchor="start" fill="#1a1a1a" stroke="#1a1a1a" stroke-width="0.08">HIST1H2BK</text>
<text x="478.7" y="233.71" font-size="6.3" text-anchor="start" fill="#1a1a1a" stroke="#1a1a1a" stroke-width="0.08">FEN1</text>
<text x="478.7" y="240.89" font-size="6.3" text-anchor="start" fill="#1a1a1a" stroke="#1a1a1a" stroke-width="0.08">PRPF19</text>
<text x="478.7" y="248.06" font-size="6.3" text-anchor="start" fill="#1a1a1a" stroke="#1a1a1a" stroke-width="0.08">XRCC6</text>
<text x="478.7" y="255.24" font-size="6.3" text-anchor="start" fill="#1a1a1a" stroke="#1a1a1a" stroke-width="0.08">POLR2E</text>
<text x="478.7" y="262.41" font-size="6.3" text-anchor="start" fill="#1a1a1a" stroke="#1a1a1a" stroke-width="0.08">PPIE</text>
<text x="478.7" y="269.59" font-size="6.3" text-anchor="start" fill="#1a1a1a" stroke="#1a1a1a" stroke-width="0.08">RPA2</text>
<text x="478.7" y="276.76" font-size="6.3" text-anchor="start" fill="#1a1a1a" stroke="#1a1a1a" stroke-width="0.08">SUMO3</text>
<text x="478.7" y="283.94" font-size="6.3" text-anchor="start" fill="#1a1a1a" stroke="#1a1a1a" stroke-width="0.08">UBE2T</text>
<text x="478.7" y="291.11" font-size="6.3" text-anchor="start" fill="#1a1a1a" stroke="#1a1a1a" stroke-width="0.08">PPP4C</text>
<text x="478.7" y="298.29" font-size="6.3" text-anchor="start" fill="#1a1a1a" stroke="#1a1a1a" stroke-width="0.08">USP1</text>
<text x="478.7" y="305.46" font-size="6.3" text-anchor="start" fill="#1a1a1a" stroke="#1a1a1a" stroke-width="0.08">XRCC5</text>
<text x="478.7" y="312.64" font-size="6.3" text-anchor="start" fill="#1a1a1a" stroke="#1a1a1a" stroke-width="0.08">ACTB</text>
<text x="478.7" y="319.81" font-size="6.3" text-anchor="start" fill="#1a1a1a" stroke="#1a1a1a" stroke-width="0.08">POLR2L</text>
<text x="478.7" y="326.99" font-size="6.3" text-anchor="start" fill="#1a1a1a" stroke="#1a1a1a" stroke-width="0.08">POLR2F</text>
<text x="478.7" y="334.16" font-size="6.3" text-anchor="start" fill="#1a1a1a" stroke="#1a1a1a" stroke-width="0.08">CCNA2</text>
<text x="478.7" y="341.34" font-size="6.3" text-anchor="start" fill="#1a1a1a" stroke="#1a1a1a" stroke-width="0.08">POLD2</text>
<text x="478.7" y="348.51" font-size="6.3" text-anchor="start" fill="#1a1a1a" stroke="#1a1a1a" stroke-width="0.08">UBB</text>
<text x="478.7" y="355.69" font-size="6.3" text-anchor="start" fill="#1a1a1a" stroke="#1a1a1a" stroke-width="0.08">HMGN1</text>
<text x="478.7" y="362.86" font-size="6.3" text-anchor="start" fill="#1a1a1a" stroke="#1a1a1a" stroke-width="0.08">CLSPN</text>
<text x="478.7" y="370.04" font-size="6.3" text-anchor="start" fill="#1a1a1a" stroke="#1a1a1a" stroke-width="0.08">APEX1</text>
<text x="478.7" y="377.21" font-size="6.3" text-anchor="start" fill="#1a1a1a" stroke="#1a1a1a" stroke-width="0.08">HIST1H4C</text>
<text x="478.7" y="384.39" font-size="6.3" text-anchor="start" fill="#1a1a1a" stroke="#1a1a1a" stroke-width="0.08">UBE2N</text>
<text x="478.7" y="391.56" font-size="6.3" text-anchor="start" fill="#1a1a1a" stroke="#1a1a1a" stroke-width="0.08">KPNA2</text>
<text x="478.7" y="398.74" font-size="6.3" text-anchor="start" fill="#1a1a1a" stroke="#1a1a1a" stroke-width="0.08">PCNA</text>
<defs><linearGradient id="gD" x1="0" x2="1"><stop offset="0" stop-color="#000"/><stop offset="0.1" stop-color="#000040"/><stop offset="0.3" stop-color="#1818d0"/><stop offset="0.4" stop-color="#2a2af0"/><stop offset="0.5" stop-color="#8c8c9a"/><stop offset="0.62" stop-color="#dede30"/><stop offset="0.68" stop-color="#ffff00"/><stop offset="1" stop-color="#ffff00"/></linearGradient></defs>
<rect x="441.1" y="404.5" width="63.8" height="5.5" fill="url(#gD)"/>
<line x1="449.6" y1="410" x2="449.6" y2="412" stroke="#222" stroke-width="0.8"/>
<text x="449.6" y="420.46" font-size="7.2" text-anchor="middle" fill="#222" stroke="#222" stroke-width="0.08">-4</text>
<line x1="461" y1="410" x2="461" y2="412" stroke="#222" stroke-width="0.8"/>
<text x="461" y="420.46" font-size="7.2" text-anchor="middle" fill="#222" stroke="#222" stroke-width="0.08">-2</text>
<line x1="472.8" y1="410" x2="472.8" y2="412" stroke="#222" stroke-width="0.8"/>
<text x="472.8" y="420.46" font-size="7.2" text-anchor="middle" fill="#222" stroke="#222" stroke-width="0.08">0</text>
<line x1="484" y1="410" x2="484" y2="412" stroke="#222" stroke-width="0.8"/>
<text x="484" y="420.46" font-size="7.2" text-anchor="middle" fill="#222" stroke="#222" stroke-width="0.08">2</text>
<line x1="496.2" y1="410" x2="496.2" y2="412" stroke="#222" stroke-width="0.8"/>
<text x="496.2" y="420.46" font-size="7.2" text-anchor="middle" fill="#222" stroke="#222" stroke-width="0.08">4</text>
<text x="0" y="2.98" font-size="8.4" text-anchor="middle" fill="#222" transform="translate(470.9 429.3) scale(0.78 1)" stroke="#222" stroke-width="0.25">Row Z-score</text>
<text x="7.8" y="369.38" font-size="11.2" text-anchor="start" fill="#000" font-weight="bold" stroke="#000" stroke-width="0.35">C</text>
<text x="66.6" y="383.96" font-size="8.9" text-anchor="middle" fill="#222" stroke="#222" stroke-width="0.08">Patient 1</text>
<path d="M46.2 439.1L46.2 411.5L58.2 395.16L69.9 396.13L82 395.16L93.7 399.67L93.7 439.1Z" fill="#1e9163"/>
<line x1="40.1" y1="389" x2="40.1" y2="439.7" stroke="#111" stroke-width="1.2"/>
<line x1="39.5" y1="439.1" x2="96.4" y2="439.1" stroke="#111" stroke-width="1.2"/>
<line x1="37.5" y1="439.1" x2="40.1" y2="439.1" stroke="#111" stroke-width="0.9"/>
<text x="34.2" y="441.94" font-size="8" text-anchor="end" fill="#222" stroke="#222" stroke-width="0.08">0</text>
<line x1="37.5" y1="429.79" x2="40.1" y2="429.79" stroke="#111" stroke-width="0.9"/>
<text x="34.2" y="432.63" font-size="8" text-anchor="end" fill="#222" stroke="#222" stroke-width="0.08">20</text>
<line x1="37.5" y1="420.48" x2="40.1" y2="420.48" stroke="#111" stroke-width="0.9"/>
<text x="34.2" y="423.32" font-size="8" text-anchor="end" fill="#222" stroke="#222" stroke-width="0.08">40</text>
<line x1="37.5" y1="411.17" x2="40.1" y2="411.17" stroke="#111" stroke-width="0.9"/>
<text x="34.2" y="414.01" font-size="8" text-anchor="end" fill="#222" stroke="#222" stroke-width="0.08">60</text>
<line x1="37.5" y1="401.86" x2="40.1" y2="401.86" stroke="#111" stroke-width="0.9"/>
<text x="34.2" y="404.7" font-size="8" text-anchor="end" fill="#222" stroke="#222" stroke-width="0.08">80</text>
<line x1="37.5" y1="392.55" x2="40.1" y2="392.55" stroke="#111" stroke-width="0.9"/>
<text x="34.2" y="395.39" font-size="8" text-anchor="end" fill="#222" stroke="#222" stroke-width="0.08">100</text>
<line x1="46.2" y1="439.1" x2="46.2" y2="441.7" stroke="#111" stroke-width="0.9"/>
<text x="0" y="0" font-size="7.9" text-anchor="end" fill="#222" transform="translate(48.4 446.1) rotate(-45)">MEP</text>
<line x1="58.2" y1="439.1" x2="58.2" y2="441.7" stroke="#111" stroke-width="0.9"/>
<text x="0" y="0" font-size="7.9" text-anchor="end" fill="#222" transform="translate(60.4 446.1) rotate(-45)">HSC</text>
<line x1="69.9" y1="439.1" x2="69.9" y2="441.7" stroke="#111" stroke-width="0.9"/>
<text x="0" y="0" font-size="7.9" text-anchor="end" fill="#222" transform="translate(72.1 446.1) rotate(-45)">GMP</text>
<line x1="82" y1="439.1" x2="82" y2="441.7" stroke="#111" stroke-width="0.9"/>
<text x="0" y="0" font-size="7.9" text-anchor="end" fill="#222" transform="translate(84.2 446.1) rotate(-45)">ProB</text>
<line x1="93.7" y1="439.1" x2="93.7" y2="441.7" stroke="#111" stroke-width="0.9"/>
<text x="0" y="0" font-size="7.9" text-anchor="end" fill="#222" transform="translate(95.9 446.1) rotate(-45)">ETP</text>
<text x="0" y="2.91" font-size="8.2" text-anchor="middle" fill="#222" transform="translate(12.1 414.2) rotate(-90) scale(0.8 1)" stroke="#222" stroke-width="0.25">Monosomy 7 cells %</text>
<text x="164.5" y="383.96" font-size="8.9" text-anchor="middle" fill="#222" stroke="#222" stroke-width="0.08">Patient 2</text>
<path d="M144.8 439.1L144.8 398.65L159.9 396.74L174.5 392.36L189.9 415.59L189.9 439.1Z" fill="#1597b1"/>
<line x1="137.7" y1="389" x2="137.7" y2="439.7" stroke="#111" stroke-width="1.2"/>
<line x1="137.1" y1="439.1" x2="192.6" y2="439.1" stroke="#111" stroke-width="1.2"/>
<line x1="135.1" y1="439.1" x2="137.7" y2="439.1" stroke="#111" stroke-width="0.9"/>
<text x="131.8" y="441.94" font-size="8" text-anchor="end" fill="#222" stroke="#222" stroke-width="0.08">0</text>
<line x1="135.1" y1="429.79" x2="137.7" y2="429.79" stroke="#111" stroke-width="0.9"/>
<text x="131.8" y="432.63" font-size="8" text-anchor="end" fill="#222" stroke="#222" stroke-width="0.08">20</text>
<line x1="135.1" y1="420.48" x2="137.7" y2="420.48" stroke="#111" stroke-width="0.9"/>
<text x="131.8" y="423.32" font-size="8" text-anchor="end" fill="#222" stroke="#222" stroke-width="0.08">40</text>
<line x1="135.1" y1="411.17" x2="137.7" y2="411.17" stroke="#111" stroke-width="0.9"/>
<text x="131.8" y="414.01" font-size="8" text-anchor="end" fill="#222" stroke="#222" stroke-width="0.08">60</text>
<line x1="135.1" y1="401.86" x2="137.7" y2="401.86" stroke="#111" stroke-width="0.9"/>
<text x="131.8" y="404.7" font-size="8" text-anchor="end" fill="#222" stroke="#222" stroke-width="0.08">80</text>
<line x1="135.1" y1="392.55" x2="137.7" y2="392.55" stroke="#111" stroke-width="0.9"/>
<text x="131.8" y="395.39" font-size="8" text-anchor="end" fill="#222" stroke="#222" stroke-width="0.08">100</text>
<line x1="144.8" y1="439.1" x2="144.8" y2="441.7" stroke="#111" stroke-width="0.9"/>
<text x="0" y="0" font-size="7.9" text-anchor="end" fill="#222" transform="translate(147 446.1) rotate(-45)">MEP</text>
<line x1="159.9" y1="439.1" x2="159.9" y2="441.7" stroke="#111" stroke-width="0.9"/>
<text x="0" y="0" font-size="7.9" text-anchor="end" fill="#222" transform="translate(162.1 446.1) rotate(-45)">HSC</text>
<line x1="174.5" y1="439.1" x2="174.5" y2="441.7" stroke="#111" stroke-width="0.9"/>
<text x="0" y="0" font-size="7.9" text-anchor="end" fill="#222" transform="translate(176.7 446.1) rotate(-45)">GMP</text>
<line x1="189.9" y1="439.1" x2="189.9" y2="441.7" stroke="#111" stroke-width="0.9"/>
<text x="0" y="0" font-size="7.9" text-anchor="end" fill="#222" transform="translate(192.1 446.1) rotate(-45)">ETP</text>
<text x="0" y="2.91" font-size="8.2" text-anchor="middle" fill="#222" transform="translate(109.6 414.2) rotate(-90) scale(0.8 1)" stroke="#222" stroke-width="0.25">Trisomy 8 cells %</text>
<text x="261.6" y="383.96" font-size="8.9" text-anchor="middle" fill="#222" stroke="#222" stroke-width="0.08">Patient 8</text>
<path d="M239.6 439.1L239.6 421.88L251.5 400.74L263.3 407.77L275.4 392.55L287.2 427.46L287.2 439.1Z" fill="#8c519a"/>
<line x1="233.7" y1="389" x2="233.7" y2="439.7" stroke="#111" stroke-width="1.2"/>
<line x1="233.1" y1="439.1" x2="289.8" y2="439.1" stroke="#111" stroke-width="1.2"/>
<line x1="231.1" y1="439.1" x2="233.7" y2="439.1" stroke="#111" stroke-width="0.9"/>
<text x="227.8" y="441.94" font-size="8" text-anchor="end" fill="#222" stroke="#222" stroke-width="0.08">0</text>
<line x1="231.1" y1="429.79" x2="233.7" y2="429.79" stroke="#111" stroke-width="0.9"/>
<text x="227.8" y="432.63" font-size="8" text-anchor="end" fill="#222" stroke="#222" stroke-width="0.08">20</text>
<line x1="231.1" y1="420.48" x2="233.7" y2="420.48" stroke="#111" stroke-width="0.9"/>
<text x="227.8" y="423.32" font-size="8" text-anchor="end" fill="#222" stroke="#222" stroke-width="0.08">40</text>
<line x1="231.1" y1="411.17" x2="233.7" y2="411.17" stroke="#111" stroke-width="0.9"/>
<text x="227.8" y="414.01" font-size="8" text-anchor="end" fill="#222" stroke="#222" stroke-width="0.08">60</text>
<line x1="231.1" y1="401.86" x2="233.7" y2="401.86" stroke="#111" stroke-width="0.9"/>
<text x="227.8" y="404.7" font-size="8" text-anchor="end" fill="#222" stroke="#222" stroke-width="0.08">80</text>
<line x1="231.1" y1="392.55" x2="233.7" y2="392.55" stroke="#111" stroke-width="0.9"/>
<text x="227.8" y="395.39" font-size="8" text-anchor="end" fill="#222" stroke="#222" stroke-width="0.08">100</text>
<line x1="239.6" y1="439.1" x2="239.6" y2="441.7" stroke="#111" stroke-width="0.9"/>
<text x="0" y="0" font-size="7.9" text-anchor="end" fill="#222" transform="translate(241.8 446.1) rotate(-45)">MEP</text>
<line x1="251.5" y1="439.1" x2="251.5" y2="441.7" stroke="#111" stroke-width="0.9"/>
<text x="0" y="0" font-size="7.9" text-anchor="end" fill="#222" transform="translate(253.7 446.1) rotate(-45)">HSC</text>
<line x1="263.3" y1="439.1" x2="263.3" y2="441.7" stroke="#111" stroke-width="0.9"/>
<text x="0" y="0" font-size="7.9" text-anchor="end" fill="#222" transform="translate(265.5 446.1) rotate(-45)">GMP</text>
<line x1="275.4" y1="439.1" x2="275.4" y2="441.7" stroke="#111" stroke-width="0.9"/>
<text x="0" y="0" font-size="7.9" text-anchor="end" fill="#222" transform="translate(277.6 446.1) rotate(-45)">ProB</text>
<line x1="287.2" y1="439.1" x2="287.2" y2="441.7" stroke="#111" stroke-width="0.9"/>
<text x="0" y="0" font-size="7.9" text-anchor="end" fill="#222" transform="translate(289.4 446.1) rotate(-45)">ETP</text>
<text x="0" y="2.91" font-size="8.2" text-anchor="middle" fill="#222" transform="translate(205.8 414.2) rotate(-90) scale(0.8 1)" stroke="#222" stroke-width="0.25">Complex cells %</text>
<line x1="52.9" y1="465.4" x2="40" y2="465.4" stroke="#d3358f" stroke-width="1"/>
<path d="M37 465.4L44.5 463L42.2 465.4L44.5 467.8Z" fill="#d3358f"/>
<line x1="63.5" y1="465.4" x2="91.6" y2="465.4" stroke="#3b3b9a" stroke-width="1"/>
<path d="M94.6 465.4L87.1 463L89.4 465.4L87.1 467.8Z" fill="#2c2c8c"/>
<line x1="151.4" y1="465.4" x2="139" y2="465.4" stroke="#d3358f" stroke-width="1"/>
<path d="M136 465.4L143.5 463L141.2 465.4L143.5 467.8Z" fill="#d3358f"/>
<line x1="162.8" y1="465.4" x2="190.1" y2="465.4" stroke="#3b3b9a" stroke-width="1"/>
<path d="M193.1 465.4L185.6 463L187.9 465.4L185.6 467.8Z" fill="#2c2c8c"/>
<line x1="245.8" y1="465.4" x2="232.9" y2="465.4" stroke="#d3358f" stroke-width="1"/>
<path d="M229.9 465.4L237.4 463L235.1 465.4L237.4 467.8Z" fill="#d3358f"/>
<line x1="257" y1="465.4" x2="285.1" y2="465.4" stroke="#3b3b9a" stroke-width="1"/>
<path d="M288.1 465.4L280.6 463L282.9 465.4L280.6 467.8Z" fill="#2c2c8c"/>
<text x="7.4" y="484.38" font-size="11.2" text-anchor="start" fill="#000" font-weight="bold" stroke="#000" stroke-width="0.35">E</text>
<text x="63.8" y="492.83" font-size="9.1" text-anchor="start" fill="#222" stroke="#222" stroke-width="0.08">Upregulated genes in trisomy 8 cells</text>
<line x1="63.8" y1="493.9" x2="210.6" y2="493.9" stroke="#222" stroke-width="0.6"/>
<g stroke="#6d6d6d" stroke-width="0.6"><line x1="58" y1="525.5" x2="70" y2="543.8"/><line x1="85.8" y1="519.5" x2="70" y2="543.8"/><line x1="110" y1="518" x2="93.8" y2="535.5"/><line x1="110" y1="518" x2="121.3" y2="544.3"/><line x1="110" y1="518" x2="129.2" y2="567"/><line x1="147.5" y1="522.5" x2="93.8" y2="535.5"/><line x1="147.5" y1="522.5" x2="86" y2="551.8"/><line x1="147.5" y1="522.5" x2="121.3" y2="544.3"/><line x1="147.5" y1="522.5" x2="129.2" y2="567"/><line x1="147.5" y1="522.5" x2="146.3" y2="544.3"/><line x1="93.8" y1="535.5" x2="86" y2="551.8"/><line x1="93.8" y1="535.5" x2="129.2" y2="567"/><line x1="93.8" y1="535.5" x2="175.8" y2="574.5"/><line x1="40" y1="540.5" x2="71.8" y2="566.3"/><line x1="37.5" y1="563" x2="67.5" y2="580"/><line x1="86" y1="551.8" x2="129.2" y2="567"/><line x1="86" y1="551.8" x2="121.3" y2="544.3"/><line x1="86" y1="551.8" x2="71.8" y2="566.3"/><line x1="89.4" y1="570.5" x2="83" y2="590.4"/><line x1="89.4" y1="570.5" x2="64.3" y2="595.8"/><line x1="104.5" y1="580.5" x2="83" y2="590.4"/><line x1="104.5" y1="580.5" x2="129.2" y2="567"/><line x1="129.2" y1="567" x2="121.3" y2="544.3"/><line x1="129.2" y1="567" x2="146.3" y2="544.3"/><line x1="129.2" y1="567" x2="169.3" y2="552"/><line x1="129.2" y1="567" x2="175.8" y2="574.5"/><line x1="129.2" y1="567" x2="158.8" y2="583.3"/><line x1="137.5" y1="583" x2="112.5" y2="593.8"/><line x1="129.2" y1="567" x2="112.5" y2="593.8"/><line x1="146.3" y1="544.3" x2="172.5" y2="522"/><line x1="146.3" y1="544.3" x2="193" y2="533.3"/><line x1="146.3" y1="544.3" x2="175.8" y2="574.5"/><line x1="169.3" y1="552" x2="185.5" y2="552"/><line x1="185.5" y1="552" x2="208.3" y2="552"/><line x1="208.3" y1="552" x2="222.5" y2="570.5"/><line x1="185.5" y1="552" x2="175.8" y2="574.5"/><line x1="121.3" y1="544.3" x2="175.8" y2="574.5"/><line x1="158.8" y1="583.3" x2="177.5" y2="593"/><line x1="158.8" y1="583.3" x2="157.5" y2="605"/><line x1="157.5" y1="605" x2="177.5" y2="593"/><line x1="177.5" y1="593" x2="193.3" y2="585.8"/><line x1="193.3" y1="585.8" x2="213" y2="595"/><line x1="147.5" y1="522.5" x2="86" y2="551.8"/><line x1="121.3" y1="544.3" x2="146.3" y2="544.3"/><line x1="86" y1="551.8" x2="146.3" y2="544.3"/><line x1="129.2" y1="567" x2="185.5" y2="552"/><line x1="70" y1="543.8" x2="71.8" y2="566.3"/><line x1="71.8" y1="566.3" x2="67.5" y2="580"/><line x1="86" y1="551.8" x2="175.8" y2="574.5"/><line x1="93.8" y1="535.5" x2="121.3" y2="544.3"/><line x1="89.4" y1="570.5" x2="86" y2="551.8"/></g>
<g stroke="#999" stroke-width="0.6" stroke-dasharray="2 1.2"><line x1="110" y1="518" x2="147.5" y2="522.5"/><line x1="147.5" y1="522.5" x2="172.5" y2="522"/></g>
<g stroke="#aaa" stroke-width="0.5"><line x1="89.4" y1="569.2" x2="129.2" y2="566"/><line x1="89.4" y1="571.4" x2="129.2" y2="567.6"/></g>
<g><circle cx="110" cy="518" r="8.4" fill="#cdf5d6"/><circle cx="147.5" cy="522.5" r="8.4" fill="#cdf5d6"/><circle cx="121.3" cy="544.3" r="8.4" fill="#cdf5d6"/><circle cx="169.3" cy="552" r="8.4" fill="#cdf5d6"/><circle cx="185.5" cy="552" r="8.4" fill="#cdf5d6"/><circle cx="208.3" cy="552" r="8.4" fill="#cdf5d6"/><circle cx="222.5" cy="570.5" r="8.4" fill="#cdf5d6"/><circle cx="71.8" cy="566.3" r="8.4" fill="#cdf5d6"/><circle cx="67.5" cy="580" r="8.4" fill="#cdf5d6"/><circle cx="104.5" cy="580.5" r="8.4" fill="#cdf5d6"/><circle cx="112.5" cy="593.8" r="8.4" fill="#cdf5d6"/><circle cx="85.8" cy="519.5" r="8.4" fill="#f9c89f"/><circle cx="172.5" cy="522" r="8.4" fill="#f9c89f"/><circle cx="193" cy="533.3" r="8.4" fill="#f9c89f"/><circle cx="40" cy="540.5" r="8.4" fill="#f9c89f"/><circle cx="70" cy="543.8" r="8.4" fill="#f9c89f"/><circle cx="37.5" cy="563" r="8.4" fill="#f9c89f"/><circle cx="64.3" cy="595.8" r="8.4" fill="#f9c89f"/><circle cx="83" cy="590.4" r="8.4" fill="#f9c89f"/><circle cx="137.5" cy="583" r="8.4" fill="#f9c89f"/><circle cx="177.5" cy="593" r="8.4" fill="#f6c6c8"/><circle cx="193.3" cy="585.8" r="8.4" fill="#f6c6c8"/><circle cx="213" cy="595" r="8.4" fill="#f6c6c8"/><circle cx="157.5" cy="605" r="8.4" fill="#f6c6c8"/><circle cx="89.4" cy="570.5" r="8.4" fill="#fcf400"/><path d="M58 517.4L66.1 525.5L58 533.6L49.9 525.5Z" fill="#e8062c"/><path d="M93.8 527.4L101.9 535.5L93.8 543.6L85.7 535.5Z" fill="#e8062c"/><path d="M86 543.7L94.1 551.8L86 559.9L77.9 551.8Z" fill="#e8062c"/><path d="M146.3 536.2L154.4 544.3L146.3 552.4L138.2 544.3Z" fill="#e8062c"/><path d="M129.2 558.9L137.3 567L129.2 575.1L121.1 567Z" fill="#e8062c"/><path d="M175.8 566.4L183.9 574.5L175.8 582.6L167.7 574.5Z" fill="#e8062c"/><path d="M158.8 575.2L166.9 583.3L158.8 591.4L150.7 583.3Z" fill="#e8062c"/></g>
<g font-size="5.4" font-weight="bold" text-anchor="middle" fill="#000"><text x="110" y="519.9">FOSB</text><text x="147.5" y="524.4">JUND</text><text x="121.3" y="546.2">COPS5</text><text x="169.3" y="553.9">BAX</text><text x="185.5" y="553.9">WRN</text><text x="208.3" y="553.9">NBN</text><text x="222.5" y="572.4">TERF1</text><text x="71.8" y="568.2">DUSP1</text><text x="67.5" y="581.9">SOX4</text><text x="104.5" y="582.4">HLA-A</text><text x="112.5" y="595.7">YWHAZ</text><text x="85.8" y="521.4">HLA-DPB1</text><text x="172.5" y="523.9">TNFSF13B</text><text x="193" y="535.2">PIM1</text><text x="40" y="542.4">DUSP2</text><text x="70" y="545.7">CD74</text><text x="37.5" y="564.9">SDC8P</text><text x="64.3" y="597.7">BST2</text><text x="83" y="592.3">HLA-B</text><text x="137.5" y="584.9">VIM</text><text x="177.5" y="594.9">HBA2</text><text x="193.3" y="587.7">ALAS2</text><text x="213" y="596.9">HMBS</text><text x="157.5" y="606.9">HBA1</text><text x="89.4" y="572.4">IRF1</text><text x="58" y="527.4">HLA-DRA</text><text x="93.8" y="537.4">JUNB</text><text x="86" y="553.7">FOS</text><text x="146.3" y="546.2">MCL1</text><text x="129.2" y="568.9">JUN</text><text x="175.8" y="576.4">CDKN2A</text><text x="158.8" y="585.2">HBG2</text></g>
<ellipse cx="42.5" cy="616.3" rx="5.2" ry="3.0" fill="#80e6be"/>
<ellipse cx="42.5" cy="628.0" rx="5.2" ry="3.0" fill="#ffb400"/>
<ellipse cx="42.5" cy="639.5" rx="5.2" ry="3.0" fill="#e6b5b8"/>
<path d="M36.2 651.3L42.5 648.2L48.8 651.3L42.5 654.4Z" fill="#e00018"/>
<text x="52.4" y="618.82" font-size="7.1" text-anchor="start" fill="#333" stroke="#333" stroke-width="0.08">Stem cell functions</text>
<text x="52.4" y="630.52" font-size="7.1" text-anchor="start" fill="#333" stroke="#333" stroke-width="0.08">Immune response</text>
<text x="52.4" y="642.02" font-size="7.1" text-anchor="start" fill="#333" stroke="#333" stroke-width="0.08">Erythroid lineage</text>
<text x="52.4" y="653.82" font-size="7.1" text-anchor="start" fill="#333" stroke="#333" stroke-width="0.08">Shared ≥ 2 pathways</text>
<text x="264.7" y="484.48" font-size="11.2" text-anchor="start" fill="#000" font-weight="bold" stroke="#000" stroke-width="0.35">F</text>
<text x="301.2" y="493.33" font-size="9.1" text-anchor="start" fill="#222" stroke="#222" stroke-width="0.08">Downregulated genes in trisomy 8 cells</text>
<line x1="301.2" y1="494.4" x2="460.3" y2="494.4" stroke="#222" stroke-width="0.6"/>
<path d="M308.7 569L299.7 593.6M308.7 569L314.2 549.2M308.7 569L327.7 578M308.7 569L319.9 590.2M433.5 590.6L445.7 563.2M433.5 590.6L407 578.4M433.5 590.6L443.6 579.2M415.8 505.8L392.5 551.3M415.8 505.8L433.3 513.9M415.8 505.8L414 534.4M415.8 505.8L429.8 530.6M357.6 599.3L396.6 592.5M357.6 599.3L373 589.5M357.6 599.3L356 574M357.6 599.3L425 605.2M357.6 599.3L371 564M357.6 599.3L368 612.5M357.6 599.3L416 557.3M357.6 599.3L353.4 523.3M357.6 599.3L333.5 537.8M357.6 599.3L470.4 651.9M357.6 599.3L338.6 629.2M357.6 599.3L341.5 605M357.6 599.3L451.5 599.4M414.6 614.5L425 605.2M414.6 614.5L416 557.3M414.6 614.5L396.6 616.1M414.6 614.5L443.6 579.2M408.3 546L387.5 577.8M408.3 546L407 578.4M408.3 546L392.5 551.3M408.3 546L433.3 513.9M408.3 546L458.1 517.9M408.3 546L341.5 605M408.3 546L443.6 579.2M396.6 592.5L356 574M396.6 592.5L371 564M396.6 592.5L353.4 523.3M396.6 592.5L372 520.8M396.6 592.5L337 516.6M396.6 592.5L333.5 537.8M396.6 592.5L392.5 551.3M396.6 592.5L387.2 629.5M396.6 592.5L396.6 616.1M396.6 592.5L341.5 605M373 589.5L425 605.2M373 589.5L387.5 577.8M373 589.5L411 594M373 589.5L368 612.5M373 589.5L353.4 523.3M373 589.5L407 578.4M373 589.5L396.6 616.1M356 574L425 605.2M356 574L356 556.4M356 574L353.4 523.3M356 574L445.7 563.2M356 574L407 578.4M356 574L325.6 599.3M425 605.2L407 578.4M425 605.2L396.6 616.1M425 605.2L340 591.7M387.5 577.8L368 612.5M387.5 577.8L462.1 564.8M387.5 577.8L356 556.4M387.5 577.8L337 516.6M387.5 577.8L392.5 551.3M387.5 577.8L470.4 651.9M387.5 577.8L327.7 578M387.5 577.8L325.6 599.3M371 564L368 612.5M371 564L372 520.8M411 594L416 557.3M411 594L337 516.6M411 594L407 578.4M411 594L396.6 616.1M411 594L325.6 599.3M411 594L443.6 579.2M368 612.5L353.1 621.4M368 612.5L397.8 641.6M368 612.5L396.6 616.1M416 557.3L424.3 571.3M416 557.3L445.7 563.2M416 557.3L407 578.4M416 557.3L392.5 551.3M416 557.3L458.1 517.9M416 557.3L443.6 579.2M320.4 626.6L338.6 629.2M320.4 626.6L325.6 599.3M320.4 626.6L319.9 590.2M320.4 626.6L304.8 620.1M320.4 626.6L291.3 612.3M462.1 564.8L445.7 563.2M462.1 564.8L451.5 599.4M356 556.4L372 520.8M356 556.4L337 516.6M356 556.4L392.5 551.3M299.7 593.6L318.6 610.2M299.7 593.6L319.9 590.2M299.7 593.6L291.3 612.3M424.3 571.3L407 578.4M424.3 571.3L451.5 599.4M448.7 527.3L392.5 551.3M448.7 527.3L460 540.5M448.7 527.3L443.6 579.2M448.7 527.3L469.7 527.1M448.7 527.3L425.8 549.5M353.4 523.3L333.5 537.8M353.4 523.3L368.1 539.6M353.4 523.3L407 578.4M353.4 523.3L389 526.6M372 520.8L368.1 539.6M372 520.8L407 578.4M372 520.8L392.5 551.3M372 520.8L382.3 507.9M372 520.8L327.7 578M372 520.8L398.8 511.8M337 516.6L333.5 537.8M337 516.6L368.1 539.6M337 516.6L392.5 551.3M337 516.6L398.8 511.8M333.5 537.8L368.1 539.6M333.5 537.8L340 591.7M368.1 539.6L392.5 551.3M445.7 563.2L392.5 551.3M445.7 563.2L443.6 579.2M407 578.4L392.5 551.3M407 578.4L443.6 579.2M389 526.6L392.5 551.3M389 526.6L398.8 511.8M353.1 621.4L411.1 651M353.1 621.4L387.2 629.5M353.1 621.4L325.6 599.3M353.1 621.4L336.8 616.3M392.5 551.3L433.3 513.9M392.5 551.3L460 540.5M392.5 551.3L398.8 511.8M392.5 551.3L443.6 579.2M392.5 551.3L414 534.4M392.5 551.3L425.8 549.5M392.5 551.3L439 541.2M392.5 551.3L429.8 530.6M433.3 513.9L398.8 511.8M314.2 549.2L288.7 524.5M314.2 549.2L309.5 532.8M288.7 524.5L309.5 532.8M293.4 545.3L299.1 559.5M458.1 517.9L460 540.5M411.1 651L338.6 629.2M464.2 585.1L443.6 579.2M387.2 629.5L336.8 616.3M338.6 629.2L341.5 605M338.6 629.2L318.6 610.2M338.6 629.2L340 591.7M338.6 629.2L304.8 620.1M382.3 507.9L398.8 511.8M327.7 578L325.6 599.3M327.7 578L341.5 605M327.7 578L340 591.7M327.7 578L319.9 590.2M327.7 578L336.8 616.3M325.6 599.3L341.5 605M325.6 599.3L318.6 610.2M325.6 599.3L340 591.7M325.6 599.3L319.9 590.2M325.6 599.3L451.5 599.4M325.6 599.3L291.3 612.3M341.5 605L340 591.7M341.5 605L319.9 590.2M318.6 610.2L340 591.7M318.6 610.2L304.8 620.1M318.6 610.2L336.8 616.3M398.8 511.8L414 534.4M398.8 511.8L469.7 527.1M319.9 590.2L287.5 602.4M304.8 620.1L291.3 612.3M443.6 579.2L451.5 599.4M414 534.4L439 541.2M425.8 549.5L439 541.2M439 541.2L429.8 530.6" stroke="#707070" stroke-width="0.45" fill="none"/>
<path d="M464.2 585.1L473.3 599M464.2 585.1L451.5 599.4M464.2 585.1L489.3 611.8M464.2 585.1L468.9 611M464.2 585.1L440.3 612M464.2 585.1L432.6 625.8M464.2 585.1L490.1 624.4M464.2 585.1L414.2 629.1M464.2 585.1L473.3 630.2M464.2 585.1L397.8 641.6M464.2 585.1L442.7 639.5M464.2 585.1L461.8 640.4M464.2 585.1L484.4 644.5M464.2 585.1L411.1 651M464.2 585.1L470.4 651.9M464.2 585.1L414.6 614.5M464.2 585.1L425 605.2M464.2 585.1L433.5 590.6M473.3 599L451.5 599.4M473.3 599L489.3 611.8M473.3 599L468.9 611M473.3 599L440.3 612M473.3 599L455.2 621.8M473.3 599L432.6 625.8M473.3 599L490.1 624.4M473.3 599L387.2 629.5M473.3 599L414.2 629.1M473.3 599L473.3 630.2M473.3 599L397.8 641.6M473.3 599L423.6 641.3M473.3 599L442.7 639.5M473.3 599L461.8 640.4M473.3 599L484.4 644.5M473.3 599L411.1 651M473.3 599L470.4 651.9M473.3 599L396.6 616.1M473.3 599L414.6 614.5M473.3 599L425 605.2M473.3 599L433.5 590.6M451.5 599.4L489.3 611.8M451.5 599.4L468.9 611M451.5 599.4L440.3 612M451.5 599.4L455.2 621.8M451.5 599.4L432.6 625.8M451.5 599.4L490.1 624.4M451.5 599.4L387.2 629.5M451.5 599.4L414.2 629.1M451.5 599.4L397.8 641.6M451.5 599.4L423.6 641.3M451.5 599.4L442.7 639.5M451.5 599.4L461.8 640.4M451.5 599.4L484.4 644.5M451.5 599.4L411.1 651M451.5 599.4L470.4 651.9M451.5 599.4L396.6 616.1M451.5 599.4L414.6 614.5M451.5 599.4L425 605.2M451.5 599.4L433.5 590.6M489.3 611.8L468.9 611M489.3 611.8L440.3 612M489.3 611.8L455.2 621.8M489.3 611.8L432.6 625.8M489.3 611.8L490.1 624.4M489.3 611.8L387.2 629.5M489.3 611.8L414.2 629.1M489.3 611.8L473.3 630.2M489.3 611.8L397.8 641.6M489.3 611.8L423.6 641.3M489.3 611.8L442.7 639.5M489.3 611.8L461.8 640.4M489.3 611.8L484.4 644.5M489.3 611.8L411.1 651M489.3 611.8L470.4 651.9M489.3 611.8L396.6 616.1M489.3 611.8L414.6 614.5M489.3 611.8L425 605.2M489.3 611.8L433.5 590.6M468.9 611L440.3 612M468.9 611L455.2 621.8M468.9 611L432.6 625.8M468.9 611L490.1 624.4M468.9 611L387.2 629.5M468.9 611L414.2 629.1M468.9 611L473.3 630.2M468.9 611L397.8 641.6M468.9 611L442.7 639.5M468.9 611L461.8 640.4M468.9 611L484.4 644.5M468.9 611L411.1 651M468.9 611L470.4 651.9M468.9 611L396.6 616.1M468.9 611L414.6 614.5M468.9 611L425 605.2M468.9 611L433.5 590.6M440.3 612L432.6 625.8M440.3 612L490.1 624.4M440.3 612L387.2 629.5M440.3 612L414.2 629.1M440.3 612L473.3 630.2M440.3 612L397.8 641.6M440.3 612L423.6 641.3M440.3 612L442.7 639.5M440.3 612L461.8 640.4M440.3 612L484.4 644.5M440.3 612L411.1 651M440.3 612L470.4 651.9M440.3 612L396.6 616.1M440.3 612L414.6 614.5M440.3 612L425 605.2M440.3 612L433.5 590.6M455.2 621.8L432.6 625.8M455.2 621.8L490.1 624.4M455.2 621.8L387.2 629.5M455.2 621.8L414.2 629.1M455.2 621.8L397.8 641.6M455.2 621.8L423.6 641.3M455.2 621.8L442.7 639.5M455.2 621.8L461.8 640.4M455.2 621.8L484.4 644.5M455.2 621.8L411.1 651M455.2 621.8L470.4 651.9M455.2 621.8L396.6 616.1M455.2 621.8L414.6 614.5M455.2 621.8L425 605.2M455.2 621.8L433.5 590.6M432.6 625.8L490.1 624.4M432.6 625.8L387.2 629.5M432.6 625.8L414.2 629.1M432.6 625.8L473.3 630.2M432.6 625.8L397.8 641.6M432.6 625.8L423.6 641.3M432.6 625.8L442.7 639.5M432.6 625.8L461.8 640.4M432.6 625.8L484.4 644.5M432.6 625.8L411.1 651M432.6 625.8L470.4 651.9M432.6 625.8L396.6 616.1M432.6 625.8L414.6 614.5M432.6 625.8L425 605.2M432.6 625.8L433.5 590.6M490.1 624.4L387.2 629.5M490.1 624.4L414.2 629.1M490.1 624.4L473.3 630.2M490.1 624.4L397.8 641.6M490.1 624.4L423.6 641.3M490.1 624.4L442.7 639.5M490.1 624.4L461.8 640.4M490.1 624.4L484.4 644.5M490.1 624.4L470.4 651.9M490.1 624.4L396.6 616.1M490.1 624.4L425 605.2M490.1 624.4L433.5 590.6M387.2 629.5L414.2 629.1M387.2 629.5L473.3 630.2M387.2 629.5L397.8 641.6M387.2 629.5L423.6 641.3M387.2 629.5L442.7 639.5M387.2 629.5L461.8 640.4M387.2 629.5L484.4 644.5M387.2 629.5L411.1 651M387.2 629.5L470.4 651.9M387.2 629.5L396.6 616.1M387.2 629.5L414.6 614.5M387.2 629.5L425 605.2M387.2 629.5L433.5 590.6M414.2 629.1L473.3 630.2M414.2 629.1L397.8 641.6M414.2 629.1L423.6 641.3M414.2 629.1L442.7 639.5M414.2 629.1L461.8 640.4M414.2 629.1L484.4 644.5M414.2 629.1L411.1 651M414.2 629.1L470.4 651.9M414.2 629.1L396.6 616.1M414.2 629.1L414.6 614.5M414.2 629.1L425 605.2M473.3 630.2L397.8 641.6M473.3 630.2L423.6 641.3M473.3 630.2L442.7 639.5M473.3 630.2L461.8 640.4M473.3 630.2L484.4 644.5M473.3 630.2L411.1 651M473.3 630.2L470.4 651.9M473.3 630.2L396.6 616.1M473.3 630.2L414.6 614.5M473.3 630.2L425 605.2M473.3 630.2L433.5 590.6M397.8 641.6L423.6 641.3M397.8 641.6L442.7 639.5M397.8 641.6L461.8 640.4M397.8 641.6L484.4 644.5M397.8 641.6L411.1 651M397.8 641.6L470.4 651.9M397.8 641.6L396.6 616.1M397.8 641.6L414.6 614.5M397.8 641.6L425 605.2M397.8 641.6L433.5 590.6M423.6 641.3L442.7 639.5M423.6 641.3L461.8 640.4M423.6 641.3L484.4 644.5M423.6 641.3L411.1 651M423.6 641.3L470.4 651.9M423.6 641.3L396.6 616.1M423.6 641.3L425 605.2M423.6 641.3L433.5 590.6M442.7 639.5L461.8 640.4M442.7 639.5L484.4 644.5M442.7 639.5L411.1 651M442.7 639.5L470.4 651.9M442.7 639.5L396.6 616.1M442.7 639.5L414.6 614.5M442.7 639.5L425 605.2M442.7 639.5L433.5 590.6M461.8 640.4L484.4 644.5M461.8 640.4L411.1 651M461.8 640.4L470.4 651.9M461.8 640.4L396.6 616.1M461.8 640.4L414.6 614.5M461.8 640.4L425 605.2M461.8 640.4L433.5 590.6M484.4 644.5L411.1 651M484.4 644.5L470.4 651.9M484.4 644.5L396.6 616.1M484.4 644.5L414.6 614.5M484.4 644.5L425 605.2M484.4 644.5L433.5 590.6M411.1 651L470.4 651.9M411.1 651L396.6 616.1M411.1 651L414.6 614.5M411.1 651L425 605.2M411.1 651L433.5 590.6M470.4 651.9L396.6 616.1M470.4 651.9L414.6 614.5M470.4 651.9L425 605.2M470.4 651.9L433.5 590.6M396.6 616.1L414.6 614.5M396.6 616.1L425 605.2M396.6 616.1L433.5 590.6M414.6 614.5L425 605.2M414.6 614.5L433.5 590.6M425 605.2L433.5 590.6" stroke="#262626" stroke-width="0.45" fill="none"/>
<g stroke="#888" stroke-width="0.5" stroke-dasharray="1.5 1"><line x1="337" y1="516.6" x2="353.4" y2="523.3"/><line x1="333.5" y1="537.8" x2="368.1" y2="539.6"/><line x1="308.7" y1="569" x2="304.8" y2="620.1"/><line x1="458.1" y1="517.9" x2="460" y2="540.5"/><line x1="411.1" y1="651" x2="470.4" y2="651.9"/></g>
<g><circle cx="288.7" cy="524.5" r="5.3" fill="#f7c4f2"/><circle cx="309.5" cy="532.8" r="5.3" fill="#f7c4f2"/><circle cx="314.2" cy="549.2" r="5.3" fill="#f7c4f2"/><circle cx="293.4" cy="545.3" r="5.3" fill="#f7c4f2"/><circle cx="299.1" cy="559.5" r="5.3" fill="#f7c4f2"/><circle cx="308.7" cy="569" r="5.3" fill="#f7c4f2"/><circle cx="368.1" cy="539.6" r="5.3" fill="#f7c4f2"/><circle cx="458.1" cy="517.9" r="5.3" fill="#f7c4f2"/><circle cx="469.7" cy="527.1" r="5.3" fill="#f7c4f2"/><circle cx="448.7" cy="527.3" r="5.3" fill="#f7c4f2"/><circle cx="429.8" cy="530.6" r="5.3" fill="#f7c4f2"/><circle cx="414" cy="534.4" r="5.3" fill="#f7c4f2"/><circle cx="439" cy="541.2" r="5.3" fill="#f7c4f2"/><circle cx="460" cy="540.5" r="5.3" fill="#f7c4f2"/><circle cx="408.3" cy="546" r="5.3" fill="#f7c4f2"/><circle cx="425.8" cy="549.5" r="5.3" fill="#f7c4f2"/><circle cx="392.5" cy="551.3" r="5.3" fill="#f7c4f2"/><circle cx="416" cy="557.3" r="5.3" fill="#f7c4f2"/><circle cx="443.6" cy="579.2" r="5.3" fill="#f7c4f2"/><circle cx="337" cy="516.6" r="5.3" fill="#c4f6f8"/><circle cx="353.4" cy="523.3" r="5.3" fill="#c4f6f8"/><circle cx="372" cy="520.8" r="5.3" fill="#c4f6f8"/><circle cx="333.5" cy="537.8" r="5.3" fill="#c4f6f8"/><circle cx="382.3" cy="507.9" r="5.3" fill="#c4f6f8"/><circle cx="398.8" cy="511.8" r="5.3" fill="#c4f6f8"/><circle cx="415.8" cy="505.8" r="5.3" fill="#c4f6f8"/><circle cx="433.3" cy="513.9" r="5.3" fill="#c4f6f8"/><circle cx="389" cy="526.6" r="5.3" fill="#c4f6f8"/><circle cx="356" cy="556.4" r="5.3" fill="#c4f6f8"/><circle cx="371" cy="564" r="5.3" fill="#c4f6f8"/><circle cx="356" cy="574" r="5.3" fill="#c4f6f8"/><circle cx="327.7" cy="578" r="5.3" fill="#c4f6f8"/><circle cx="387.5" cy="577.8" r="5.3" fill="#c4f6f8"/><circle cx="407" cy="578.4" r="5.3" fill="#c4f6f8"/><circle cx="424.3" cy="571.3" r="5.3" fill="#c4f6f8"/><circle cx="445.7" cy="563.2" r="5.3" fill="#c4f6f8"/><circle cx="462.1" cy="564.8" r="5.3" fill="#c4f6f8"/><circle cx="319.9" cy="590.2" r="5.3" fill="#c4f6f8"/><circle cx="299.7" cy="593.6" r="5.3" fill="#c4f6f8"/><circle cx="340" cy="591.7" r="5.3" fill="#c4f6f8"/><circle cx="373" cy="589.5" r="5.3" fill="#c4f6f8"/><circle cx="396.6" cy="592.5" r="5.3" fill="#c4f6f8"/><circle cx="411" cy="594" r="5.3" fill="#c4f6f8"/><circle cx="433.5" cy="590.6" r="5.3" fill="#c4f6f8"/><circle cx="464.2" cy="585.1" r="5.3" fill="#c4f6f8"/><circle cx="451.5" cy="599.4" r="5.3" fill="#c4f6f8"/><circle cx="473.3" cy="599" r="5.3" fill="#c4f6f8"/><circle cx="325.6" cy="599.3" r="5.3" fill="#c4f6f8"/><circle cx="341.5" cy="605" r="5.3" fill="#c4f6f8"/><circle cx="357.6" cy="599.3" r="5.3" fill="#c4f6f8"/><circle cx="287.5" cy="602.4" r="5.3" fill="#c4f6f8"/><circle cx="291.3" cy="612.3" r="5.3" fill="#c4f6f8"/><circle cx="318.6" cy="610.2" r="5.3" fill="#c4f6f8"/><circle cx="336.8" cy="616.3" r="5.3" fill="#c4f6f8"/><circle cx="368" cy="612.5" r="5.3" fill="#c4f6f8"/><circle cx="304.8" cy="620.1" r="5.3" fill="#c4f6f8"/><circle cx="353.1" cy="621.4" r="5.3" fill="#c4f6f8"/><circle cx="320.4" cy="626.6" r="5.3" fill="#c4f6f8"/><circle cx="338.6" cy="629.2" r="5.3" fill="#c4f6f8"/><circle cx="425" cy="605.2" r="5.3" fill="#c4f6f8"/><circle cx="489.3" cy="611.8" r="5.3" fill="#c4f6f8"/><circle cx="468.9" cy="611" r="5.3" fill="#c4f6f8"/><circle cx="396.6" cy="616.1" r="5.3" fill="#c4f6f8"/><circle cx="414.6" cy="614.5" r="5.3" fill="#c4f6f8"/><circle cx="440.3" cy="612" r="5.3" fill="#c4f6f8"/><circle cx="455.2" cy="621.8" r="5.3" fill="#c4f6f8"/><circle cx="432.6" cy="625.8" r="5.3" fill="#c4f6f8"/><circle cx="490.1" cy="624.4" r="5.3" fill="#c4f6f8"/><circle cx="387.2" cy="629.5" r="5.3" fill="#c4f6f8"/><circle cx="414.2" cy="629.1" r="5.3" fill="#c4f6f8"/><circle cx="473.3" cy="630.2" r="5.3" fill="#c4f6f8"/><circle cx="397.8" cy="641.6" r="5.3" fill="#c4f6f8"/><circle cx="423.6" cy="641.3" r="5.3" fill="#c4f6f8"/><circle cx="442.7" cy="639.5" r="5.3" fill="#c4f6f8"/><circle cx="461.8" cy="640.4" r="5.3" fill="#c4f6f8"/><circle cx="484.4" cy="644.5" r="5.3" fill="#c4f6f8"/><circle cx="411.1" cy="651" r="5.3" fill="#c4f6f8"/><circle cx="470.4" cy="651.9" r="5.3" fill="#c4f6f8"/></g>
<g font-size="3.5" font-weight="bold" text-anchor="middle" fill="#000"><text x="288.7" y="525.7">POLR2F</text><text x="309.5" y="534">POLR2L</text><text x="314.2" y="550.4">POLR2E</text><text x="293.4" y="546.5">PPIE</text><text x="299.1" y="560.7">PRPF19</text><text x="308.7" y="570.2">ACTB</text><text x="368.1" y="540.8">HIST1H4C</text><text x="458.1" y="519.1">PPP4C</text><text x="469.7" y="528.3">UBE2T</text><text x="448.7" y="528.5">FEN1</text><text x="429.8" y="531.8">XRCC6</text><text x="414" y="535.6">UBE2N</text><text x="439" y="542.4">XRCC5</text><text x="460" y="541.7">RPA2</text><text x="408.3" y="547.2">CCNA2</text><text x="425.8" y="550.7">USP1</text><text x="392.5" y="552.5">PCNA</text><text x="416" y="558.5">CLSPN</text><text x="443.6" y="580.4">UBB</text><text x="337" y="517.8">H3F3A</text><text x="353.4" y="524.5">H2AFV</text><text x="372" y="522">H2AFZ</text><text x="333.5" y="539">HIST1H2BK</text><text x="382.3" y="509.1">RBBP7</text><text x="398.8" y="513">SUMO3</text><text x="415.8" y="507">APEX1</text><text x="433.3" y="515.1">POLD2</text><text x="389" y="527.8">NPM1</text><text x="356" y="557.6">DKC1</text><text x="371" y="565.2">CDK6</text><text x="356" y="575.2">CCND3</text><text x="327.7" y="579.2">RUVBL2</text><text x="387.5" y="579">CDK4</text><text x="407" y="579.6">MCM7</text><text x="424.3" y="572.5">FBXO5</text><text x="445.7" y="564.4">MCM3</text><text x="462.1" y="566">DHFR</text><text x="319.9" y="591.4">TUBB</text><text x="299.7" y="594.8">DYNLL1</text><text x="340" y="592.9">TOP2A</text><text x="373" y="590.7">CCNB2</text><text x="396.6" y="593.7">CCNB1</text><text x="411" y="595.2">CDT1</text><text x="433.5" y="591.8">ANAPC1</text><text x="464.2" y="586.3">PSMD2</text><text x="451.5" y="600.6">UBE2C</text><text x="473.3" y="600.2">PSME1</text><text x="325.6" y="600.5">SMC1A</text><text x="341.5" y="606.2">SMC3</text><text x="357.6" y="600.5">BIRC5</text><text x="287.5" y="603.6">YWHAQ</text><text x="291.3" y="613.5">YWHAG</text><text x="318.6" y="611.4">SSNA1</text><text x="336.8" y="617.5">TUBG1</text><text x="368" y="613.7">CENPF</text><text x="304.8" y="621.3">TUBB4B</text><text x="353.1" y="622.6">NUDC</text><text x="320.4" y="627.8">DCTN3</text><text x="338.6" y="630.4">RAB6A</text><text x="425" y="606.4">CDC20</text><text x="489.3" y="613">PSMD8</text><text x="468.9" y="612.2">PSMA4</text><text x="396.6" y="617.3">PSMD6</text><text x="414.6" y="615.7">BUB3</text><text x="440.3" y="613.2">PSMD7</text><text x="455.2" y="623">PSMC4</text><text x="432.6" y="627">PSMA7</text><text x="490.1" y="625.6">PSMD1</text><text x="387.2" y="630.7">PSMD4</text><text x="414.2" y="630.3">PSMA1</text><text x="473.3" y="631.4">PSMB3</text><text x="397.8" y="642.8">PSMC5</text><text x="423.6" y="642.5">PSMB1</text><text x="442.7" y="640.7">PSMA5</text><text x="461.8" y="641.6">PSMC2</text><text x="484.4" y="645.7">RPN2</text><text x="411.1" y="652.2">PSMC1</text><text x="470.4" y="653.1">PTTG1</text></g>
<ellipse cx="291.7" cy="638.4" rx="4.9" ry="2.9" fill="#a6e8f0"/>
<ellipse cx="291.9" cy="649.8" rx="4.9" ry="2.9" fill="#f08ce8"/>
<text x="300" y="641.04" font-size="7.15" text-anchor="start" fill="#333" stroke="#333" stroke-width="0.08">Cell cycle</text>
<text x="300" y="652.54" font-size="7.15" text-anchor="start" fill="#333" stroke="#333" stroke-width="0.08">DNA repair</text>
<rect x="0" y="0" width="520" height="1.1" fill="#111"/><rect x="0" y="0" width="1.1" height="666" fill="#111"/><rect x="518.8" y="0" width="1.2" height="666" fill="#111"/><rect x="0" y="664.9" width="520" height="1.1" fill="#111"/>
</svg></body></html>
